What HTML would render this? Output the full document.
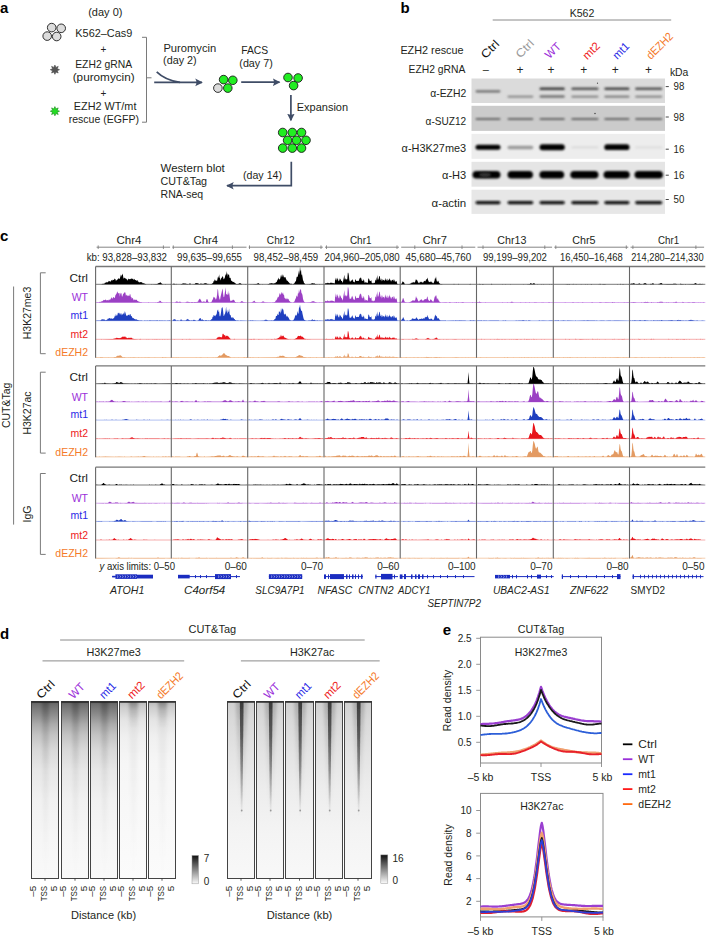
<!DOCTYPE html>
<html><head><meta charset="utf-8"><title>Figure</title>
<style>
html,body{margin:0;padding:0;background:#fff;}
body{width:706px;height:937px;overflow:hidden;}
svg{display:block;font-family:"Liberation Sans", sans-serif;font-size:10.5px;fill:#231f20;}
</style></head><body>
<svg width="706" height="937" viewBox="0 0 706 937">
<text x="0" y="12.7" font-weight="bold" fill="#000" font-size="15">a</text>
<text x="105.3" y="15.6" text-anchor="middle" font-size="11">(day 0)</text>
<circle cx="51.7" cy="27.6" r="4.3" fill="#dcdcdc" stroke="#1a1a1a" stroke-width="0.9"/>
<circle cx="61.2" cy="28.3" r="4.3" fill="#dcdcdc" stroke="#1a1a1a" stroke-width="0.9"/>
<circle cx="47.2" cy="36.1" r="4.3" fill="#dcdcdc" stroke="#1a1a1a" stroke-width="0.9"/>
<circle cx="56.7" cy="36.5" r="4.3" fill="#dcdcdc" stroke="#1a1a1a" stroke-width="0.9"/>
<text x="75.3" y="37.1" textLength="57" lengthAdjust="spacingAndGlyphs" font-size="11">K562–Cas9</text>
<text x="103.3" y="53.2" text-anchor="middle" font-size="10">+</text>
<polygon points="59.5,69.7 57.2,70.7 58.2,73 55.9,72 54.9,74.3 53.9,72 51.6,73 52.6,70.7 50.3,69.7 52.6,68.7 51.6,66.4 53.9,67.4 54.9,65.1 55.9,67.4 58.2,66.4 57.2,68.7" fill="#555" stroke="#444" stroke-width="0.6"/>
<text x="75.2" y="68.3" textLength="57" lengthAdjust="spacingAndGlyphs" font-size="11">EZH2 gRNA</text>
<text x="72.7" y="80.8" textLength="62" lengthAdjust="spacingAndGlyphs" font-size="11">(puromycin)</text>
<text x="103.3" y="96.8" text-anchor="middle" font-size="10">+</text>
<polygon points="59.5,111.2 57.2,112.2 58.2,114.5 55.9,113.5 54.9,115.8 53.9,113.5 51.6,114.5 52.6,112.2 50.3,111.2 52.6,110.2 51.6,107.9 53.9,108.9 54.9,106.6 55.9,108.9 58.2,107.9 57.2,110.2" fill="#22dd22" stroke="#158a15" stroke-width="0.6"/>
<text x="73.8" y="110.2" textLength="62.6" lengthAdjust="spacingAndGlyphs" font-size="11">EZH2 WT/mt</text>
<text x="68.7" y="122.8" textLength="70.3" lengthAdjust="spacingAndGlyphs" font-size="11">rescue (EGFP)</text>
<path d="M142,37.3 H146.5 V122.2 H142 M146.5,77.8 H151.5" fill="none" stroke="#7a7a7a" stroke-width="1"/>
<defs><marker id="ah" viewBox="0 0 10 10" refX="8" refY="5" markerWidth="5" markerHeight="5" orient="auto-start-reverse"><path d="M0,0.5 L9,5 L0,9.5 Q3,5 0,0.5 Z" fill="#3f4c66"/></marker></defs>
<path d="M154.2,82.4 H202" fill="none" stroke="#3f4c66" stroke-width="1.7" marker-end="url(#ah)"/>
<path d="M156.7,71.8 Q165,80 180,82.4" fill="none" stroke="#3f4c66" stroke-width="1.7"/>
<text x="163.4" y="51.5" textLength="52.8" lengthAdjust="spacingAndGlyphs" font-size="11">Puromycin</text>
<text x="163.1" y="64" textLength="33.6" lengthAdjust="spacingAndGlyphs" font-size="11">(day 2)</text>
<circle cx="217.9" cy="88.1" r="4.3" fill="#dcdcdc" stroke="#1a1a1a" stroke-width="0.9"/>
<circle cx="223.6" cy="79.6" r="4.3" fill="#22ee22" stroke="#1a1a1a" stroke-width="0.9"/>
<circle cx="232.8" cy="80.3" r="4.3" fill="#22ee22" stroke="#1a1a1a" stroke-width="0.9"/>
<circle cx="227.8" cy="88.1" r="4.3" fill="#22ee22" stroke="#1a1a1a" stroke-width="0.9"/>
<text x="241.2" y="53.8" textLength="27" lengthAdjust="spacingAndGlyphs" font-size="11">FACS</text>
<text x="239.3" y="66.6" textLength="33.5" lengthAdjust="spacingAndGlyphs" font-size="11">(day 7)</text>
<path d="M241.2,82.2 H279.5" fill="none" stroke="#3f4c66" stroke-width="1.7" marker-end="url(#ah)"/>
<circle cx="288" cy="77.5" r="4.3" fill="#22ee22" stroke="#1a1a1a" stroke-width="0.9"/>
<circle cx="298.1" cy="78" r="4.3" fill="#22ee22" stroke="#1a1a1a" stroke-width="0.9"/>
<circle cx="293.6" cy="85.6" r="4.3" fill="#22ee22" stroke="#1a1a1a" stroke-width="0.9"/>
<path d="M290.9,95 V120.3" fill="none" stroke="#3f4c66" stroke-width="1.7" marker-end="url(#ah)"/>
<text x="296.8" y="111" textLength="51.3" lengthAdjust="spacingAndGlyphs" font-size="11">Expansion</text>
<circle cx="282.7" cy="132.5" r="4.3" fill="#22ee22" stroke="#1a1a1a" stroke-width="0.9"/>
<circle cx="292.3" cy="132.5" r="4.3" fill="#22ee22" stroke="#1a1a1a" stroke-width="0.9"/>
<circle cx="301.5" cy="132.5" r="4.3" fill="#22ee22" stroke="#1a1a1a" stroke-width="0.9"/>
<circle cx="287.6" cy="140.3" r="4.3" fill="#22ee22" stroke="#1a1a1a" stroke-width="0.9"/>
<circle cx="296.5" cy="140.3" r="4.3" fill="#22ee22" stroke="#1a1a1a" stroke-width="0.9"/>
<circle cx="306" cy="140.3" r="4.3" fill="#22ee22" stroke="#1a1a1a" stroke-width="0.9"/>
<circle cx="282.7" cy="148.1" r="4.3" fill="#22ee22" stroke="#1a1a1a" stroke-width="0.9"/>
<circle cx="292.3" cy="148.1" r="4.3" fill="#22ee22" stroke="#1a1a1a" stroke-width="0.9"/>
<circle cx="301.5" cy="148.1" r="4.3" fill="#22ee22" stroke="#1a1a1a" stroke-width="0.9"/>
<path d="M291.3,161.7 V185.7 H227" fill="none" stroke="#3f4c66" stroke-width="1.7" marker-end="url(#ah)"/>
<text x="243" y="179.1" textLength="39" lengthAdjust="spacingAndGlyphs" font-size="11">(day 14)</text>
<text x="160.6" y="172.3" textLength="64.2" lengthAdjust="spacingAndGlyphs" font-size="11">Western blot</text>
<text x="160.6" y="185" textLength="46.5" lengthAdjust="spacingAndGlyphs" font-size="11">CUT&amp;Tag</text>
<text x="160.6" y="197.8" textLength="42.6" lengthAdjust="spacingAndGlyphs" font-size="11">RNA-seq</text>
<text x="400.4" y="13.3" font-weight="bold" fill="#000" font-size="15">b</text>
<text x="582" y="16.7" text-anchor="middle" textLength="24.7" lengthAdjust="spacingAndGlyphs">K562</text>
<line x1="492.7" y1="20" x2="671.2" y2="20" stroke="#8a8a8a" stroke-width="1"/>
<text x="400.4" y="53.5" textLength="63.2" lengthAdjust="spacingAndGlyphs">EZH2 rescue</text>
<text x="408.6" y="73.4" textLength="56.8" lengthAdjust="spacingAndGlyphs">EZH2 gRNA</text>
<text x="485.5" y="59.3" textLength="20.6" lengthAdjust="spacingAndGlyphs" transform="rotate(-45 485.5 59.3)" fill="#111" font-size="11.5">Ctrl</text>
<text x="520.2" y="58.8" textLength="20.6" lengthAdjust="spacingAndGlyphs" transform="rotate(-45 520.2 58.8)" fill="#9a9a9a" font-size="11.5">Ctrl</text>
<text x="549.6" y="59.3" textLength="17" lengthAdjust="spacingAndGlyphs" transform="rotate(-45 549.6 59.3)" fill="#9b30d9" font-size="11.5">WT</text>
<text x="587.2" y="60.2" textLength="19.2" lengthAdjust="spacingAndGlyphs" transform="rotate(-45 587.2 60.2)" fill="#ee2222" font-size="11.5">mt2</text>
<text x="617.3" y="59.9" textLength="18.2" lengthAdjust="spacingAndGlyphs" transform="rotate(-45 617.3 59.9)" fill="#2a2ae6" font-size="11.5">mt1</text>
<text x="651" y="59.9" textLength="32.2" lengthAdjust="spacingAndGlyphs" transform="rotate(-45 651 59.9)" fill="#f47a2a" font-size="11.5">dEZH2</text>
<text x="485.7" y="73" text-anchor="middle" font-size="11">–</text>
<text x="519.9" y="73.6" text-anchor="middle" font-size="12">+</text>
<text x="551" y="73.6" text-anchor="middle" font-size="12">+</text>
<text x="583.7" y="73.6" text-anchor="middle" font-size="12">+</text>
<text x="615.2" y="73.6" text-anchor="middle" font-size="12">+</text>
<text x="648.6" y="73.6" text-anchor="middle" font-size="12">+</text>
<text x="669.9" y="75.6" textLength="18.5" lengthAdjust="spacingAndGlyphs">kDa</text>
<defs><filter id="bl" x="-20%" y="-200%" width="140%" height="500%"><feGaussianBlur stdDeviation="0.9"/></filter><filter id="bl2" x="-20%" y="-200%" width="140%" height="500%"><feGaussianBlur stdDeviation="1.3"/></filter></defs>
<rect x="471.5" y="78.5" width="193.5" height="24.5" fill="#dbdbdb"/>
<rect x="471.5" y="105.8" width="193.5" height="25.1" fill="#cbcbcb"/>
<rect x="471.5" y="133.9" width="193.5" height="24.9" fill="#ededed"/>
<rect x="471.5" y="161.8" width="193.5" height="24.9" fill="#e5e5e5"/>
<rect x="471.5" y="189.7" width="193.5" height="24.2" fill="#e7e7e7"/>
<rect x="475.5" y="90.2" width="25" height="2.2" rx="1.1" fill="#6a6a6a" opacity="1" filter="url(#bl)"/>
<rect x="507.5" y="95.7" width="25.8" height="1.8" rx="0.9" fill="#7a7a7a" opacity="1" filter="url(#bl)"/>
<rect x="539.5" y="87.5" width="25.3" height="2.6" rx="1.3" fill="#3a3a3a" opacity="1" filter="url(#bl)"/>
<rect x="539.5" y="95.6" width="25.3" height="2" rx="1" fill="#5a5a5a" opacity="1" filter="url(#bl)"/>
<rect x="571.3" y="87.6" width="27.2" height="2.4" rx="1.2" fill="#555" opacity="1" filter="url(#bl)"/>
<rect x="571.3" y="95.7" width="27.2" height="1.8" rx="0.9" fill="#777" opacity="1" filter="url(#bl)"/>
<rect x="604.3" y="87.5" width="25.2" height="2.6" rx="1.3" fill="#444" opacity="1" filter="url(#bl)"/>
<rect x="604.3" y="95.7" width="25.2" height="1.8" rx="0.9" fill="#6a6a6a" opacity="1" filter="url(#bl)"/>
<rect x="635.1" y="87.6" width="27.2" height="2.4" rx="1.2" fill="#555" opacity="1" filter="url(#bl)"/>
<rect x="635.1" y="95.7" width="27.2" height="1.8" rx="0.9" fill="#777" opacity="1" filter="url(#bl)"/>
<rect x="475.5" y="117.9" width="25" height="2" rx="1" fill="#666" opacity="1" filter="url(#bl)"/>
<rect x="507.5" y="117.9" width="25.8" height="2" rx="1" fill="#666" opacity="1" filter="url(#bl)"/>
<rect x="539.5" y="117.9" width="25.3" height="2" rx="1" fill="#666" opacity="1" filter="url(#bl)"/>
<rect x="571.3" y="117.9" width="27.2" height="2" rx="1" fill="#666" opacity="1" filter="url(#bl)"/>
<rect x="604.3" y="117.9" width="25.2" height="2" rx="1" fill="#666" opacity="1" filter="url(#bl)"/>
<rect x="635.1" y="117.9" width="27.2" height="2" rx="1" fill="#666" opacity="1" filter="url(#bl)"/>
<rect x="475.5" y="144.8" width="25" height="5" rx="2.5" fill="#000" opacity="1" filter="url(#bl2)"/>
<rect x="507.5" y="145.7" width="25.8" height="3.6" rx="1.8" fill="#9a9a9a" opacity="1" filter="url(#bl2)"/>
<rect x="539.5" y="144.2" width="25.3" height="6" rx="3" fill="#000" opacity="1" filter="url(#bl2)"/>
<rect x="571.3" y="146.2" width="27.2" height="2.4" rx="1.2" fill="#dcdcdc" opacity="1" filter="url(#bl)"/>
<rect x="604.3" y="144.3" width="25.2" height="5.8" rx="2.9" fill="#000" opacity="1" filter="url(#bl2)"/>
<rect x="635.1" y="146.2" width="27.2" height="2.4" rx="1.2" fill="#dedede" opacity="1" filter="url(#bl)"/>
<rect x="472.5" y="171" width="28" height="7.6" rx="3.8" fill="#000" filter="url(#bl2)"/>
<rect x="507.5" y="171" width="25.5" height="7.6" rx="3.8" fill="#000" filter="url(#bl2)"/>
<rect x="539.4" y="171" width="24.8" height="7.6" rx="3.8" fill="#000" filter="url(#bl2)"/>
<rect x="570.3" y="171" width="28.2" height="7.6" rx="3.8" fill="#000" filter="url(#bl2)"/>
<rect x="603.5" y="171" width="26.3" height="7.6" rx="3.8" fill="#000" filter="url(#bl2)"/>
<rect x="634.5" y="171" width="28.5" height="7.6" rx="3.8" fill="#000" filter="url(#bl2)"/>
<ellipse cx="485" cy="174.8" rx="6" ry="2.4" fill="#333" filter="url(#bl2)"/>
<rect x="475.5" y="200.9" width="25" height="3.3" rx="1.6" fill="#111" opacity="1" filter="url(#bl)"/>
<rect x="507.5" y="200.9" width="25.8" height="3.3" rx="1.6" fill="#111" opacity="1" filter="url(#bl)"/>
<rect x="539.5" y="200.9" width="25.3" height="3.3" rx="1.6" fill="#111" opacity="1" filter="url(#bl)"/>
<rect x="571.3" y="200.9" width="27.2" height="3.3" rx="1.6" fill="#111" opacity="1" filter="url(#bl)"/>
<rect x="604.3" y="200.9" width="25.2" height="3.3" rx="1.6" fill="#111" opacity="1" filter="url(#bl)"/>
<rect x="635.1" y="200.9" width="27.2" height="3.3" rx="1.6" fill="#111" opacity="1" filter="url(#bl)"/>
<circle cx="597.5" cy="83.2" r="0.6" fill="#444"/><circle cx="595" cy="113.5" r="0.7" fill="#333"/>
<line x1="665.7" y1="86.6" x2="668.8" y2="86.6" stroke="#333" stroke-width="0.9"/>
<text x="673.6" y="90.4" textLength="10.8" lengthAdjust="spacingAndGlyphs">98</text>
<line x1="665.7" y1="117" x2="668.8" y2="117" stroke="#333" stroke-width="0.9"/>
<text x="673.6" y="120.8" textLength="10.8" lengthAdjust="spacingAndGlyphs">98</text>
<line x1="665.7" y1="149.2" x2="668.8" y2="149.2" stroke="#333" stroke-width="0.9"/>
<text x="673.6" y="153" textLength="10.8" lengthAdjust="spacingAndGlyphs">16</text>
<line x1="665.7" y1="175.2" x2="668.8" y2="175.2" stroke="#333" stroke-width="0.9"/>
<text x="673.6" y="179" textLength="10.8" lengthAdjust="spacingAndGlyphs">16</text>
<line x1="665.7" y1="199.5" x2="668.8" y2="199.5" stroke="#333" stroke-width="0.9"/>
<text x="673.6" y="203.3" textLength="10.8" lengthAdjust="spacingAndGlyphs">50</text>
<text x="466.2" y="97.4" text-anchor="end" textLength="36" lengthAdjust="spacingAndGlyphs" font-size="11">α-EZH2</text>
<text x="466.2" y="124.9" text-anchor="end" textLength="40.6" lengthAdjust="spacingAndGlyphs" font-size="11">α-SUZ12</text>
<text x="466.2" y="152.4" text-anchor="end" textLength="64.6" lengthAdjust="spacingAndGlyphs" font-size="11">α-H3K27me3</text>
<text x="466.2" y="179.3" text-anchor="end" textLength="24.2" lengthAdjust="spacingAndGlyphs" font-size="11">α-H3</text>
<text x="466.2" y="206.5" text-anchor="end" textLength="34.7" lengthAdjust="spacingAndGlyphs" font-size="11">α-actin</text>
<text x="0" y="240.8" font-weight="bold" fill="#000" font-size="15">c</text>
<text x="129" y="243.8" text-anchor="middle" textLength="25.1" lengthAdjust="spacingAndGlyphs">Chr4</text>
<line x1="96.6" y1="247.2" x2="170.1" y2="247.2" stroke="#777" stroke-width="0.9"/>
<line x1="98.2" y1="245.4" x2="98.2" y2="249" stroke="#777" stroke-width="0.8"/>
<line x1="163.4" y1="245.4" x2="163.4" y2="249" stroke="#777" stroke-width="0.8"/>
<text x="167" y="260.6" text-anchor="end" textLength="80.3" lengthAdjust="spacingAndGlyphs" font-size="10.3">kb: 93,828–93,832</text>
<text x="205.8" y="243.8" text-anchor="middle" textLength="24.6" lengthAdjust="spacingAndGlyphs">Chr4</text>
<line x1="172.3" y1="247.2" x2="246.5" y2="247.2" stroke="#777" stroke-width="0.9"/>
<line x1="173.3" y1="245.4" x2="173.3" y2="249" stroke="#777" stroke-width="0.8"/>
<line x1="232.4" y1="245.4" x2="232.4" y2="249" stroke="#777" stroke-width="0.8"/>
<text x="209.5" y="260.6" text-anchor="middle" textLength="65" lengthAdjust="spacingAndGlyphs" font-size="10.3">99,635–99,655</text>
<text x="280.7" y="243.8" text-anchor="middle" textLength="27.7" lengthAdjust="spacingAndGlyphs">Chr12</text>
<line x1="248.7" y1="247.2" x2="322.8" y2="247.2" stroke="#777" stroke-width="0.9"/>
<line x1="249.5" y1="245.4" x2="249.5" y2="249" stroke="#777" stroke-width="0.8"/>
<line x1="321" y1="245.4" x2="321" y2="249" stroke="#777" stroke-width="0.8"/>
<text x="285.9" y="260.6" text-anchor="middle" textLength="64.6" lengthAdjust="spacingAndGlyphs" font-size="10.3">98,452–98,459</text>
<text x="360.7" y="243.8" text-anchor="middle" textLength="21.6" lengthAdjust="spacingAndGlyphs">Chr1</text>
<line x1="325" y1="247.2" x2="399" y2="247.2" stroke="#777" stroke-width="0.9"/>
<line x1="326.5" y1="245.4" x2="326.5" y2="249" stroke="#777" stroke-width="0.8"/>
<line x1="397" y1="245.4" x2="397" y2="249" stroke="#777" stroke-width="0.8"/>
<text x="362.1" y="260.6" text-anchor="middle" textLength="75" lengthAdjust="spacingAndGlyphs" font-size="10.3">204,960–205,080</text>
<text x="434.9" y="243.8" text-anchor="middle" textLength="24.2" lengthAdjust="spacingAndGlyphs">Chr7</text>
<line x1="401.2" y1="247.2" x2="475.3" y2="247.2" stroke="#777" stroke-width="0.9"/>
<line x1="414.8" y1="245.4" x2="414.8" y2="249" stroke="#777" stroke-width="0.8"/>
<line x1="462" y1="245.4" x2="462" y2="249" stroke="#777" stroke-width="0.8"/>
<text x="438.4" y="260.6" text-anchor="middle" textLength="65.8" lengthAdjust="spacingAndGlyphs" font-size="10.3">45,680–45,760</text>
<text x="511.8" y="243.8" text-anchor="middle" textLength="29.1" lengthAdjust="spacingAndGlyphs">Chr13</text>
<line x1="477.5" y1="247.2" x2="552.1" y2="247.2" stroke="#777" stroke-width="0.9"/>
<line x1="483" y1="245.4" x2="483" y2="249" stroke="#777" stroke-width="0.8"/>
<line x1="544.8" y1="245.4" x2="544.8" y2="249" stroke="#777" stroke-width="0.8"/>
<text x="514.9" y="260.6" text-anchor="middle" textLength="64" lengthAdjust="spacingAndGlyphs" font-size="10.3">99,199–99,202</text>
<text x="583.8" y="243.8" text-anchor="middle" textLength="23.3" lengthAdjust="spacingAndGlyphs">Chr5</text>
<line x1="554.3" y1="247.2" x2="628.3" y2="247.2" stroke="#777" stroke-width="0.9"/>
<line x1="555.8" y1="245.4" x2="555.8" y2="249" stroke="#777" stroke-width="0.8"/>
<line x1="626.3" y1="245.4" x2="626.3" y2="249" stroke="#777" stroke-width="0.8"/>
<text x="591.4" y="260.6" text-anchor="middle" textLength="62.8" lengthAdjust="spacingAndGlyphs" font-size="10.3">16,450–16,468</text>
<text x="668.6" y="243.8" text-anchor="middle" textLength="21.1" lengthAdjust="spacingAndGlyphs">Chr1</text>
<line x1="630.5" y1="247.2" x2="704.1" y2="247.2" stroke="#777" stroke-width="0.9"/>
<line x1="632.9" y1="245.4" x2="632.9" y2="249" stroke="#777" stroke-width="0.8"/>
<line x1="695.9" y1="245.4" x2="695.9" y2="249" stroke="#777" stroke-width="0.8"/>
<text x="667.4" y="260.6" text-anchor="middle" textLength="72.5" lengthAdjust="spacingAndGlyphs" font-size="10.3">214,280–214,330</text>
<line x1="95.6" y1="284.3" x2="705.3" y2="284.3" stroke="#6a6a6a" stroke-width="0.9"/>
<polygon points="96.4,284.3 96.4,284.2 101.4,284.2 101.9,284.1 102.4,283.8 102.9,283.9 103.4,283.7 103.9,283.7 104.4,283.7 104.9,282.8 105.4,282.7 105.9,282.5 106.4,282.5 106.9,281.7 107.4,282.3 107.9,282.4 108.4,281.6 108.9,280.8 109.4,281.5 109.9,281.1 110.4,281.8 110.9,281.2 111.4,280.2 111.9,280 112.4,280.8 112.9,279.6 113.4,279.9 113.9,280 114.4,278.3 114.9,279.4 115.4,278.8 115.9,280.9 116.4,280 116.9,280.5 117.4,279.5 117.9,278.9 118.4,278.5 118.9,278.3 119.4,279 119.9,278.5 120.4,274.2 120.9,277.8 121.4,274.9 121.9,275.8 122.4,273.5 122.9,275 123.4,278 123.9,278.7 124.4,277.7 124.9,277.7 125.4,278.2 125.9,279.1 126.4,279.5 126.9,278.6 127.4,280.4 127.9,280.3 128.4,278.6 128.9,279 129.4,278.9 129.9,279.5 130.4,279.1 130.9,278.8 131.4,278.5 131.9,278.8 132.4,278.9 132.9,278.6 133.4,280.2 133.9,278.8 134.4,278.9 134.9,280 135.4,280.1 135.9,280.3 136.4,280.7 136.9,280.5 137.4,280.1 137.9,281.4 138.4,281.4 138.9,282.2 139.4,282 139.9,282.7 140.4,282.1 140.9,281.9 141.4,282.2 141.9,282.2 142.4,282.8 142.9,283.4 143.4,283 143.9,283.4 144.4,283.5 144.9,283.8 145.4,283.9 145.9,284.1 146.4,284.2 150.9,284.3 151.4,284 151.9,284.3 156.9,284.1 157.4,283.8 157.9,283.8 158.4,283.1 158.9,283.2 159.4,282.8 159.9,282.7 160.4,281.9 160.9,282.9 161.4,283.2 161.9,283.8 162.4,283.9 162.9,284.2 164.9,284.3 165.4,283.9 165.9,284.2 169.9,284.2 170.4,283.8 170.5,284.3" fill="#000000"/>
<polygon points="172.1,284.3 172.1,284.3 173.1,284.2 173.6,283.5 174.1,283.8 174.6,283.7 175.1,284.2 175.6,284.3 176.1,283.8 176.6,284.3 180.6,284.2 181.1,284 181.6,284.1 182.1,284 182.6,283.4 183.1,283.2 183.6,283.6 184.1,283.6 184.6,283.5 185.1,283.4 185.6,283.6 186.1,284 186.6,283.8 187.1,283.9 187.6,283.9 188.1,284 188.6,284.2 189.1,284.1 189.6,283.5 190.1,283.1 190.6,283.9 191.1,284.2 192.6,284.2 193.1,284.1 193.6,284.2 194.1,284.2 194.6,284 195.1,283.7 195.6,282.9 196.1,283.3 196.6,283 197.1,283.3 197.6,283.2 198.1,283.3 198.6,283.8 199.1,284 199.6,283.9 200.1,283.9 200.6,283.5 201.1,283.5 201.6,283.8 202.1,284 202.6,283.7 203.1,284 203.6,283.7 204.1,283.5 204.6,283.2 205.1,283.4 205.6,283.1 206.1,283.3 206.6,283.5 207.1,283.7 207.6,284 208.1,283.8 208.6,284.2 209.1,284 209.6,284.2 211.1,284.1 211.6,283.9 212.1,283.6 212.6,283.2 213.1,283 213.6,280.9 214.1,281.5 214.6,279.4 215.1,279.8 215.6,280.7 216.1,281 216.6,280.4 217.1,280.8 217.6,278.2 218.1,276.3 218.6,278.3 219.1,274.3 219.6,277.7 220.1,278.6 220.6,280.6 221.1,278.5 221.6,277.8 222.1,277.2 222.6,276.1 223.1,277 223.6,279.4 224.1,278.6 224.6,278.6 225.1,276.3 225.6,274.6 226.1,274.5 226.6,271 227.1,276.7 227.6,273.1 228.1,275.1 228.6,274.2 229.1,274.8 229.6,278.1 230.1,277.8 230.6,278.1 231.1,281 231.6,280.5 232.1,281.2 232.6,281.7 233.1,281.8 233.6,282.2 234.1,281.7 234.6,283 235.1,283.1 235.6,283.6 236.1,283.9 236.6,284.1 238.1,284.1 238.6,283.8 239.1,283.4 239.6,283.3 240.1,283.1 240.6,283.6 241.1,283.7 241.6,284 242.1,284.2 245.1,284.3 245.6,284 246.1,284.3 246.6,284.2 246.9,284.3" fill="#000000"/>
<polygon points="248.5,284.3 248.5,284.2 250.5,284.2 251,284 251.5,284.3 255.5,284.1 256,284 256.5,284 257,283.7 257.5,283.4 258,283.3 258.5,282.9 259,283.7 259.5,284 260,284.1 260.5,284.2 262,284.2 262.5,284.1 263,284.3 267.5,284.2 268,284.1 268.5,284.1 269,284 269.5,283.5 270,283.3 270.5,283.6 271,283.3 271.5,283.2 272,283 272.5,283.6 273,283.5 273.5,283.5 274,283.6 274.5,283 275,283.4 275.5,282.7 276,282.2 276.5,281.9 277,281.5 277.5,279.5 278,279.7 278.5,277.6 279,278.9 279.5,279.5 280,279.2 280.5,277.3 281,274.7 281.5,277.5 282,274.1 282.5,275.5 283,277.6 283.5,274.4 284,277.8 284.5,277.1 285,277.5 285.5,277.1 286,279 286.5,279.7 287,281.1 287.5,280.4 288,281.4 288.5,282.1 289,282.5 289.5,283.3 290,283.4 290.5,283.9 291,283.5 291.5,283.8 292,284.2 292.5,284.2 293,284 293.5,284 294,283.6 294.5,283.2 295,282.1 295.5,281.6 296,280.7 296.5,277.5 297,276.6 297.5,277.2 298,275.3 298.5,273.3 299,270.2 299.5,275 300,266.1 300.5,271.8 301,269.4 301.5,275.4 302,273.9 302.5,277 303,280.2 303.5,281.1 304,283.1 304.5,283.2 305,284 305.5,284.2 307.5,284.2 308,283.9 308.5,284.2 309,284.2 309.5,283.9 310,284.1 310.5,284 311,283.8 311.5,283.5 312,283.3 312.5,283.2 313,283.2 313.5,283.5 314,283.6 314.5,283.3 315,284 315.5,284 316,284.1 316.5,284.2 317,284 317.5,284.3 319,284.2 319.5,283.9 320,284.3 323,284.3 323.2,284.3" fill="#000000"/>
<polygon points="324.8,284.3 324.8,284.3 325.3,283.2 325.8,283.3 326.3,283.1 326.8,283.4 327.3,282.6 327.8,283.3 328.3,283.3 328.8,282.8 329.3,283.5 329.8,282.9 330.3,282.6 330.8,283 331.3,282.5 331.8,283.1 332.3,282.8 332.8,283.2 333.3,283.2 333.8,283.1 334.3,283.5 334.8,283.2 335.3,277.4 335.8,280 336.3,280.4 336.8,278 337.3,279.8 337.8,277.5 338.3,280.8 338.8,281.2 339.3,277.9 339.8,281.1 340.3,278.6 340.8,279.7 341.3,280.9 341.8,281 342.3,281.8 342.8,283 343.3,279.9 343.8,277.7 344.3,274.7 344.8,279.7 345.3,278.1 345.8,279.8 346.3,278.7 346.8,279.9 347.3,278.7 347.8,272.8 348.3,272.8 348.8,274.9 349.3,279.7 349.8,281.5 350.3,281.7 350.8,280.9 351.3,279.7 351.8,281.3 352.3,280.1 352.8,279 353.3,281.9 353.8,281.8 354.3,282.4 354.8,282 355.3,278.9 355.8,280 356.3,281 356.8,280.9 357.3,280.9 357.8,280.8 358.3,281 358.8,280.7 359.3,279.2 359.8,278 360.3,277.7 360.8,277.4 361.3,281 361.8,277.5 362.3,280.9 362.8,281.1 363.3,280.5 363.8,279.1 364.3,281.2 364.8,283 365.3,282.8 365.8,281.8 366.3,282.4 366.8,282.7 367.3,282.8 367.8,283.1 368.3,278.6 368.8,278.4 369.3,279.5 369.8,280.9 370.3,280.8 370.8,281.2 371.3,279.9 371.8,283.1 372.3,283.4 372.8,282.7 373.3,282.8 373.8,283.5 374.3,282.8 374.8,283.1 375.3,280.2 375.8,279.9 376.3,277.1 376.8,280.7 377.3,279.2 377.8,275 378.3,280.1 378.8,278.8 379.3,275.9 379.8,276.1 380.3,279.2 380.8,280.4 381.3,278.2 381.8,281.4 382.3,278.7 382.8,280.9 383.3,279.8 383.8,280.1 384.3,281.3 384.8,279.8 385.3,280.1 385.8,278 386.3,279.8 386.8,280.8 387.3,281.1 387.8,278.6 388.3,280.8 388.8,279.8 389.3,279.6 389.8,278.1 390.3,281.6 390.8,279.6 391.3,281.8 391.8,279.9 392.3,280.2 392.8,279.8 393.3,279.2 393.8,281.4 394.3,279.2 394.8,281.4 395.3,281.3 395.8,282 396.3,280.8 396.8,282.1 397.3,284.3 397.8,283.8 398.3,284.2 399.3,284.3 399.4,284.3" fill="#000000"/>
<polygon points="401,284.3 401,284.1 401.5,283.7 402,282.9 402.5,281.4 403,281.6 403.5,282.2 404,282.3 404.5,283.8 405,284.1 405.5,284.3 409.5,284.1 410,283.8 410.5,283.5 411,283.6 411.5,283 412,282.2 412.5,282.7 413,282.4 413.5,281.8 414,283 414.5,282.3 415,282.2 415.5,280.6 416,279 416.5,280.1 417,280.3 417.5,280.7 418,282.5 418.5,282.6 419,283.4 419.5,282.7 420,281.5 420.5,282.5 421,281.4 421.5,281.9 422,282.6 422.5,282.4 423,282.5 423.5,282.2 424,280.7 424.5,281.3 425,280.8 425.5,281.5 426,279.4 426.5,279.5 427,279.1 427.5,277.6 428,280.1 428.5,280.9 429,282.2 429.5,281.9 430,281.8 430.5,282.2 431,280.8 431.5,282.4 432,281.8 432.5,283 433,283.3 433.5,283.2 434,282 434.5,280.8 435,278.1 435.5,279.1 436,276.2 436.5,279.9 437,281.7 437.5,281.8 438,280.5 438.5,281.2 439,282.8 439.5,283.3 440,283.8 440.5,284.1 441,284.2 441.5,283.9 442,283.9 442.5,284.3 453.5,284.3 454,283.8 454.5,284.2 458,284.2 458.5,283.8 459,284.2 469,284.2 469.5,283.9 470,284.3 470.5,283.8 471,284.2 475.5,284.2 475.7,284.3" fill="#000000"/>
<polygon points="477.3,284.3 477.3,284.2 479.3,284.2 479.8,283.8 480.3,284.1 480.8,284.2 481.8,284.3 482.3,283.9 482.8,283.9 483.3,284 483.8,284.3 490.8,284.3 491.3,283.9 491.8,283.8 492.3,284.2 502.3,284.2 502.8,284.1 503.3,284.2 504.8,284.3 505.3,283.9 505.8,284.2 509.8,284.3 510.3,284.1 510.8,284.3 523.3,284.2 523.8,283.9 524.3,284.2 527.3,284.3 527.8,284 528.3,284 528.8,284.2 529.3,283.9 529.8,283.9 530.3,283.5 530.8,283 531.3,283.4 531.8,283.7 532.3,283.7 532.8,283.9 533.3,283.4 533.8,282.9 534.3,283.4 534.8,283.6 535.3,284.2 537.3,284.2 537.8,284.1 538.3,284.3 541.3,284.3 541.8,284.1 542.3,284.2 542.8,284.3 543.3,283.9 543.8,284.2 549.3,284.3 549.8,284 550.3,284.3 550.8,284.2 551.3,284 551.8,284.2 552.3,284.2 552.5,284.3" fill="#000000"/>
<polygon points="554.1,284.3 554.1,284.2 565.6,284.2 566.1,284 566.6,284.2 567.6,284.1 568.1,284.1 568.6,284.3 569.1,284 569.6,283.9 570.1,284.3 572.6,284.2 573.1,283.8 573.6,284.2 575.6,284.3 576.1,284.1 576.6,284.2 580.6,284.3 581.1,284.1 581.6,284.3 585.1,284.2 585.6,284.1 586.1,284.3 587.1,284.3 587.6,283.9 588.1,284.3 590.6,284.3 591.1,284 591.6,284 592.1,284.3 598.6,284.2 599.1,283.8 599.6,284.2 600.1,284.2 600.6,283.8 601.1,284.3 604.1,284.1 604.6,283.9 605.1,284.2 605.6,284.1 606.1,284.3 617.1,284.3 617.6,283.9 618.1,284.2 620.1,284.2 620.6,283.8 621.1,284.2 622.1,284.2 622.6,284.1 623.1,284.2 623.6,283.9 624.1,284.2 628.1,284.2 628.6,283.9 628.7,284.3" fill="#000000"/>
<polygon points="630.3,284.3 630.3,284.1 630.8,283.8 631.3,283.7 631.8,283.6 632.3,283.8 632.8,283.5 633.3,283.5 633.8,283.1 634.3,283.3 634.8,283.9 635.3,284.1 635.8,284.2 636.3,283.9 636.8,284 637.3,284 637.8,284.1 638.3,283.9 638.8,283.4 639.3,283.4 639.8,283.4 640.3,284 640.8,284.1 642.8,284.2 643.3,284 643.8,283.6 644.3,283.4 644.8,283 645.3,283.2 645.8,283.3 646.3,283.7 646.8,284 647.3,284.2 649.8,284.3 650.3,283.8 650.8,284.1 651.3,284.1 651.8,283.8 652.3,283.7 652.8,283.1 653.3,283.2 653.8,283.9 654.3,284.2 658.3,284.2 658.8,283.8 659.3,283.9 659.8,283.6 660.3,283 660.8,283.4 661.3,283.1 661.8,283.3 662.3,283.8 662.8,284.2 667.3,284.1 667.8,283.9 668.3,284.1 668.8,284.1 672.8,284.1 673.3,284 673.8,283.6 674.3,283.8 674.8,283.8 675.3,284 675.8,283.6 676.3,284 676.8,284.1 677.3,284.3 679.8,284.2 680.3,284.1 680.8,283.6 681.3,284 681.8,284.1 684.8,284.2 685.3,284 685.8,284.1 686.3,284.3 693.8,284.1 694.3,283.8 694.8,283.5 695.3,283.3 695.8,283.1 696.3,283.6 696.8,283.9 697.3,284.1 697.8,284.2 698.3,284 698.8,284 699.3,283.8 699.8,284.1 700.3,284.1 700.8,283.8 701.3,284 701.8,283.9 702.3,284.2 702.8,283.8 703.3,284.2 704.3,284.3 704.5,284.3" fill="#000000"/>
<line x1="95.6" y1="302.5" x2="705.3" y2="302.5" stroke="#d7a8ee" stroke-width="0.9"/>
<polygon points="96.4,302.5 96.4,302.4 96.9,302.2 97.4,302.4 97.9,302.1 98.4,302.4 98.9,302.3 99.4,301.8 99.9,302.1 100.4,302 100.9,301.4 101.4,301.4 101.9,301.2 102.4,301.3 102.9,300.8 103.4,300.2 103.9,299.7 104.4,300.2 104.9,299.9 105.4,299.4 105.9,299.8 106.4,300.2 106.9,300.5 107.4,300.1 107.9,300.2 108.4,300.4 108.9,299.6 109.4,299.6 109.9,300.2 110.4,299.3 110.9,298.4 111.4,297.9 111.9,297 112.4,299.1 112.9,298 113.4,297.1 113.9,297.2 114.4,298.2 114.9,297.6 115.4,295.2 115.9,294.5 116.4,294 116.9,292.4 117.4,291.2 117.9,293.1 118.4,293.6 118.9,292.9 119.4,292.9 119.9,296.8 120.4,292.6 120.9,294 121.4,292.8 121.9,296.6 122.4,296.4 122.9,294.4 123.4,293.8 123.9,293.2 124.4,292.2 124.9,292.4 125.4,292.4 125.9,295.8 126.4,294.4 126.9,295.8 127.4,295.3 127.9,296.3 128.4,296.1 128.9,295.1 129.4,296.2 129.9,293.8 130.4,294.6 130.9,297.3 131.4,296.9 131.9,298.9 132.4,297.7 132.9,298.3 133.4,299.6 133.9,300.6 134.4,299.7 134.9,299.3 135.4,300.2 135.9,299.6 136.4,299.7 136.9,300 137.4,301 137.9,301 138.4,301.4 138.9,301.5 139.4,301.7 139.9,302 140.4,302 140.9,302.2 141.4,302 141.9,302.4 147.9,302.5 148.4,302.1 148.9,302.4 155.4,302.5 155.9,302.3 156.4,302.4 156.9,302.4 157.4,302.1 157.9,302.1 158.4,301.9 158.9,301.5 159.4,301.4 159.9,300.6 160.4,300.9 160.9,301.3 161.4,302 161.9,301.9 162.4,302.3 162.9,302.4 166.4,302.4 166.9,302.3 167.4,302.5 170.4,302.4 170.5,302.5" fill="#9b40c4"/>
<polygon points="172.1,302.5 172.1,302.5 175.1,302.4 175.6,302.1 176.1,301.5 176.6,301.6 177.1,301.5 177.6,301.7 178.1,301.8 178.6,302.2 179.1,302.2 179.6,301.4 180.1,301.6 180.6,302 181.1,302.3 181.6,302.4 185.1,302.4 185.6,302.3 186.1,302.2 186.6,301.8 187.1,301.4 187.6,301.7 188.1,302.1 188.6,301.8 189.1,301.9 189.6,302.1 190.1,302.4 190.6,302.3 191.1,302.1 191.6,301.9 192.1,301.9 192.6,302 193.1,301.9 193.6,302.4 194.1,301.9 194.6,302 195.1,301.9 195.6,301.9 196.1,302.3 196.6,302.1 197.1,301.8 197.6,301.8 198.1,301.8 198.6,300.1 199.1,299.6 199.6,298.7 200.1,298.8 200.6,299.7 201.1,300.4 201.6,301.7 202.1,301.8 202.6,301.9 203.1,301.2 203.6,301.7 204.1,301.3 204.6,301.7 205.1,302 205.6,301.9 206.1,300.9 206.6,299.3 207.1,298.9 207.6,299.8 208.1,301.4 208.6,301.9 209.1,302.4 210.1,302.4 210.6,302.2 211.1,302.2 211.6,301.7 212.1,300.6 212.6,299.7 213.1,298.6 213.6,296.6 214.1,298 214.6,297 215.1,297.7 215.6,299.4 216.1,299.3 216.6,297.8 217.1,294.4 217.6,288.8 218.1,290 218.6,295.3 219.1,297.3 219.6,299.5 220.1,299.5 220.6,296.4 221.1,294.5 221.6,292.5 222.1,290 222.6,288.5 223.1,293.6 223.6,296.9 224.1,297.3 224.6,294.3 225.1,291 225.6,287.2 226.1,294.1 226.6,294.2 227.1,294.7 227.6,294.8 228.1,290.7 228.6,295 229.1,292.5 229.6,296 230.1,300.1 230.6,301.3 231.1,301.1 231.6,300.4 232.1,300.8 232.6,299.9 233.1,299.4 233.6,300.1 234.1,300 234.6,300.9 235.1,301.9 235.6,301.9 236.1,302.3 236.6,302.4 237.1,302.4 237.6,302.2 238.1,302.4 239.6,302.4 240.1,302.2 240.6,301.9 241.1,301.2 241.6,301.2 242.1,301.4 242.6,301.3 243.1,301.7 243.6,302.2 244.1,302.3 246.6,302.4 246.9,302.5" fill="#9b40c4"/>
<polygon points="248.5,302.5 248.5,302.5 249,302.2 249.5,302.5 252,302.3 252.5,301.8 253,301.7 253.5,301.2 254,300.7 254.5,300.7 255,301.8 255.5,302.1 256,302.3 259.5,302.5 260,302.2 260.5,302.4 261,302.3 261.5,302.2 262,301.7 262.5,301.6 263,301.5 263.5,301.5 264,301.6 264.5,302.2 265,302.3 269.5,302.4 270,302.2 270.5,302.5 272.5,302.4 273,302 273.5,302.4 274,302.3 274.5,302 275,301.9 275.5,300.9 276,300.3 276.5,300.2 277,299.1 277.5,297.9 278,296.5 278.5,297.4 279,296 279.5,293.8 280,292.9 280.5,294.7 281,294.4 281.5,292.3 282,292.4 282.5,294.2 283,292.3 283.5,295.1 284,294.6 284.5,298.1 285,298.2 285.5,298.6 286,299.4 286.5,298.9 287,297.6 287.5,299.6 288,298.8 288.5,299 289,300.5 289.5,301 290,301.5 290.5,301.9 291,302.2 291.5,302.3 292,302.4 293,302.4 293.5,302.2 294,301.7 294.5,301.5 295,300.1 295.5,298.8 296,298 296.5,295.2 297,296.4 297.5,296.8 298,292.5 298.5,294.1 299,289 299.5,292.9 300,290.6 300.5,289 301,289.7 301.5,293.3 302,293.6 302.5,295.2 303,298.8 303.5,300.5 304,301.6 304.5,301.9 305,302.3 305.5,302.4 310,302.3 310.5,302.1 311,302 311.5,301.6 312,301.7 312.5,301 313,301.4 313.5,301 314,301.6 314.5,301.6 315,302 315.5,302 316,302.3 316.5,302.2 317,302.4 319,302.5 319.5,302.2 320,302.4 323,302.5 323.2,302.5" fill="#9b40c4"/>
<polygon points="324.8,302.5 324.8,302.5 325.3,300.7 325.8,301.1 326.3,300.9 326.8,301.4 327.3,300 327.8,301.3 328.3,301.2 328.8,300.7 329.3,301.4 329.8,300.8 330.3,300.4 330.8,301.2 331.3,300.2 331.8,301 332.3,300.5 332.8,301.1 333.3,301 333.8,301.3 334.3,301.4 334.8,301.4 335.3,293.1 335.8,297 336.3,297.4 336.8,294.3 337.3,296.5 337.8,293.7 338.3,297.6 338.8,298.5 339.3,294.1 339.8,298.8 340.3,295.1 340.8,296.6 341.3,298 341.8,298.2 342.3,299.3 342.8,300.8 343.3,296.4 343.8,293.9 344.3,290 344.8,296.6 345.3,294.4 345.8,296.5 346.3,295.2 346.8,296.8 347.3,295 347.8,287.2 348.3,287.5 348.8,290.4 349.3,296.7 349.8,298.9 350.3,298.9 350.8,298.5 351.3,296.1 351.8,298.8 352.3,297 352.8,295.6 353.3,299.5 353.8,299.2 354.3,300 354.8,299.6 355.3,295.5 355.8,296.5 356.3,298.3 356.8,298.2 357.3,298.1 357.8,297.7 358.3,298.1 358.8,297.9 359.3,295.9 359.8,294.2 360.3,293.9 360.8,293.3 361.3,298.3 361.8,293.7 362.3,298 362.8,298.4 363.3,297.5 363.8,295.7 364.3,298.2 364.8,300.8 365.3,300.5 365.8,299.3 366.3,300.5 366.8,300 367.3,300.6 367.8,301 368.3,295.2 368.8,294.8 369.3,296.3 369.8,298.1 370.3,297.9 370.8,298.6 371.3,296.7 371.8,300.9 372.3,301.3 372.8,300.2 373.3,300.8 373.8,301.4 374.3,300.6 374.8,300.8 375.3,297.1 375.8,296.8 376.3,293.2 376.8,297.7 377.3,295.9 377.8,290.9 378.3,297.1 378.8,295.4 379.3,291.6 379.8,291.9 380.3,295.7 380.8,297.5 381.3,294.8 381.8,298.7 382.3,295.1 382.8,298.1 383.3,296.7 383.8,297 384.3,298.7 384.8,296.6 385.3,296.7 385.8,294.3 386.3,296.7 386.8,297.8 387.3,298.3 387.8,295.1 388.3,298.4 388.8,296.2 389.3,296.4 389.8,294.3 390.3,298.7 390.8,296.2 391.3,299.3 391.8,297.3 392.3,297.2 392.8,296.7 393.3,295.9 393.8,299.2 394.3,296 394.8,298.8 395.3,298.5 395.8,299.5 396.3,297.9 396.8,299.4 397.3,302.5 398.8,302.4 399.3,302.1 399.4,302.5" fill="#9b40c4"/>
<polygon points="401,302.5 401,302.3 401.5,301.7 402,300.9 402.5,299.5 403,297.8 403.5,298.4 404,300 404.5,301.5 405,302 405.5,302.3 408,302.5 408.5,302.2 409,302.4 409.5,302.1 410,302 410.5,301.7 411,301.5 411.5,301.3 412,300.9 412.5,300.3 413,300.5 413.5,300.8 414,299.8 414.5,300.9 415,300.6 415.5,298.8 416,296 416.5,297.8 417,298.1 417.5,299.3 418,300.6 418.5,301.3 419,301.4 419.5,301.1 420,300 420.5,300.3 421,299.2 421.5,299.6 422,299.7 422.5,300.7 423,300.8 423.5,300.4 424,299.8 424.5,299.6 425,299 425.5,299 426,299.5 426.5,299 427,297.3 427.5,296.2 428,299.5 428.5,299.7 429,301.1 429.5,300.9 430,300.6 430.5,299.3 431,299.4 431.5,300.1 432,300.7 432.5,301.3 433,301.8 433.5,301.4 434,299.8 434.5,297.5 435,296.2 435.5,296.4 436,294.7 436.5,296.4 437,299.7 437.5,298.6 438,298.2 438.5,300.5 439,300.5 439.5,301.7 440,301.9 440.5,302.3 441,302.5 446,302.3 446.5,302.2 447,302.4 449,302.4 449.5,302 450,302.1 450.5,302.2 451,302.5 454,302.4 454.5,302.3 455,302.5 455.5,302.4 456,302.1 456.5,302.1 457,302.5 458,302.5 458.5,302.1 459,302.4 460.5,302.4 461,302.2 461.5,302.4 462,302.1 462.5,302.1 463,302.2 463.5,302 464,302.5 472,302.4 472.5,302 473,302.4 475,302.4 475.5,302.2 475.7,302.5" fill="#9b40c4"/>
<polygon points="477.3,302.5 477.3,302 477.8,302.1 478.3,302 478.8,302.4 479.3,301.6 479.8,301.8 480.3,301.9 480.8,302.2 481.3,302.5 481.8,302.2 482.3,302.5 484.8,302.4 485.3,302 485.8,302.4 501.8,302.4 502.3,302.1 502.8,302.4 506.8,302.5 507.3,302.1 507.8,302.4 510.3,302.4 510.8,302.1 511.3,302.1 511.8,301.5 512.3,301.7 512.8,302.3 513.3,302.2 513.8,302.4 520.3,302.4 520.8,302.1 521.3,302.5 525.3,302.5 525.8,302.1 526.3,302.4 528.8,302.5 529.3,302.1 529.8,302.4 533.8,302.5 534.3,302 534.8,302.4 535.3,302.5 535.8,302 536.3,302.2 536.8,302.5 541.3,302.4 541.8,302.2 542.3,302.4 542.8,302.2 543.3,302.2 543.8,302.4 548.3,302.4 548.8,302.1 549.3,302.1 549.8,302.5 552.3,302.5 552.5,302.5" fill="#9b40c4"/>
<polygon points="554.1,302.5 554.1,302.5 564.6,302.5 565.1,302.1 565.6,302.4 572.1,302.5 572.6,302 573.1,302.4 573.6,302.1 574.1,302.4 576.6,302.5 577.1,302.3 577.6,302.5 578.1,302.4 578.6,302.2 579.1,302.5 582.1,302.4 582.6,302.1 583.1,302.3 583.6,302.5 591.1,302.5 591.6,302.2 592.1,302 592.6,302.2 593.1,302.4 599.1,302.4 599.6,302 600.1,302.5 600.6,302.1 601.1,302 601.6,302.5 604.6,302.5 605.1,302.3 605.6,302.3 611.6,302.4 612.1,302 612.6,302 613.1,302.1 613.6,302.4 614.1,302.4 614.6,302.1 615.1,302.4 617.6,302.5 618.1,302.3 618.6,302.4 623.6,302.4 624.1,302.1 624.6,302.4 628.6,302.3 628.7,302.5" fill="#9b40c4"/>
<polygon points="630.3,302.5 630.3,302.4 631.3,302.4 631.8,302.1 632.3,302.3 632.8,302.2 633.3,302.1 633.8,302 634.3,302.2 634.8,301.9 635.3,302.4 635.8,302 636.3,302.4 640.8,302.5 641.3,302.1 641.8,302.4 643.3,302.4 643.8,302.3 644.3,302.1 644.8,301.9 645.3,301.7 645.8,301.9 646.3,302 646.8,301.9 647.3,301.7 647.8,302.1 648.3,302.3 648.8,302.3 649.3,302.4 650.8,302.4 651.3,302.1 651.8,302 652.3,302.4 653.3,302.5 653.8,302.2 654.3,302.4 656.8,302.5 657.3,302.1 657.8,302.3 658.3,302.3 658.8,302.3 659.3,302 659.8,301.7 660.3,301.7 660.8,301.7 661.3,301.7 661.8,301.8 662.3,301.7 662.8,302.1 663.3,302.4 666.3,302.4 666.8,302 667.3,302.4 667.8,302.5 668.3,302.1 668.8,302.4 672.8,302.5 673.3,302.1 673.8,302.4 674.3,302.5 674.8,302.1 675.3,302 675.8,301.8 676.3,301.7 676.8,301.7 677.3,302.4 681.8,302.4 682.3,302.2 682.8,301.7 683.3,301.9 683.8,302.3 684.3,302.4 687.3,302.4 687.8,302.2 688.3,302.2 688.8,302.3 689.3,302.4 689.8,302.1 690.3,302.5 691.8,302.4 692.3,302.2 692.8,302 693.3,302.1 693.8,302.3 694.3,302.3 694.8,302.1 695.3,302.5 698.3,302.5 698.8,302.2 699.3,302.4 700.3,302.5 700.8,302.2 701.3,302.4 702.8,302.4 703.3,302 703.8,302.5 704.3,302.5 704.5,302.5" fill="#9b40c4"/>
<line x1="95.6" y1="320.7" x2="705.3" y2="320.7" stroke="#a9b9ef" stroke-width="0.9"/>
<polygon points="96.4,320.7 96.4,320.6 97.9,320.6 98.4,320.4 98.9,320.6 99.4,320.6 99.9,320.4 100.4,320.4 100.9,320.1 101.4,319.4 101.9,319.5 102.4,319.5 102.9,318.9 103.4,319.6 103.9,319.5 104.4,319.4 104.9,319.8 105.4,320.2 105.9,320.2 106.4,319.9 106.9,319.7 107.4,319.5 107.9,318.4 108.4,318.5 108.9,318.7 109.4,317.9 109.9,317.9 110.4,318.4 110.9,318.7 111.4,318 111.9,319.1 112.4,319.1 112.9,318.3 113.4,318.5 113.9,317.9 114.4,317.2 114.9,315.5 115.4,316.5 115.9,313.9 116.4,315.3 116.9,316.1 117.4,314.9 117.9,312.7 118.4,313.5 118.9,312.6 119.4,312.9 119.9,314.6 120.4,314.6 120.9,312.7 121.4,313.8 121.9,315.4 122.4,313.4 122.9,314.9 123.4,312.4 123.9,314.3 124.4,310.7 124.9,314.9 125.4,311.4 125.9,314.4 126.4,315.8 126.9,315.7 127.4,315.7 127.9,315 128.4,314.9 128.9,314.4 129.4,315.7 129.9,314.1 130.4,314.1 130.9,315.7 131.4,315.9 131.9,316.4 132.4,317.8 132.9,318.2 133.4,317.9 133.9,318.5 134.4,319.2 134.9,318.8 135.4,319.3 135.9,319.7 136.4,319.3 136.9,319.6 137.4,319.9 137.9,320.1 138.4,320.3 138.9,320.3 139.4,320.4 139.9,320.5 140.4,320.3 140.9,320.7 141.4,320.6 141.9,320.3 142.4,320.7 143.9,320.7 144.4,320.3 144.9,320.7 145.4,320.7 145.9,320.3 146.4,320.7 146.9,320.4 147.4,320.6 147.9,320.4 148.4,320.7 148.9,320.6 149.4,320.2 149.9,320.6 150.4,320.3 150.9,320.6 151.4,320.4 151.9,320.6 156.4,320.6 156.9,320.2 157.4,320.3 157.9,320.6 158.9,320.7 159.4,320.3 159.9,320.6 162.9,320.6 163.4,320.4 163.9,320.7 164.4,320.4 164.9,320.6 166.9,320.7 167.4,320.4 167.9,320.6 168.9,320.6 169.4,320.3 169.9,320.6 170.4,320.7 170.5,320.7" fill="#1f3fbf"/>
<polygon points="172.1,320.7 172.1,320.7 172.6,320.5 173.1,320.1 173.6,319.2 174.1,319.4 174.6,318.9 175.1,319.4 175.6,319.6 176.1,320.4 176.6,320.6 177.1,320.5 177.6,320.3 178.1,320.6 178.6,320.6 179.1,320.5 179.6,320.7 180.1,320.4 180.6,319.8 181.1,319 181.6,319.9 182.1,320.2 182.6,320.6 185.6,320.6 186.1,320 186.6,319.6 187.1,319.5 187.6,318.8 188.1,319.5 188.6,319.6 189.1,320 189.6,320.3 190.1,320.5 190.6,320.6 191.1,320.5 191.6,320.3 192.1,320.6 192.6,320.4 193.1,320.1 193.6,319.7 194.1,319.9 194.6,319.7 195.1,320.3 195.6,320.2 196.1,320.7 198.1,320.6 198.6,320 199.1,319.1 199.6,318.4 200.1,317.9 200.6,318.1 201.1,320 201.6,319.6 202.1,319.2 202.6,319.6 203.1,320.2 203.6,320.1 204.1,320.5 205.1,320.5 205.6,320 206.1,320.1 206.6,320.2 207.1,320.6 208.1,320.6 208.6,320.2 209.1,320.6 210.1,320.5 210.6,320.1 211.1,319.8 211.6,319 212.1,318.9 212.6,316.4 213.1,317.2 213.6,314.8 214.1,315.7 214.6,315.8 215.1,314.9 215.6,316.5 216.1,314.6 216.6,314.5 217.1,311.2 217.6,310 218.1,309.5 218.6,312.3 219.1,311.3 219.6,316 220.1,316.6 220.6,315.1 221.1,311.9 221.6,307.9 222.1,307.6 222.6,307.3 223.1,311.1 223.6,315.9 224.1,315.8 224.6,314.3 225.1,313.5 225.6,311.2 226.1,306.4 226.6,312.3 227.1,309.4 227.6,313.7 228.1,312.1 228.6,311.4 229.1,308.6 229.6,313.7 230.1,315.2 230.6,314.8 231.1,317.5 231.6,317.2 232.1,318.4 232.6,317 233.1,317.5 233.6,317.9 234.1,319 234.6,319.1 235.1,320.1 235.6,320 236.1,320.6 237.1,320.6 237.6,320.4 238.1,320.3 238.6,320.7 239.6,320.7 240.1,320.5 240.6,320.6 246.6,320.7 246.9,320.7" fill="#1f3fbf"/>
<polygon points="248.5,320.7 248.5,320.2 249,320.7 250,320.6 250.5,320.3 251,320.6 252,320.6 252.5,320.3 253,320.6 257.5,320.7 258,320.4 258.5,320.7 264,320.5 264.5,320.2 265,319.8 265.5,319.8 266,319.7 266.5,319.7 267,319.9 267.5,320.3 268,320.5 271,320.6 271.5,320.2 272,320.6 272.5,320.4 273,320.4 273.5,320.3 274,319.9 274.5,319.2 275,319 275.5,318.4 276,315.7 276.5,316 277,316.1 277.5,313.4 278,314.9 278.5,315 279,310.8 279.5,312.1 280,311.8 280.5,313.8 281,308.1 281.5,312.2 282,307.8 282.5,309.5 283,309.1 283.5,310.5 284,314.6 284.5,314.4 285,313.4 285.5,314.1 286,315 286.5,316.9 287,315.6 287.5,316.5 288,317 288.5,317.5 289,318.6 289.5,319.7 290,319.8 290.5,320.2 291,320.4 291.5,320.5 292,320.5 292.5,320.4 293,320.3 293.5,320 294,319.1 294.5,318.2 295,316.3 295.5,314.6 296,316.3 296.5,315.1 297,314.5 297.5,310.9 298,312.9 298.5,314.1 299,307.5 299.5,307.4 300,304.4 300.5,308.3 301,310 301.5,311.1 302,311 302.5,313.8 303,316 303.5,318.2 304,319.4 304.5,319.9 305,320 305.5,320.5 307.5,320.7 308,320.4 308.5,320.5 309,320.3 309.5,320.6 310,320.2 310.5,320.4 311,320.3 311.5,319.9 312,319.5 312.5,319.2 313,319.9 313.5,319.9 314,320 314.5,319.7 315,319.9 315.5,320.4 316,320.5 316.5,320.5 317,320.6 317.5,320.3 318,320.6 318.5,320.7 319,320.4 319.5,320.6 323,320.7 323.2,320.7" fill="#1f3fbf"/>
<polygon points="324.8,320.7 324.8,320.6 325.3,319.6 325.8,319.4 326.3,319.2 326.8,319.9 327.3,318.9 327.8,319.5 328.3,319.6 328.8,319.2 329.3,319.9 329.8,319.2 330.3,319 330.8,319.4 331.3,318.8 331.8,319.5 332.3,319.2 332.8,319.6 333.3,319.7 333.8,319.7 334.3,319.9 334.8,319.8 335.3,313.1 335.8,316.3 336.3,316.6 336.8,314.1 337.3,315.9 337.8,313.6 338.3,317.1 338.8,317.5 339.3,314 339.8,317.7 340.3,314.8 340.8,316 341.3,317.1 341.8,317.2 342.3,318.2 342.8,319.2 343.3,315.7 343.8,313.9 344.3,310.7 344.8,315.9 345.3,314.2 345.8,315.6 346.3,314.6 346.8,316.1 347.3,314.8 347.8,308.6 348.3,308.6 348.8,311 349.3,316 349.8,318 350.3,318 350.8,317.5 351.3,316 351.8,317.7 352.3,316.2 352.8,315.1 353.3,318.3 353.8,318 354.3,318.7 354.8,318.3 355.3,315.1 355.8,316.3 356.3,317.3 356.8,317.1 357.3,316.9 357.8,316.7 358.3,317 358.8,317 359.3,315.4 359.8,314 360.3,313.9 360.8,313.5 361.3,317.3 361.8,313.7 362.3,317.1 362.8,317.3 363.3,316.8 363.8,315.3 364.3,317.4 364.8,319.2 365.3,319.1 365.8,318 366.3,319.1 366.8,319 367.3,319.1 367.8,319.5 368.3,314.8 368.8,314.5 369.3,315.7 369.8,317.2 370.3,317 370.8,317.3 371.3,316.1 371.8,319.4 372.3,319.8 372.8,319 373.3,319.3 373.8,319.9 374.3,319.2 374.8,318.9 375.3,316.3 375.8,316.1 376.3,313.3 376.8,316.9 377.3,315.5 377.8,311.3 378.3,316.4 378.8,315 379.3,311.9 379.8,311.8 380.3,315.4 380.8,316.2 381.3,314.5 381.8,317.6 382.3,314.8 382.8,317.2 383.3,315.7 383.8,316.3 384.3,317.6 384.8,315.9 385.3,316.3 385.8,314.1 386.3,316 386.8,317 387.3,317.3 387.8,314.7 388.3,317.4 388.8,316 389.3,315.9 389.8,314.2 390.3,317.6 390.8,316 391.3,317.8 391.8,316.5 392.3,316.5 392.8,316 393.3,315.3 393.8,318 394.3,315.4 394.8,317.7 395.3,317.6 395.8,318 396.3,317 396.8,318.3 397.3,320.2 397.8,320.7 399.3,320.6 399.4,320.7" fill="#1f3fbf"/>
<polygon points="401,320.7 401,320.5 401.5,319.8 402,319.2 402.5,318.7 403,317.2 403.5,317.5 404,318.9 404.5,319.8 405,320.5 405.5,320.7 407,320.6 407.5,320.3 408,320.7 409.5,320.5 410,320 410.5,320.1 411,319.8 411.5,319.7 412,318.6 412.5,318.6 413,318.5 413.5,318.8 414,319.2 414.5,318.7 415,319 415.5,318.6 416,318.5 416.5,316.9 417,317.9 417.5,318.9 418,319.1 418.5,320 419,319.6 419.5,319.1 420,318.8 420.5,318.9 421,319.1 421.5,318.3 422,318.9 422.5,318.8 423,318.7 423.5,318 424,318.7 424.5,318.5 425,317.1 425.5,317.6 426,316.4 426.5,317.2 427,317 427.5,314.7 428,317.2 428.5,317.4 429,319.3 429.5,319 430,319.3 430.5,319.2 431,318 431.5,319.1 432,319 432.5,319.8 433,319.9 433.5,319.8 434,319.3 434.5,317.2 435,315.6 435.5,314.5 436,316.5 436.5,315.7 437,317 437.5,318.4 438,318.5 438.5,317.9 439,318.7 439.5,319.8 440,320 440.5,320.5 443.5,320.5 444,320.4 444.5,320.4 445,320.6 445.5,320.2 446,320.7 453.5,320.6 454,320.4 454.5,320.7 455,320.5 455.5,320.2 456,320.6 459,320.6 459.5,320.3 460,320.6 460.5,320.6 461,320.2 461.5,320.6 465,320.6 465.5,320.5 466,320.7 469.5,320.7 470,320.3 470.5,320.3 471,320.6 473,320.6 473.5,320.2 474,320.6 474.5,320.4 475,320.7 475.5,320.6 475.7,320.7" fill="#1f3fbf"/>
<polygon points="477.3,320.7 477.3,320.7 477.8,320.3 478.3,320.6 481.3,320.6 481.8,320.3 482.3,320.7 482.8,320.7 483.3,320.4 483.8,320.6 484.3,320.6 484.8,320.5 485.3,320.6 486.3,320.7 486.8,320.3 487.3,320.7 490.3,320.6 490.8,320.5 491.3,320.6 498.3,320.6 498.8,320.4 499.3,320.7 501.8,320.7 502.3,320.4 502.8,320.7 503.3,320.3 503.8,320.7 504.3,320.7 504.8,320.4 505.3,320.6 505.8,320.3 506.3,320.7 515.3,320.7 515.8,320.4 516.3,320.6 518.3,320.7 518.8,320.2 519.3,320.6 521.8,320.6 522.3,320.4 522.8,320 523.3,319.9 523.8,320.4 524.3,320.6 524.8,320.4 525.3,320.4 525.8,320.7 526.3,320.2 526.8,320.7 527.8,320.7 528.3,320.2 528.8,320.6 529.3,320.6 529.8,320.2 530.3,320.5 530.8,320.7 538.3,320.7 538.8,320.5 539.3,320.6 539.8,320.3 540.3,320.7 542.3,320.6 542.8,320.5 543.3,320.6 548.3,320.7 548.8,320.4 549.3,320.7 549.8,320.2 550.3,320.6 550.8,320.6 551.3,320.4 551.8,320.6 552.3,320.3 552.5,320.7" fill="#1f3fbf"/>
<polygon points="554.1,320.7 554.1,320.3 554.6,320.7 555.1,320.7 555.6,320.3 556.1,320.6 557.6,320.6 558.1,320.2 558.6,320.2 559.1,320.7 563.1,320.6 563.6,320.3 564.1,320.6 567.1,320.7 567.6,320.2 568.1,320.4 568.6,320.6 575.1,320.7 575.6,320.3 576.1,320.7 583.6,320.6 584.1,320.2 584.6,320.6 585.1,320.7 585.6,320.5 586.1,320.5 586.6,320.6 587.1,320.6 587.6,320.3 588.1,320.3 588.6,320.6 594.6,320.6 595.1,320.5 595.6,320.7 596.6,320.6 597.1,320.4 597.6,320.7 599.6,320.7 600.1,320.2 600.6,320.7 601.6,320.6 602.1,320.3 602.6,320.7 603.1,320.6 603.6,320.4 604.1,320.7 604.6,320.4 605.1,320.7 608.6,320.5 609.1,320.5 609.6,320.6 610.6,320.6 611.1,320.5 611.6,320.7 612.1,320.7 612.6,320.4 613.1,320.7 613.6,320.4 614.1,320.5 614.6,320.6 617.1,320.6 617.6,320.4 618.1,320.6 628.6,320.7 628.7,320.7" fill="#1f3fbf"/>
<polygon points="630.3,320.7 630.3,320.6 630.8,320.2 631.3,320.7 631.8,320.7 632.3,320.3 632.8,320.6 633.3,320.7 633.8,320.3 634.3,320.4 634.8,320.1 635.3,320.3 635.8,320.4 636.3,320.5 636.8,320.4 637.3,320.5 637.8,320.6 638.3,320.6 638.8,320.4 639.3,320.5 639.8,320 640.3,320 640.8,320.5 643.8,320.5 644.3,320.3 644.8,320.1 645.3,320.2 645.8,320.3 646.3,320.6 647.8,320.6 648.3,320.4 648.8,320.7 651.3,320.6 651.8,320.4 652.3,320.7 653.3,320.6 653.8,320.1 654.3,320.4 654.8,320.4 655.3,320.4 655.8,320.5 656.3,320.6 657.3,320.5 657.8,320.3 658.3,320.5 658.8,320.4 659.3,320.5 659.8,320.3 660.3,320.5 660.8,320.4 661.3,320 661.8,320 662.3,320.3 662.8,320.5 667.3,320.6 667.8,320.5 668.3,320.6 668.8,320.3 669.3,320.3 669.8,320.5 670.3,320.3 670.8,320.2 671.3,319.9 671.8,320.2 672.3,320.1 672.8,320.6 676.8,320.6 677.3,320 677.8,320 678.3,319.8 678.8,320.4 679.3,320.2 679.8,320 680.3,319.9 680.8,320.3 681.3,320.5 681.8,320.6 682.3,320.7 682.8,320.3 683.3,320.6 685.3,320.7 685.8,320.3 686.3,320.6 687.3,320.7 687.8,320.5 688.3,320.6 688.8,320.3 689.3,320.3 689.8,320 690.3,319.9 690.8,319.7 691.3,319.8 691.8,320.3 692.3,319.9 692.8,320.2 693.3,320.3 693.8,320.6 696.3,320.7 696.8,320.2 697.3,320.6 697.8,320.5 698.3,320.7 701.3,320.7 701.8,320.4 702.3,320.6 704.3,320.7 704.5,320.7" fill="#1f3fbf"/>
<line x1="95.6" y1="339.3" x2="705.3" y2="339.3" stroke="#f5a5a5" stroke-width="0.9"/>
<polygon points="96.4,339.3 96.4,339.2 100.9,339.2 101.4,339 101.9,339.3 111.4,339.1 111.9,339.1 112.4,339 112.9,339 113.4,338.8 113.9,338.7 114.4,338.5 114.9,338.4 115.4,338.3 115.9,338.3 116.4,338.1 116.9,337.6 117.4,338.1 117.9,338.1 118.4,338 118.9,338.3 119.4,338.1 119.9,338.3 120.4,337.9 120.9,337.8 121.4,337.3 121.9,337.4 122.4,336.4 122.9,336.8 123.4,336.5 123.9,336.9 124.4,337.1 124.9,336 125.4,336.8 125.9,337.6 126.4,337.4 126.9,337.7 127.4,338.2 127.9,338.1 128.4,338 128.9,337.6 129.4,338.1 129.9,337.7 130.4,338.1 130.9,337.4 131.4,337.8 131.9,338.1 132.4,338.6 132.9,338.8 133.4,338.7 133.9,339.1 134.4,339.1 138.9,339.3 139.4,339.1 139.9,339.2 140.4,338.8 140.9,339.2 146.4,339.2 146.9,339 147.4,339.3 148.4,339.2 148.9,338.9 149.4,339.3 152.4,339.3 152.9,338.9 153.4,339.2 153.9,339.2 154.4,338.9 154.9,339.3 155.4,339.2 155.9,339 156.4,339.1 156.9,339.3 157.4,339.3 157.9,338.9 158.4,339.3 159.4,339.2 159.9,339 160.4,339.2 161.9,339.3 162.4,338.9 162.9,339.2 164.4,339.2 164.9,339.1 165.4,339.3 167.4,339.3 167.9,338.9 168.4,339.2 170.4,339.2 170.5,339.3" fill="#e8141b"/>
<polygon points="172.1,339.3 172.1,339.3 174.1,339.3 174.6,339 175.1,339.2 181.6,339.3 182.1,338.9 182.6,339 183.1,339.3 186.1,339.2 186.6,339 187.1,339.3 188.6,339.2 189.1,338.8 189.6,339.3 190.1,339.3 190.6,339 191.1,339.3 202.6,339.3 203.1,339.1 203.6,339.3 215.6,339.1 216.1,338.9 216.6,338.4 217.1,338 217.6,337.3 218.1,337.4 218.6,337 219.1,336.5 219.6,337.2 220.1,337.1 220.6,337 221.1,337.8 221.6,337 222.1,336.8 222.6,333.4 223.1,334.6 223.6,333.4 224.1,335.6 224.6,335.1 225.1,335.1 225.6,336.7 226.1,336 226.6,335.6 227.1,336.2 227.6,335.4 228.1,336.4 228.6,336.5 229.1,337.2 229.6,337.9 230.1,338.6 230.6,339 231.1,339.2 233.6,339.3 234.1,338.8 234.6,338.9 235.1,339.2 246.6,339.3 246.9,339.3" fill="#e8141b"/>
<polygon points="248.5,339.3 248.5,339.3 251.5,339.1 252,338.9 252.5,339.3 253,339.2 253.5,338.8 254,339.3 254.5,338.8 255,339.2 258,339.2 258.5,339 259,339.1 259.5,339.3 260,339.1 260.5,339.3 261.5,339.3 262,339 262.5,339.3 266,339.3 266.5,338.9 267,339.2 267.5,339.2 268,339 268.5,339.2 270.5,339.2 271,339.1 271.5,339.1 274,339.2 274.5,338.8 275,338.7 275.5,339.1 276,339 276.5,338.7 277,338.7 277.5,338.6 278,338 278.5,337.8 279,337.9 279.5,336.4 280,337.3 280.5,336.3 281,334.6 281.5,336.2 282,336.4 282.5,336.1 283,335.5 283.5,335.8 284,336.7 284.5,337.4 285,337.8 285.5,338 286,337.8 286.5,338.6 287,338.7 287.5,338.8 288,339 288.5,339 289,339.2 289.5,339.2 290,339.1 290.5,339.2 293.5,339.2 294,339.1 294.5,339 295,338.9 295.5,338.6 296,338.3 296.5,338 297,337.8 297.5,336.6 298,336.3 298.5,335.7 299,336 299.5,336.1 300,336.2 300.5,335.2 301,336.3 301.5,336.7 302,336 302.5,336.9 303,337.1 303.5,337.7 304,338.2 304.5,338.8 305,338.7 305.5,339 306,338.8 306.5,339.2 307,339.2 307.5,338.9 308,339 308.5,339.2 309,339.1 309.5,339.3 310,339.1 310.5,339.3 323,339.3 323.2,339.3" fill="#e8141b"/>
<polygon points="324.8,339.3 324.8,339.2 325.3,339.1 325.8,339.1 326.3,338.7 326.8,339.1 327.3,338.9 327.8,339.1 328.3,339.1 328.8,339.1 329.3,339 329.8,339 330.3,339 330.8,339.1 331.3,338.9 331.8,339.1 332.3,339 332.8,338.8 333.3,339 333.8,339.1 334.3,339.2 334.8,339 335.3,336 335.8,337.6 336.3,338 336.8,336.3 337.3,337.6 337.8,336 338.3,338.1 338.8,338.5 339.3,335.9 339.8,338.5 340.3,336.6 340.8,337.4 341.3,338.2 341.8,338.3 342.3,338.7 342.8,338.9 343.3,337.7 343.8,336.2 344.3,333.4 344.8,337.6 345.3,336.4 345.8,337.6 346.3,337 346.8,337.6 347.3,336.9 347.8,331.3 348.3,331.2 348.8,333.7 349.3,337.6 349.8,338.3 350.3,338.7 350.8,338.4 351.3,337.6 351.8,338.5 352.3,337.9 352.8,337.1 353.3,338.7 353.8,338.5 354.3,338.8 354.8,338.6 355.3,337.1 355.8,337.7 356.3,338.4 356.8,338.3 357.3,338.3 357.8,337.9 358.3,338.3 358.8,338.2 359.3,337.2 359.8,336.4 360.3,336.2 360.8,335.5 361.3,338.3 361.8,336.1 362.3,338.2 362.8,338.4 363.3,338 363.8,337.2 364.3,338.3 364.8,339.1 365.3,338.8 365.8,338.4 366.3,339 366.8,339 367.3,338.8 367.8,339.1 368.3,336.9 368.8,336.7 369.3,337.5 369.8,338.3 370.3,337.8 370.8,338.5 371.3,337.7 371.8,339 372.3,339.2 372.8,338.6 373.3,339 373.8,339.1 374.3,339 374.8,339.1 375.3,337.8 375.8,337.7 376.3,335.7 376.8,338.1 377.3,337 377.8,334.1 378.3,337.8 378.8,337 379.3,334.6 379.8,334.9 380.3,337.3 380.8,338 381.3,336.7 381.8,338.5 382.3,336.9 382.8,338.3 383.3,337.7 383.8,337.8 384.3,338.5 384.8,337.4 385.3,337.5 385.8,336.4 386.3,337.6 386.8,338.2 387.3,338 387.8,336.8 388.3,338.4 388.8,337.6 389.3,337.5 389.8,336.5 390.3,338.5 390.8,337.6 391.3,338.7 391.8,337.9 392.3,337.9 392.8,337.6 393.3,337.3 393.8,338.3 394.3,337.3 394.8,338.5 395.3,338.2 395.8,338.7 396.3,338.2 396.8,338.8 397.3,339.2 399.3,339.3 399.4,339.3" fill="#e8141b"/>
<polygon points="401,339.3 401,339.2 403,339.1 403.5,339 404,339.3 408.5,339.2 409,339.1 409.5,339.2 412,339.2 412.5,338.8 413,339.1 413.5,339.1 414,338.9 414.5,338.9 415,338.8 415.5,338.6 416,338.4 416.5,338.3 417,338.8 417.5,338.8 418,339 418.5,339 419,339.2 425,339.2 425.5,339.1 426,338.9 426.5,338.7 427,338.3 427.5,338.2 428,337.7 428.5,338.3 429,338.5 429.5,338.7 430,338.9 430.5,339.1 431,339.2 433,339.1 433.5,339.1 434,338.8 434.5,338.7 435,338.2 435.5,338.2 436,337.4 436.5,337.6 437,338.2 437.5,338.5 438,338.9 438.5,339.1 439,339.2 439.5,339.1 440,339.1 440.5,339.2 443,339.3 443.5,339.1 444,339.2 446,339.2 446.5,338.9 447,339.3 447.5,339.3 448,339 448.5,339.2 452.5,339.2 453,338.9 453.5,339.2 455,339.1 455.5,338.9 456,339.2 456.5,338.9 457,339.3 462,339.3 462.5,339.1 463,339.2 464,339.2 464.5,338.9 465,339.3 467.5,339.3 468,339 468.5,339.3 472.5,339.2 473,338.9 473.5,339.2 475,339.3 475.5,338.9 475.7,339.3" fill="#e8141b"/>
<polygon points="477.3,339.3 477.3,339.2 480.8,339.2 481.3,338.8 481.8,339.2 483.8,339.2 484.3,338.9 484.8,339.2 490.3,339.2 490.8,339 491.3,339.2 493.8,339.3 494.3,338.9 494.8,339.2 496.3,339.2 496.8,339 497.3,339.2 497.8,338.8 498.3,338.9 498.8,339.2 499.3,339.3 499.8,338.9 500.3,339.2 501.3,339.2 501.8,338.9 502.3,339.1 502.8,339.2 503.8,339.3 504.3,338.9 504.8,339.2 505.3,339.3 505.8,338.9 506.3,339.2 509.3,339.2 509.8,338.9 510.3,339.3 510.8,339.2 511.3,339 511.8,339.2 513.3,339.3 513.8,339 514.3,339.3 516.8,339.1 517.3,338.9 517.8,339.1 518.3,339.2 519.8,339.3 520.3,339 520.8,339.3 521.3,339.2 521.8,338.9 522.3,339.3 523.8,339.3 524.3,338.8 524.8,339.3 525.8,339.2 526.3,339.1 526.8,339.1 527.3,339.1 527.8,339.2 528.3,339 528.8,339.3 529.3,339 529.8,339.3 531.3,339.2 531.8,339.1 532.3,339.2 533.3,339.3 533.8,338.8 534.3,339.3 534.8,338.9 535.3,339.3 536.3,339.3 536.8,339.1 537.3,339.3 541.3,339.2 541.8,338.9 542.3,339.2 543.8,339.2 544.3,338.9 544.8,339.3 552.3,339.3 552.5,339.3" fill="#e8141b"/>
<polygon points="554.1,339.3 554.1,339.3 565.1,339.2 565.6,338.8 566.1,339.2 568.6,339.3 569.1,338.9 569.6,339 570.1,339.2 575.1,339.3 575.6,338.8 576.1,339.1 576.6,339.2 579.1,339.3 579.6,339.1 580.1,339.1 585.6,339.3 586.1,339 586.6,339.2 587.6,339.2 588.1,339 588.6,339.2 592.1,339.2 592.6,338.8 593.1,339 593.6,339.2 594.6,339.2 595.1,339 595.6,339.3 596.6,339.3 597.1,338.8 597.6,339.2 599.1,339.3 599.6,339.1 600.1,339.3 604.6,339.2 605.1,338.9 605.6,339.3 612.1,339.3 612.6,338.9 613.1,339.3 613.6,339.3 614.1,338.8 614.6,339.2 617.6,339.2 618.1,339 618.6,339.3 619.1,339.1 619.6,339.3 620.6,339.2 621.1,339 621.6,339.2 622.6,339.1 623.1,338.9 623.6,339.2 624.1,338.8 624.6,339.2 628.6,339.2 628.7,339.3" fill="#e8141b"/>
<polygon points="630.3,339.3 630.3,339 630.8,339.2 631.8,339.2 632.3,339 632.8,339.2 634.3,339.2 634.8,338.9 635.3,339.3 638.3,339.3 638.8,338.8 639.3,339 639.8,339.1 640.3,339.2 640.8,338.9 641.3,339.2 643.8,339.3 644.3,339 644.8,339 645.3,339.2 646.3,339.3 646.8,339 647.3,339.2 649.8,339.3 650.3,339 650.8,339.2 651.3,339.1 651.8,338.8 652.3,339.2 653.3,339.3 653.8,338.8 654.3,339.2 668.3,339.3 668.8,338.8 669.3,339.3 672.3,339.3 672.8,339.1 673.3,339.3 675.8,339.2 676.3,338.9 676.8,339 677.3,339 677.8,339.3 678.3,339 678.8,339.3 680.3,339.2 680.8,339 681.3,339.2 684.3,339.1 684.8,338.9 685.3,339.3 686.3,339.2 686.8,339 687.3,339.2 688.8,339.3 689.3,338.9 689.8,339.3 695.8,339.3 696.3,339 696.8,339.2 699.8,339.3 700.3,338.8 700.8,339.2 702.3,339.3 702.8,339.1 703.3,339.3 704.3,339.2 704.5,339.3" fill="#e8141b"/>
<line x1="95.6" y1="357.5" x2="705.3" y2="357.5" stroke="#f4c8a6" stroke-width="0.9"/>
<polygon points="96.4,357.5 96.4,357.5 99.9,357.4 100.4,357 100.9,357.2 101.4,357 101.9,357.4 102.4,357.1 102.9,357.4 107.9,357.5 108.4,357.3 108.9,357.4 113.4,357.4 113.9,357.3 114.4,356.9 114.9,357.1 115.4,357 115.9,356.9 116.4,356.6 116.9,356.1 117.4,355.6 117.9,356.2 118.4,355.7 118.9,355.6 119.4,355.5 119.9,355.5 120.4,355.3 120.9,355.5 121.4,356.1 121.9,356.6 122.4,357.1 122.9,357.1 123.4,357.2 123.9,357.3 124.4,357.3 124.9,357.1 125.4,357.5 128.4,357.4 128.9,357.3 129.4,357.4 130.4,357.5 130.9,357 131.4,357.4 133.4,357.3 133.9,357.2 134.4,357.5 134.9,357.1 135.4,357.5 137.9,357.5 138.4,357.2 138.9,357.3 139.4,357.4 141.4,357.5 141.9,357.3 142.4,357.5 144.4,357.5 144.9,357.2 145.4,357.5 145.9,357.2 146.4,357.5 148.9,357.3 149.4,357.2 149.9,357.4 154.4,357.5 154.9,357.3 155.4,357.4 161.9,357.5 162.4,357.1 162.9,357 163.4,357.5 163.9,357.2 164.4,357.4 164.9,357.3 165.4,357.4 165.9,357.1 166.4,357.4 169.9,357.4 170.4,357.3 170.5,357.5" fill="#e39a62"/>
<polygon points="172.1,357.5 172.1,357.3 175.6,357.4 176.1,357.1 176.6,357.4 177.6,357.5 178.1,357.1 178.6,357.4 195.6,357.5 196.1,357.2 196.6,357.5 199.6,357.4 200.1,357.1 200.6,357.4 201.1,357.4 201.6,357.2 202.1,357.4 207.1,357.5 207.6,357.2 208.1,357.5 212.6,357.5 213.1,357.2 213.6,357.4 215.1,357.4 215.6,357.3 216.1,357.4 216.6,357.3 217.1,357.2 217.6,357.1 218.1,356.5 218.6,356 219.1,356.1 219.6,355.1 220.1,355.3 220.6,355.7 221.1,355.9 221.6,355.1 222.1,355.1 222.6,354.2 223.1,354 223.6,353.1 224.1,353.3 224.6,353.5 225.1,354.1 225.6,354.9 226.1,354.9 226.6,355.3 227.1,355.9 227.6,355.8 228.1,356 228.6,356 229.1,356 229.6,356.7 230.1,356.8 230.6,357.2 231.1,357.4 233.6,357.4 234.1,357.3 234.6,357.4 238.1,357.5 238.6,357.2 239.1,357.4 243.1,357.5 243.6,357.3 244.1,357.2 244.6,357.1 245.1,357.4 245.6,357.4 246.1,357 246.6,357 246.9,357.5" fill="#e39a62"/>
<polygon points="248.5,357.5 248.5,357.2 249,357.4 249.5,357.4 250,357.1 250.5,357.3 251,357.5 252.5,357.5 253,357.1 253.5,357.4 258,357.4 258.5,357.1 259,357.5 275.5,357.3 276,357.3 276.5,357 277,357 277.5,356.7 278,356.8 278.5,356.8 279,356.8 279.5,356.1 280,355.5 280.5,356.1 281,355.7 281.5,355.9 282,356 282.5,355.7 283,355.5 283.5,356 284,356.1 284.5,356.6 285,356.7 285.5,356.9 286,357 286.5,357 287,357 287.5,357.2 288,357.3 288.5,357.3 295,357.3 295.5,357.1 296,356.9 296.5,356.6 297,356.5 297.5,356 298,355.9 298.5,355.5 299,355.1 299.5,355.1 300,355.5 300.5,355.4 301,355.5 301.5,355.8 302,356.1 302.5,356.1 303,356.6 303.5,357 304,356.9 304.5,357 305,357.2 305.5,357.3 306,357.1 306.5,357.4 308.5,357.5 309,357.1 309.5,357.4 310,357.5 310.5,357.1 311,357.5 312.5,357.4 313,357.3 313.5,357.5 316,357.4 316.5,357.1 317,357.4 321.5,357.4 322,357.1 322.5,357.4 323,357.5 323.2,357.5" fill="#e39a62"/>
<polygon points="324.8,357.5 324.8,357.5 327.8,357.4 328.3,357.2 328.8,357.3 329.3,357.3 329.8,357.4 330.8,357.4 331.3,357.2 331.8,357.4 333.8,357.4 334.3,357.1 334.8,357.4 335.3,356 335.8,356.9 336.3,357 336.8,356.2 337.3,356.5 337.8,356 338.3,357.1 338.8,357.1 339.3,355.9 339.8,356.8 340.3,356.3 340.8,356.7 341.3,357 341.8,357 342.3,357.2 342.8,357.3 343.3,356.8 343.8,356.1 344.3,354.6 344.8,356.8 345.3,356.2 345.8,356.8 346.3,356.4 346.8,356.8 347.3,356.4 347.8,353.3 348.3,353.4 348.8,354.8 349.3,356.8 349.8,357.3 350.3,357.2 350.8,357.2 351.3,356.6 351.8,357.2 352.3,356.9 352.8,356.5 353.3,357.3 353.8,357.3 354.3,357.4 354.8,357.3 355.3,356.5 355.8,356.8 356.3,357.1 356.8,357.1 357.3,357 357.8,357.1 358.3,357 358.8,357.1 359.3,356.6 359.8,356.1 360.3,356.1 360.8,355.9 361.3,357.1 361.8,356 362.3,357 362.8,357.1 363.3,357 363.8,356.6 364.3,357.1 364.8,357.4 365.3,357.3 365.8,357.2 366.3,357.3 366.8,357.4 367.3,357 367.8,357.4 368.3,356.2 368.8,356.4 369.3,356.7 369.8,357.1 370.3,357 370.8,357.1 371.3,356.8 371.8,357.4 372.8,357.4 373.3,357.3 373.8,357.3 374.8,357.4 375.3,356.8 375.8,356.6 376.3,355.8 376.8,356.7 377.3,356.5 377.8,355 378.3,356.9 378.8,356.5 379.3,355.2 379.8,355.4 380.3,356.4 380.8,356.9 381.3,356 381.8,357.2 382.3,356.5 382.8,357.1 383.3,356.8 383.8,356.9 384.3,357.2 384.8,356.8 385.3,356.9 385.8,355.9 386.3,356.8 386.8,357 387.3,357.1 387.8,356.5 388.3,356.9 388.8,356.8 389.3,356.8 389.8,356.2 390.3,357.2 390.8,356.4 391.3,357.3 391.8,356.8 392.3,356.9 392.8,356.6 393.3,356.6 393.8,357 394.3,356.7 394.8,357.2 395.3,357.1 395.8,357.3 396.3,357 396.8,356.9 397.3,357.1 397.8,357.5 399.3,357.4 399.4,357.5" fill="#e39a62"/>
<polygon points="401,357.5 401,357.5 401.5,357.1 402,357.4 405,357.5 405.5,357.2 406,357.5 406.5,357 407,357.4 409.5,357.4 410,357.3 410.5,357.4 413.5,357.5 414,357.1 414.5,357.4 417,357.5 417.5,357.2 418,357.3 418.5,357.2 419,357.5 421,357.5 421.5,357.2 422,357.4 425.5,357.3 426,357.3 426.5,356.8 427,357 427.5,357.1 428,357 428.5,357 429,357.2 429.5,357.2 430,357.3 430.5,357.3 431,357.4 431.5,357 432,357.4 433.5,357.4 434,357.1 434.5,357.2 435,357.2 435.5,357 436,357.1 436.5,356.9 437,357.1 437.5,357.2 438,357.3 438.5,357.4 439,357.1 439.5,357.1 440,357.5 440.5,357.4 441,357 441.5,357.5 443.5,357.5 444,357.2 444.5,357.5 452.5,357.4 453,357.3 453.5,357.4 454.5,357.5 455,357 455.5,357.4 456,357 456.5,357.3 457.5,357.4 458,357 458.5,357.5 461.5,357.5 462,357.2 462.5,357.4 465,357.4 465.5,357.2 466,357.4 468,357.5 468.5,357.2 469,357.4 475.5,357.4 475.7,357.5" fill="#e39a62"/>
<polygon points="477.3,357.5 477.3,357.5 480.3,357.5 480.8,357.1 481.3,357.4 486.3,357.4 486.8,357.2 487.3,357.4 503.8,357.5 504.3,357.1 504.8,357.4 506.8,357.4 507.3,357.2 507.8,357 508.3,357.4 512.8,357.5 513.3,357.2 513.8,357.4 518.8,357.4 519.3,357.2 519.8,357.4 521.3,357.5 521.8,357.1 522.3,357.5 523.8,357.4 524.3,357.1 524.8,357.2 525.3,357.5 526.3,357.4 526.8,357.3 527.3,357.4 527.8,357.3 528.3,357.4 528.8,357 529.3,357.5 530.8,357.5 531.3,357.2 531.8,357.5 534.3,357.4 534.8,357.2 535.3,357.4 536.8,357.5 537.3,357.3 537.8,357.4 541.8,357.4 542.3,357 542.8,357.5 545.3,357.5 545.8,357.2 546.3,357.5 547.8,357.4 548.3,357.2 548.8,357.5 550.8,357.4 551.3,357 551.8,357.3 552.3,357.4 552.5,357.5" fill="#e39a62"/>
<polygon points="554.1,357.5 554.1,357.4 556.6,357.5 557.1,357.1 557.6,357.4 558.6,357.5 559.1,357.3 559.6,357.3 560.1,357.4 563.1,357.5 563.6,357.1 564.1,357.4 564.6,357.4 565.1,357.2 565.6,357.4 566.6,357.4 567.1,357.2 567.6,357.2 568.1,357.5 568.6,357.4 569.1,357.1 569.6,357.5 570.1,357 570.6,357.2 571.1,357.4 571.6,357.5 572.1,357.2 572.6,357.5 576.6,357.4 577.1,357 577.6,357.5 580.6,357.4 581.1,357.3 581.6,357.4 585.1,357.4 585.6,357.1 586.1,357.5 593.1,357.4 593.6,357.2 594.1,357.4 595.1,357.5 595.6,357.1 596.1,357.4 598.6,357.4 599.1,357.3 599.6,357.5 601.6,357.4 602.1,357.3 602.6,357.5 603.1,357.4 603.6,357.3 604.1,357.4 605.1,357.4 605.6,357.1 606.1,357.5 609.6,357.4 610.1,357.1 610.6,357.5 617.1,357.3 617.6,357.1 618.1,357.4 618.6,357.1 619.1,357.3 619.6,357.5 620.1,357.2 620.6,357.4 622.6,357.5 623.1,357 623.6,357.4 624.1,357.2 624.6,357.4 625.6,357.4 626.1,357 626.6,357.4 627.6,357.4 628.1,357.2 628.6,357.4 628.7,357.5" fill="#e39a62"/>
<polygon points="630.3,357.5 630.3,357.5 633.8,357.4 634.3,357.2 634.8,357.4 635.3,357 635.8,357.5 636.3,357.4 636.8,357.1 637.3,357.4 641.3,357.4 641.8,357.1 642.3,357.4 642.8,357.2 643.3,357.5 644.3,357.4 644.8,357.2 645.3,357.5 648.3,357.4 648.8,357 649.3,357.5 658.8,357.5 659.3,357.1 659.8,357.5 660.3,357.5 660.8,357.2 661.3,357.4 664.3,357.5 664.8,357.3 665.3,357 665.8,357.5 668.3,357.4 668.8,357.1 669.3,357.5 670.8,357.4 671.3,357 671.8,357.2 672.3,357.5 689.8,357.4 690.3,357.3 690.8,357.5 692.8,357.4 693.3,357.2 693.8,357.4 694.3,357.1 694.8,357.4 696.8,357.4 697.3,357.1 697.8,357.4 698.3,357.2 698.8,357.5 699.3,357.3 699.8,357.2 700.3,357.5 702.3,357.5 702.8,357.3 703.3,357.2 703.8,357.4 704.3,357.4 704.5,357.5" fill="#e39a62"/>
<line x1="95.6" y1="266.5" x2="705.3" y2="266.5" stroke="#777" stroke-width="1.3"/>
<line x1="95.6" y1="266.5" x2="95.6" y2="357.8" stroke="#666" stroke-width="1.1"/>
<line x1="171.3" y1="266.5" x2="171.3" y2="357.8" stroke="#666" stroke-width="1.1"/>
<line x1="247.7" y1="266.5" x2="247.7" y2="357.8" stroke="#666" stroke-width="1.1"/>
<line x1="324" y1="266.5" x2="324" y2="357.8" stroke="#666" stroke-width="1.1"/>
<line x1="400.2" y1="266.5" x2="400.2" y2="357.8" stroke="#666" stroke-width="1.1"/>
<line x1="476.5" y1="266.5" x2="476.5" y2="357.8" stroke="#666" stroke-width="1.1"/>
<line x1="553.3" y1="266.5" x2="553.3" y2="357.8" stroke="#666" stroke-width="1.1"/>
<line x1="629.5" y1="266.5" x2="629.5" y2="357.8" stroke="#666" stroke-width="1.1"/>
<text x="88" y="281.5" text-anchor="end" textLength="18.5" lengthAdjust="spacingAndGlyphs" fill="#222">Ctrl</text>
<text x="88" y="301.1" text-anchor="end" fill="#9b30d9">WT</text>
<text x="88" y="318.6" text-anchor="end" fill="#2a2ae6">mt1</text>
<text x="88" y="337.8" text-anchor="end" fill="#ee2222">mt2</text>
<text x="88" y="356.4" text-anchor="end" fill="#f47a2a">dEZH2</text>
<path d="M45.7,272.8 H40.4 V353.7 H45.7" fill="none" stroke="#7a7a7a" stroke-width="1"/>
<line x1="95.6" y1="383.7" x2="705.3" y2="383.7" stroke="#6a6a6a" stroke-width="0.9"/>
<polygon points="96.4,383.7 96.4,383.7 102.4,383.6 102.9,383.3 103.4,383.4 103.9,383.6 104.4,382.9 104.9,382.5 105.4,383 105.9,383.4 106.4,383.6 112.4,383.7 112.9,383.3 113.4,383.6 113.9,383.6 114.4,383.3 114.9,383.3 115.4,383 115.9,382.7 116.4,382 116.9,382.1 117.4,382.2 117.9,382.5 118.4,382.7 118.9,382.8 119.4,382.9 119.9,382.6 120.4,382.3 120.9,382 121.4,382.2 121.9,382.5 122.4,382.8 122.9,382.9 123.4,383.4 123.9,383.6 131.4,383.7 131.9,383.5 132.4,383.7 133.9,383.7 134.4,383.4 134.9,383.7 135.4,383.4 135.9,383.7 136.9,383.7 137.4,383.5 137.9,383.6 138.9,383.5 139.4,383.2 139.9,382.9 140.4,383 140.9,383.4 141.4,383.2 141.9,383.6 143.9,383.7 144.4,383.4 144.9,383.4 145.4,383.7 146.4,383.6 146.9,383.4 147.4,383.6 149.4,383.7 149.9,383.3 150.4,383.7 150.9,383.6 151.4,383.2 151.9,383.7 154.4,383.6 154.9,383.3 155.4,383.2 155.9,383.6 156.4,383.7 156.9,383.2 157.4,383.7 169.9,383.6 170.4,383.3 170.5,383.7" fill="#000000"/>
<polygon points="172.1,383.7 172.1,383.2 172.6,383.5 173.1,383.6 173.6,383.4 174.1,383.4 174.6,383.5 175.1,383.4 175.6,383.1 176.1,383 176.6,382.9 177.1,383.1 177.6,383.3 178.1,383.5 178.6,383.6 179.1,383.3 179.6,383.5 180.1,383.3 180.6,383.2 181.1,383.3 181.6,383.7 184.6,383.6 185.1,383.4 185.6,383.7 187.6,383.6 188.1,383.3 188.6,383.7 192.1,383.7 192.6,383.3 193.1,383.6 194.1,383.6 194.6,383.4 195.1,383.3 195.6,383.1 196.1,383.1 196.6,383.2 197.1,383.4 197.6,383.6 203.1,383.6 203.6,383.1 204.1,383.4 204.6,383.5 207.1,383.7 207.6,383.2 208.1,383.7 209.1,383.7 209.6,383.2 210.1,383.6 210.6,383.5 211.1,383.5 211.6,383.5 212.1,383.4 212.6,383.2 213.1,382.8 213.6,383 214.1,382.9 214.6,382.6 215.1,382.7 215.6,382.4 216.1,382.5 216.6,382.4 217.1,382.5 217.6,382.6 218.1,382.8 218.6,382.9 219.1,382.9 219.6,382.9 220.1,382.6 220.6,382.9 221.1,382.8 221.6,382.8 222.1,382.7 222.6,382.6 223.1,382.1 223.6,382.4 224.1,381.9 224.6,382.4 225.1,382.5 225.6,382.7 226.1,382.9 226.6,383 227.1,383.1 227.6,383.1 228.1,382.9 228.6,382.7 229.1,382.5 229.6,382.3 230.1,382.3 230.6,382.5 231.1,382.5 231.6,382.8 232.1,383.3 232.6,383.2 233.1,383.1 233.6,383.6 234.1,383.6 234.6,383.3 235.1,383.6 235.6,383.7 236.1,383.3 236.6,383.7 239.1,383.6 239.6,383.2 240.1,383.5 240.6,383.5 246.1,383.7 246.6,383.4 246.9,383.7" fill="#000000"/>
<polygon points="248.5,383.7 248.5,383.7 249.5,383.6 250,383.4 250.5,383.1 251,382.9 251.5,383 252,383.4 252.5,383.6 253,383.4 253.5,383.4 254,383.6 254.5,383.4 255,383.7 260,383.5 260.5,383.4 261,383.3 261.5,383 262,382.9 262.5,382.8 263,382.9 263.5,383.3 264,383.6 264.5,383.7 265,383.4 265.5,383.5 266,383.5 266.5,383.7 268,383.6 268.5,383.3 269,382.8 269.5,383.3 270,383.6 270.5,383.4 271,383.6 272,383.5 272.5,383.4 273,383.2 273.5,383.3 274,383.2 274.5,383 275,382.9 275.5,383.1 276,383.2 276.5,383.1 277,383.1 277.5,383.2 278,383.6 278.5,383.6 279,383.4 279.5,383 280,382.2 280.5,382.8 281,383.2 281.5,383.4 282,383.5 283,383.7 283.5,383.4 284,383.6 286,383.7 286.5,383.2 287,383.5 287.5,383.7 288,383.6 288.5,383.2 289,383.5 289.5,383.1 290,383.6 292,383.5 292.5,383.3 293,382.7 293.5,383.3 294,383.5 296.5,383.7 297,383.2 297.5,383.6 298,383.3 298.5,382.8 299,382.1 299.5,381.5 300,381.2 300.5,381.4 301,382.2 301.5,382.9 302,383.4 302.5,383.6 306,383.6 306.5,383.3 307,383.7 307.5,383.7 308,383.3 308.5,383.7 310,383.5 310.5,383.1 311,382.3 311.5,383.1 312,383.4 312.5,383.6 313,383.3 313.5,383.6 317.5,383.6 318,383.2 318.5,383.7 319,383.6 319.5,383.5 320,383.5 320.5,383.5 322.5,383.7 323,383.2 323.2,383.7" fill="#000000"/>
<polygon points="324.8,383.7 324.8,383.1 325.3,383 325.8,383.3 326.3,382.7 326.8,382.7 327.3,382.2 327.8,381.8 328.3,381.9 328.8,382 329.3,382.1 329.8,382 330.3,382.5 330.8,383.1 331.3,383.5 331.8,383.5 332.3,383.2 332.8,383.2 333.3,383.3 333.8,383.1 334.3,383.2 334.8,382.9 335.3,383 335.8,383.4 336.3,383.6 337.3,383.7 337.8,383.5 338.3,382.9 338.8,382.8 339.3,382.7 339.8,382.9 340.3,382.8 340.8,382.6 341.3,382.7 341.8,383 342.3,383.3 342.8,383.5 343.3,383.6 343.8,383.5 344.3,383.4 344.8,383.2 345.3,383.1 345.8,383 346.3,383 346.8,382.9 347.3,382.6 347.8,381.9 348.3,382.3 348.8,382.4 349.3,382.4 349.8,382.5 350.3,382.8 350.8,383.1 351.3,383.5 351.8,383.5 354.8,383.5 355.3,383.3 355.8,383 356.3,383.1 356.8,383.3 357.3,383.5 359.8,383.6 360.3,383.4 360.8,383 361.3,382.9 361.8,382.8 362.3,383 362.8,383.1 363.3,383.1 363.8,382.8 364.3,382.4 364.8,382 365.3,382.1 365.8,382.7 366.3,383.1 366.8,383.1 367.3,383 367.8,382.6 368.3,382.5 368.8,382.8 369.3,382.9 369.8,382.6 370.3,382.3 370.8,382.1 371.3,382.1 371.8,382.4 372.3,382.1 372.8,382.4 373.3,382.4 373.8,382.5 374.3,382.6 374.8,383.1 375.3,383.1 375.8,383 376.3,382.3 376.8,382.6 377.3,382.5 377.8,382.9 378.3,382.6 378.8,382.5 379.3,382.3 379.8,382.5 380.3,382.6 380.8,382.6 381.3,382.9 381.8,383.3 382.3,383.4 382.8,382.9 383.3,382.6 383.8,382.4 384.3,382.5 384.8,383 385.3,383.2 385.8,383.2 386.3,383.3 386.8,383.5 387.3,383.6 387.8,383.6 388.3,383.2 388.8,382.4 389.3,382.3 389.8,382.3 390.3,382.6 390.8,382.4 391.3,382.7 391.8,382.9 392.3,383.5 392.8,383.3 393.3,383.4 393.8,383.1 394.3,382.8 394.8,382.5 395.3,382.4 395.8,382.6 396.3,382.9 396.8,383.1 397.3,383.6 398.8,383.6 399.3,383.2 399.4,383.7" fill="#000000"/>
<polygon points="401,383.7 401,383.6 401.5,383.3 402,383.7 402.5,383.3 403,383.7 409,383.6 409.5,383.2 410,383.3 410.5,383.6 411,383.5 411.5,382.9 412,383.3 412.5,383.4 413,383.5 413.5,383.6 416,383.6 416.5,383.3 417,383.1 417.5,382.7 418,383 418.5,383.3 419,383.5 421.5,383.6 422,383.5 422.5,383.4 423,383.3 423.5,383.4 424,383.6 424.5,383.5 425,383.3 425.5,383.4 426,383.4 426.5,383.4 427,383.5 428.5,383.5 429,383.3 429.5,383 430,383 430.5,382.8 431,383.3 431.5,383.4 432,383.2 432.5,383.3 433,383.4 433.5,383.5 434,383.3 434.5,383.7 436,383.6 436.5,383.4 437,383.4 437.5,383.4 438,383.6 438.5,383.2 439,383.5 439.5,383.3 440,383 440.5,383.1 441,382.8 441.5,383 442,383.5 442.5,383.5 443,383.6 443.5,383.4 444,383.7 446.5,383.6 447,383.5 447.5,383.3 448,383.3 448.5,383.2 449,383.3 449.5,383.4 450,383.6 452.5,383.5 453,383.4 453.5,383.4 454,383.4 454.5,383.2 455,383.1 455.5,383.3 456,383.4 456.5,383.3 457,383.3 457.5,383.5 458,383.6 458.5,383.5 459,382.9 459.5,383.4 460,383.5 460.5,383.5 465.5,383.5 466,383.5 466.5,383.3 467,383.6 467.5,383.5 468,379.1 468.5,372 469,379.4 469.5,383.4 470,383.5 470.5,383.2 471,383.6 471.5,383.4 472,383.3 472.5,383.5 474.5,383.7 475,383.3 475.5,383.7 475.7,383.7" fill="#000000"/>
<polygon points="477.3,383.7 477.3,383.6 478.3,383.6 478.8,383.3 479.3,382.8 479.8,382.8 480.3,382.9 480.8,382.8 481.3,383.4 481.8,383.5 482.3,383.5 482.8,383.3 483.3,383.2 483.8,383 484.3,383.1 484.8,383.4 485.3,383.6 486.8,383.6 487.3,383.3 487.8,383.4 488.3,383.3 488.8,383.5 489.3,383.5 489.8,383.4 490.3,383.5 490.8,383.6 494.3,383.5 494.8,383.5 495.3,383.4 495.8,383.6 497.8,383.6 498.3,383 498.8,383.3 499.3,383.2 499.8,383.1 500.3,383.4 500.8,383.5 504.8,383.7 505.3,383.5 505.8,383 506.3,383.4 506.8,383.6 508.3,383.6 508.8,383.3 509.3,383.3 509.8,382.9 510.3,383.2 510.8,383 511.3,383.6 513.3,383.5 513.8,383.4 514.3,383.4 514.8,383.3 515.3,383.6 517.3,383.6 517.8,383.4 518.3,383.2 518.8,382.9 519.3,383 519.8,383.2 520.3,383.4 520.8,383.5 521.3,383.5 521.8,383.3 522.3,383.2 522.8,383.5 523.3,383.7 527.8,383.5 528.3,383.3 528.8,382.6 529.3,380.7 529.8,378.9 530.3,377.2 530.8,377.7 531.3,379.2 531.8,379.6 532.3,376.8 532.8,371.1 533.3,367.1 533.8,366.7 534.3,368.6 534.8,370.7 535.3,373.4 535.8,375.5 536.3,376.4 536.8,376.7 537.3,377.1 537.8,378.2 538.3,378.9 538.8,379.5 539.3,379.5 539.8,379.4 540.3,379.4 540.8,379.7 541.3,380.1 541.8,380.3 542.3,381.3 542.8,382 543.3,382.2 543.8,383 544.3,383.3 544.8,383.5 545.3,383.6 545.8,383.2 546.3,383.3 546.8,383.5 547.3,383.4 547.8,383.2 548.3,383.2 548.8,383.4 549.3,383.5 549.8,383.6 550.3,383.2 550.8,383.6 551.3,383.7 551.8,383.2 552.3,383.7 552.5,383.7" fill="#000000"/>
<polygon points="554.1,383.7 554.1,383.6 554.6,383.7 555.1,383.3 555.6,383.6 557.6,383.6 558.1,383.4 558.6,383.6 559.1,383.5 559.6,383.4 560.1,383 560.6,383.4 561.1,383.5 561.6,383.6 562.1,383.5 562.6,383.6 563.1,383.7 563.6,383.3 564.1,383.7 565.1,383.5 565.6,383.4 566.1,383.4 566.6,383.2 567.1,383.6 567.6,383.6 568.1,383.4 568.6,383.6 569.1,383.4 569.6,383.7 570.6,383.6 571.1,383.3 571.6,383.6 572.6,383.7 573.1,383.4 573.6,383.6 575.1,383.7 575.6,383.4 576.1,383.6 577.1,383.6 577.6,383.4 578.1,383.7 580.1,383.6 580.6,383.3 581.1,383.7 581.6,383.6 582.1,383.5 582.6,383.5 583.1,383.4 583.6,383.6 586.1,383.7 586.6,383.3 587.1,383.5 587.6,383.5 588.1,383.4 588.6,383.5 589.1,383.6 592.1,383.6 592.6,383.4 593.1,383.5 593.6,383.4 594.1,383.4 594.6,383.5 595.1,383.3 595.6,383.7 596.1,383.2 596.6,383.6 597.1,383.6 597.6,383.2 598.1,383.2 598.6,383.5 599.1,383.6 603.1,383.5 603.6,383.2 604.1,383.2 604.6,383.3 605.1,383.1 605.6,383 606.1,382.9 606.6,383.1 607.1,383.2 607.6,383.3 608.1,383.4 608.6,383.5 609.1,383.3 609.6,383.6 611.6,383.6 612.1,383.4 612.6,383 613.1,382 613.6,380.9 614.1,380.3 614.6,381.2 615.1,382.1 615.6,382.1 616.1,380.2 616.6,378.9 617.1,378 617.6,379.5 618.1,381.1 618.6,379.8 619.1,374 619.6,367.6 620.1,369.6 620.6,374.9 621.1,376.5 621.6,376.6 622.1,378.4 622.6,380.9 623.1,382.7 623.6,383.4 624.1,383.6 624.6,383.4 625.1,383.6 625.6,383.6 626.1,383.4 626.6,383.7 627.6,383.6 628.1,383.3 628.6,383.7 628.7,383.7" fill="#000000"/>
<polygon points="630.3,383.7 630.3,383.7 630.8,383.5 631.3,382.6 631.8,378.4 632.3,370.7 632.8,369.2 633.3,375.2 633.8,377.9 634.3,378.1 634.8,380.3 635.3,382.1 635.8,382.4 636.3,381.8 636.8,381.5 637.3,381.8 637.8,382.5 638.3,383.1 638.8,383.5 639.3,383.6 639.8,383.5 640.3,383 640.8,382.6 641.3,382.6 641.8,383.2 642.3,383.4 642.8,383.2 643.3,382.6 643.8,381.9 644.3,381.2 644.8,380.9 645.3,381.4 645.8,382.3 646.3,382.6 646.8,381.7 647.3,381.7 647.8,381.6 648.3,381.9 648.8,382.7 649.3,383 649.8,383.2 650.3,383.4 650.8,383.5 651.3,383.2 651.8,382.8 652.3,382.9 652.8,383.1 653.3,383.5 653.8,383.6 654.3,383.5 654.8,383 655.3,383.1 655.8,383.4 656.3,382.9 656.8,382.6 657.3,381.5 657.8,381.7 658.3,381.9 658.8,382.9 659.3,383.4 659.8,383.7 660.3,383.5 660.8,383.6 665.8,383.6 666.3,383.4 666.8,383 667.3,382.2 667.8,382 668.3,382 668.8,382.6 669.3,382.8 669.8,383.5 670.8,383.6 671.3,383.2 671.8,382.6 672.3,382.7 672.8,383.2 673.3,383.6 674.3,383.6 674.8,383.4 675.3,383 675.8,382.6 676.3,382.6 676.8,383.1 677.3,383.3 677.8,383 678.3,382.3 678.8,381.5 679.3,380.9 679.8,380.6 680.3,380.9 680.8,381.2 681.3,381.9 681.8,382.6 682.3,382.9 682.8,383.1 683.3,382.9 683.8,382.5 684.3,382.6 684.8,382.8 685.3,382.7 685.8,382.4 686.3,382.4 686.8,382.8 687.3,382.5 687.8,381.6 688.3,381.4 688.8,381.9 689.3,382.4 689.8,382.8 690.3,383.1 690.8,383 691.3,383.2 691.8,383.1 692.3,383.6 692.8,383.3 693.3,383.7 694.8,383.5 695.3,383.3 695.8,383 696.3,382.9 696.8,383 697.3,383.4 697.8,383.3 698.3,382.7 698.8,382 699.3,382.2 699.8,382.2 700.3,382.8 700.8,383.2 701.3,383.3 701.8,383.6 703.8,383.7 704.3,383.3 704.5,383.7" fill="#000000"/>
<line x1="95.6" y1="401.9" x2="705.3" y2="401.9" stroke="#d7a8ee" stroke-width="0.9"/>
<polygon points="96.4,401.9 96.4,401.8 96.9,401.5 97.4,401.9 97.9,401.6 98.4,401.9 98.9,401.9 99.4,401.4 99.9,401.8 102.9,401.8 103.4,401.5 103.9,401.7 104.4,401.9 105.9,401.8 106.4,401.5 106.9,401.8 107.4,401.7 107.9,401.8 108.4,401.8 108.9,401.6 109.4,401.6 109.9,401.3 110.4,400.8 110.9,400.1 111.4,400.1 111.9,399.8 112.4,399.9 112.9,400.4 113.4,400.9 113.9,401.3 114.4,401.6 114.9,401.8 115.4,401.5 115.9,401.9 116.9,401.8 117.4,401.6 117.9,401.9 121.9,401.8 122.4,401.6 122.9,401.3 123.4,401 123.9,400.9 124.4,400.9 124.9,401.2 125.4,401.3 125.9,401.7 126.4,401.8 128.9,401.8 129.4,401.4 129.9,401.9 131.4,401.9 131.9,401.6 132.4,401.9 137.9,401.8 138.4,401.5 138.9,401.8 139.4,401.7 139.9,401.9 142.9,401.8 143.4,401.6 143.9,401.9 144.9,401.9 145.4,401.5 145.9,401.8 150.4,401.9 150.9,401.5 151.4,401.8 159.9,401.8 160.4,401.6 160.9,401.8 161.4,401.8 161.9,401.5 162.4,401.9 168.4,401.8 168.9,401.5 169.4,401 169.9,400 170.4,400.6 170.5,401.9" fill="#9b40c4"/>
<polygon points="172.1,401.9 172.1,401.2 172.6,401.6 173.1,401.8 173.6,401.8 174.1,401.7 174.6,401.7 175.1,401.6 175.6,401.4 176.1,401.4 176.6,401.5 177.1,401.7 177.6,401.5 178.1,401.9 179.6,401.9 180.1,401.7 180.6,401.2 181.1,400.9 181.6,401 182.1,400.8 182.6,401.3 183.1,401.6 183.6,401.6 184.1,401.8 185.1,401.7 185.6,401.6 186.1,401.6 186.6,401.5 187.1,401.5 187.6,401.5 188.1,401.6 188.6,401.8 191.6,401.8 192.1,401.4 192.6,401.8 193.1,401.7 193.6,401.9 194.6,401.7 195.1,401.1 195.6,400.2 196.1,399.9 196.6,400.6 197.1,401.5 197.6,401.8 198.1,401.8 198.6,401.6 199.1,401.5 199.6,401.9 203.6,401.7 204.1,401.6 204.6,401.5 205.1,401.5 205.6,401.6 206.1,401.7 207.1,401.7 207.6,401.2 208.1,401.5 208.6,401.4 209.1,401.4 209.6,401.5 210.1,401.6 210.6,401.6 211.1,401.6 211.6,401.7 212.1,401.8 220.6,401.8 221.1,401.6 221.6,401.8 222.1,401.6 222.6,401.4 223.1,400.7 223.6,400.8 224.1,400.5 224.6,400.3 225.1,400.2 225.6,400.3 226.1,400.5 226.6,400.9 227.1,401.2 227.6,401.5 228.1,401.6 228.6,401.3 229.1,400.8 229.6,400.6 230.1,400.2 230.6,400.2 231.1,400.4 231.6,400.8 232.1,400.9 232.6,401.5 233.1,401.5 233.6,401.7 234.1,401.9 234.6,401.8 235.1,401.6 235.6,401.5 236.1,401.8 236.6,401.6 237.1,401.5 237.6,401.5 238.1,401.4 238.6,401.1 239.1,401.2 239.6,401.4 240.1,401.6 240.6,401.8 241.6,401.8 242.1,401.3 242.6,400.1 243.1,399.4 243.6,400.7 244.1,401.7 244.6,401.8 245.6,401.9 246.1,401.6 246.6,401.9 246.9,401.9" fill="#9b40c4"/>
<polygon points="248.5,401.9 248.5,401.8 249,401.8 249.5,401.6 250,401.5 250.5,401.6 251,401.8 253,401.8 253.5,401.5 254,401.1 254.5,400.7 255,400.6 255.5,400.8 256,401.4 256.5,401.3 257,401.6 257.5,401.2 258,401.8 258.5,401.4 259,401.9 260.5,401.7 261,401.5 261.5,401.2 262,401 262.5,401.2 263,401.3 263.5,401.1 264,400.7 264.5,401 265,401.4 265.5,401.5 266,401.7 266.5,401.8 277,401.8 277.5,401.6 278,401.5 278.5,401.4 279,401 279.5,401.6 280,401.8 281.5,401.9 282,401.4 282.5,401.9 288,401.7 288.5,401.5 289,400.7 289.5,401.4 290,401.7 292.5,401.8 293,401.5 293.5,401.9 297,401.8 297.5,401.6 298,401.5 298.5,401.6 299,401.8 299.5,401.7 300,401.9 302,401.8 302.5,401.6 303,401.9 306,401.9 306.5,401.7 307,401.9 308.5,401.8 309,401.6 309.5,401.8 313.5,401.8 314,401.7 314.5,401.6 315,401.9 316.5,401.7 317,401.6 317.5,401.7 318,401.9 319.5,401.8 320,401.7 320.5,401.5 321,401.5 321.5,401.1 322,401.4 322.5,401.7 323,401.8 323.2,401.9" fill="#9b40c4"/>
<polygon points="324.8,401.9 324.8,401.7 325.3,401.4 325.8,401 326.3,401.1 326.8,401.4 327.3,401.3 327.8,400.8 328.3,400.9 328.8,401.5 329.3,401.5 329.8,401.5 330.3,401.5 330.8,401.7 331.3,401.7 331.8,401.2 332.3,401.3 332.8,401.3 333.3,401.1 333.8,400.8 334.3,400.6 334.8,401.4 335.3,401.7 337.3,401.8 337.8,401.6 338.3,401 338.8,401 339.3,400.9 339.8,401 340.3,400.9 340.8,400.7 341.3,401 341.8,401 342.3,401.1 342.8,401.4 343.3,401.6 343.8,401.5 344.3,401.6 344.8,401.8 345.3,401.6 345.8,401.3 346.3,401.2 346.8,401.3 347.3,401.2 347.8,401.2 348.3,401.1 348.8,400.9 349.3,401.1 349.8,401.1 350.3,400.8 350.8,400.7 351.3,400.7 351.8,400.8 352.3,400.8 352.8,400.4 353.3,400.2 353.8,400.3 354.3,400.6 354.8,401.2 355.3,401.6 355.8,401.5 356.3,401.5 356.8,401.1 357.3,401.1 357.8,401.4 358.3,401.2 358.8,401.1 359.3,401 359.8,401 360.3,401.2 360.8,401.4 361.3,401.5 361.8,401.6 362.3,401.4 362.8,401.1 363.3,401 363.8,401.3 364.3,401.4 364.8,401.2 365.3,401.3 365.8,401 366.3,400.9 366.8,400.9 367.3,401.3 367.8,401.6 368.3,401 368.8,401 369.3,400.6 369.8,401.5 370.3,401.8 371.8,401.8 372.3,401.6 372.8,401.2 373.3,401.3 373.8,401.6 374.3,401.6 374.8,401 375.3,401.3 375.8,401.2 376.3,401.1 376.8,401 377.3,400.8 377.8,400.6 378.3,400.4 378.8,400.6 379.3,401 379.8,401.4 380.3,401.7 380.8,401.7 381.3,401.4 381.8,401.1 382.3,401.1 382.8,401.3 383.3,401.2 383.8,401 384.3,400.7 384.8,400.7 385.3,400.7 385.8,400.9 386.3,401.2 386.8,400.4 387.3,400.6 387.8,400.2 388.3,400.7 388.8,400.9 389.3,400.6 389.8,400.8 390.3,400.7 390.8,400.7 391.3,401 391.8,401.3 392.3,401.1 392.8,400.8 393.3,400.4 393.8,400.4 394.3,400.6 394.8,401 395.3,401.1 395.8,401.4 396.3,401.4 396.8,401.2 397.3,401.5 397.8,401.7 398.3,401.9 399.3,401.8 399.4,401.9" fill="#9b40c4"/>
<polygon points="401,401.9 401,401.8 401.5,401.6 402,401.5 402.5,401.4 403,401.1 403.5,401.4 404,401.7 404.5,401.9 406,401.8 406.5,401.5 407,401.5 407.5,401.3 408,401.1 408.5,401.1 409,401.3 409.5,401.4 410,401.8 413.5,401.7 414,401.7 414.5,401.8 419,401.9 419.5,401.7 420,401.8 421.5,401.8 422,401.4 422.5,401.8 423,401.8 423.5,401.5 424,401.4 424.5,401.3 425,401.4 425.5,401.7 426,401.6 426.5,401.4 427,401.9 427.5,401.7 428,401.6 428.5,401.7 429,401.5 429.5,401.8 432,401.8 432.5,401.6 433,401.5 433.5,401.8 437,401.9 437.5,401.4 438,401.8 438.5,401.4 439,401.9 440,401.8 440.5,401.6 441,401.9 443.5,401.7 444,401.6 444.5,401.4 445,401.3 445.5,401.3 446,401.4 446.5,401.9 447.5,401.9 448,401.5 448.5,401.5 449,400.9 449.5,400.6 450,401 450.5,401.2 451,401.5 451.5,401.6 452,401.8 455,401.8 455.5,401.7 456,401.1 456.5,401.4 457,401.2 457.5,401.2 458,401.3 458.5,401.2 459,401.5 459.5,401.5 460,401.3 460.5,401.4 461,401.8 463.5,401.7 464,401.6 464.5,401.5 465,401.5 465.5,401.5 466,401.5 466.5,401.4 467,401.3 467.5,401 468,396.9 468.5,388.9 469,396.7 469.5,401.3 470,401.6 470.5,401.3 471,400.9 471.5,401.4 472,401.2 472.5,401.4 473,401.3 473.5,401.2 474,401.6 474.5,401.8 475.5,401.9 475.7,401.9" fill="#9b40c4"/>
<polygon points="477.3,401.9 477.3,401.5 477.8,401.4 478.3,401.4 478.8,401.5 479.3,401.5 479.8,401.8 486.3,401.8 486.8,401.6 487.3,401.8 489.8,401.7 490.3,401.5 490.8,401.3 491.3,401.3 491.8,401.5 492.3,401.7 492.8,401.6 493.3,401.6 493.8,401.8 495.3,401.8 495.8,401.7 496.3,401.4 496.8,401.2 497.3,401.2 497.8,401.5 498.3,401.7 498.8,401.6 499.3,401.3 499.8,400.9 500.3,401.1 500.8,401.3 501.3,401.4 501.8,401 502.3,400.7 502.8,401.2 503.3,401.2 503.8,401.4 504.3,401.7 504.8,401.5 505.3,401 505.8,401 506.3,401.3 506.8,401.7 507.3,401.7 507.8,401.8 508.3,401.5 508.8,401.3 509.3,401.2 509.8,401.5 510.3,401.5 510.8,401.4 511.3,401.4 511.8,401.4 512.3,401.5 512.8,401.4 513.3,401.8 513.8,401.7 514.3,401.5 514.8,401.3 515.3,401.3 515.8,401.5 516.3,401.6 516.8,401.6 517.3,401.5 517.8,401.2 518.3,401.4 518.8,401.7 519.3,401.9 522.8,401.8 523.3,401.5 523.8,401.2 524.3,401.3 524.8,401.7 525.3,401.9 527.8,401.8 528.3,401.5 528.8,400.3 529.3,398.7 529.8,396.3 530.3,394.7 530.8,395.2 531.3,396.9 531.8,397.3 532.3,394.2 532.8,388.4 533.3,384.1 533.8,384 534.3,385.7 534.8,387.9 535.3,390.6 535.8,392.8 536.3,393.7 536.8,393.6 537.3,392.1 537.8,391.1 538.3,392 538.8,395.1 539.3,397.1 539.8,397.7 540.3,397.6 540.8,398.2 541.3,398.4 541.8,398.7 542.3,398.9 542.8,399.8 543.3,400.3 543.8,400.7 544.3,401 544.8,401.4 545.3,401.5 545.8,401.5 546.3,401 546.8,401.3 547.3,401.1 547.8,401 548.3,401.4 548.8,401.6 549.3,401.6 549.8,401.9 550.3,401.8 550.8,401.5 551.3,401.8 552.3,401.9 552.5,401.9" fill="#9b40c4"/>
<polygon points="554.1,401.9 554.1,401.7 554.6,401.6 555.1,401.5 555.6,401.6 556.1,401.7 558.6,401.8 559.1,401.6 559.6,401.3 560.1,401.1 560.6,401.4 561.1,401.5 561.6,401.5 562.1,401.5 562.6,401.5 563.1,401.5 563.6,401.7 564.1,401.9 565.6,401.8 566.1,401.6 566.6,401.7 567.1,401.7 567.6,401.7 568.1,401.8 570.1,401.8 570.6,401.5 571.1,401.9 573.6,401.9 574.1,401.5 574.6,401.8 576.1,401.7 576.6,401.6 577.1,401.6 577.6,401.6 578.1,401.7 578.6,401.6 579.1,401.5 579.6,401.9 580.1,401.6 580.6,401.7 581.1,401.6 581.6,401.8 582.6,401.8 583.1,401.6 583.6,401.8 584.1,401.5 584.6,401.3 585.1,401.2 585.6,401.3 586.1,401.6 586.6,401.8 587.1,401.7 587.6,401.8 590.6,401.8 591.1,401.6 591.6,401.8 594.1,401.8 594.6,401.6 595.1,401.3 595.6,401.7 596.1,401.8 597.1,401.7 597.6,401.6 598.1,401.5 598.6,401.6 599.1,401.8 600.1,401.8 600.6,401.5 601.1,401.5 601.6,401.8 603.6,401.9 604.1,401.7 604.6,401.9 606.6,401.8 607.1,401.4 607.6,401.6 608.1,401.4 608.6,401.2 609.1,401.1 609.6,401 610.1,401.1 610.6,401 611.1,401.5 611.6,401.5 612.1,401.1 612.6,401.1 613.1,400.3 613.6,399.4 614.1,399 614.6,399.3 615.1,400.3 615.6,400 616.1,398.6 616.6,397 617.1,396.8 617.6,398.1 618.1,399.5 618.6,398.6 619.1,393 619.6,387.1 620.1,388.6 620.6,393.6 621.1,395.3 621.6,395.5 622.1,396.7 622.6,399.4 623.1,401 623.6,401.7 624.1,401.9 627.6,401.8 628.1,401.7 628.6,401.8 628.7,401.9" fill="#9b40c4"/>
<polygon points="630.3,401.9 630.3,401.8 630.8,401.6 631.3,401.2 631.8,398.1 632.3,392.6 632.8,391.6 633.3,395.9 633.8,397.8 634.3,398.1 634.8,399.5 635.3,400.9 635.8,401.8 637.3,401.8 637.8,401.4 638.3,401.9 648.3,401.8 648.8,401.4 649.3,400.6 649.8,399.9 650.3,400 650.8,400.5 651.3,400.6 651.8,400.1 652.3,400 652.8,399.9 653.3,400.6 653.8,401.2 654.3,401.6 654.8,401.8 657.8,401.8 658.3,401.3 658.8,401 659.3,401.1 659.8,401.7 660.3,401.8 660.8,401.8 661.3,401.5 661.8,401 662.3,401.2 662.8,401.7 663.3,401.7 663.8,401.6 664.3,400.6 664.8,399.6 665.3,398.5 665.8,398.9 666.3,399.5 666.8,400.4 667.3,400.7 667.8,401.4 668.3,401.7 668.8,401.6 669.3,401.2 669.8,400.9 670.3,400.9 670.8,401.1 671.3,400.9 671.8,401.2 672.3,401.3 672.8,401.5 673.3,401.7 673.8,401.8 674.8,401.8 675.3,401.3 675.8,400.5 676.3,399.9 676.8,400.2 677.3,400.6 677.8,401 678.3,401.4 678.8,401.7 679.3,401 679.8,399.1 680.3,399 680.8,399.9 681.3,400.4 681.8,401 682.3,401.5 682.8,401.8 683.8,401.9 684.3,401.6 684.8,401.6 685.3,401.9 685.8,401.8 686.3,401.6 686.8,401.8 687.3,401.9 687.8,401.5 688.3,401.9 689.3,401.8 689.8,401.7 690.3,401.2 690.8,400.6 691.3,400.7 691.8,401.2 692.3,400.9 692.8,400 693.3,399.8 693.8,401.2 694.3,401.6 694.8,401.2 695.3,400.7 695.8,400.2 696.3,400.3 696.8,400.9 697.3,401.4 697.8,401.8 698.3,401.7 698.8,401.9 700.3,401.7 700.8,401.5 701.3,401.1 701.8,400.8 702.3,400.9 702.8,401.1 703.3,401.6 703.8,401.8 704.3,401.5 704.5,401.9" fill="#9b40c4"/>
<line x1="95.6" y1="420.1" x2="705.3" y2="420.1" stroke="#a9b9ef" stroke-width="0.9"/>
<polygon points="96.4,420.1 96.4,419.8 96.9,420 104.4,420 104.9,419.7 105.4,420.1 105.9,420.1 106.4,419.8 106.9,420.1 111.4,420.1 111.9,419.6 112.4,419.8 112.9,420.1 114.4,420 114.9,419.9 115.4,419.7 115.9,419.9 116.4,419.7 116.9,420 118.4,420 118.9,419.9 119.4,420.1 122.4,420 122.9,419.6 123.4,419.8 123.9,419.7 124.4,419.4 124.9,419.3 125.4,419.2 125.9,418.9 126.4,419.1 126.9,419.2 127.4,419.4 127.9,419.6 128.4,419.8 128.9,419.9 129.4,420 135.9,420 136.4,419.6 136.9,420 137.4,420.1 137.9,419.7 138.4,420.1 143.4,420.1 143.9,419.6 144.4,419.7 144.9,420 146.9,420.1 147.4,419.8 147.9,420.1 148.9,420.1 149.4,419.6 149.9,420.1 153.4,420.1 153.9,419.9 154.4,420 161.4,420 161.9,419.8 162.4,420.1 166.4,420 166.9,419.8 167.4,420 167.9,419.6 168.4,420.1 169.9,420 170.4,419.7 170.5,420.1" fill="#1f3fbf"/>
<polygon points="172.1,420.1 172.1,420.1 175.1,420 175.6,419.7 176.1,420.1 177.1,420.1 177.6,419.9 178.1,420 178.6,419.8 179.1,420.1 180.1,420.1 180.6,419.6 181.1,420.1 182.6,420.1 183.1,419.7 183.6,420 189.1,420 189.6,419.8 190.1,419.8 190.6,419.3 191.1,419.3 191.6,419.8 192.1,419.9 192.6,420 194.1,420 194.6,419.7 195.1,420 195.6,420 196.1,419.9 196.6,419.9 197.1,419.8 197.6,419.7 198.1,420 198.6,419.7 199.1,420 201.1,420 201.6,419.7 202.1,419.8 202.6,419.9 203.1,419.9 203.6,419.7 204.1,419.7 204.6,419.8 205.1,420 206.1,420 206.6,419.9 207.1,419.6 207.6,419.5 208.1,420 209.1,420 209.6,419.9 210.1,419.8 210.6,419.9 211.1,420 211.6,419.9 212.1,419.8 212.6,419.9 213.1,420 219.6,420 220.1,419.9 220.6,419.6 221.1,419.5 221.6,419.4 222.1,419.4 222.6,419.1 223.1,418.8 223.6,418.7 224.1,419.1 224.6,419.1 225.1,419.1 225.6,418.7 226.1,419.2 226.6,419.4 227.1,419.5 227.6,419.3 228.1,419.8 228.6,419.9 230.1,420 230.6,419.6 231.1,419.9 231.6,419.8 232.1,419.9 232.6,419.9 240.1,419.9 240.6,419.8 241.1,419.8 241.6,419.3 242.1,419.8 242.6,419.8 243.1,419.8 243.6,419.9 244.1,420 244.6,420.1 245.1,419.8 245.6,420 246.1,419.9 246.6,420.1 246.9,420.1" fill="#1f3fbf"/>
<polygon points="248.5,420.1 248.5,419.7 249,419.5 249.5,419.7 250,419.7 250.5,420 251,420 251.5,419.8 252,420.1 253,420 253.5,419.9 254,420 254.5,419.8 255,419.7 255.5,419.8 256,419.9 256.5,420 257,419.8 257.5,420 258.5,420 259,419.7 259.5,419.5 260,419.4 260.5,419.4 261,419.6 261.5,419.7 262,419.4 262.5,419.7 263,419.9 263.5,420.1 266,420 266.5,419.7 267,420 267.5,419.9 268,419.9 268.5,419.8 269,419.9 271.5,420 272,419.7 272.5,419.6 273,419.4 273.5,419.5 274,419.8 274.5,419.9 275,419.8 275.5,419.3 276,419.4 276.5,419.6 277,419.9 277.5,420 279.5,419.9 280,419.8 280.5,419.5 281,418.8 281.5,418.9 282,418.8 282.5,419.3 283,419.5 283.5,419.6 284,419.2 284.5,419.7 285,419.6 285.5,419.7 286,419.9 286.5,419.9 287,419.7 287.5,419.5 288,419.3 288.5,419.3 289,419.6 289.5,419.4 290,419.9 290.5,419.7 291,419.5 291.5,419.7 292,420 293,419.9 293.5,419.9 294,419.8 294.5,419.6 295,419.7 295.5,419.2 296,419.5 296.5,419.6 297,419.8 297.5,419.9 298,419.8 298.5,419.7 299,419.1 299.5,418.4 300,418 300.5,418.4 301,419.1 301.5,419.7 302,420 304.5,420 305,419.8 305.5,420 306.5,420 307,419.5 307.5,419.8 308,419.8 308.5,419.9 309,419.7 309.5,420 311,420.1 311.5,419.7 312,420.1 313.5,420 314,419.8 314.5,420.1 316,419.9 316.5,419.8 317,419.9 317.5,419.9 318,420 320,420.1 320.5,419.9 321,420.1 321.5,420 322,419.9 322.5,420 323,420.1 323.2,420.1" fill="#1f3fbf"/>
<polygon points="324.8,420.1 324.8,420.1 325.3,419.8 325.8,419.4 326.3,419.4 326.8,419 327.3,418.8 327.8,418.5 328.3,419 328.8,419.4 329.3,419.6 329.8,419.6 330.3,419.4 330.8,419.8 331.3,419.6 331.8,419.2 332.3,419 332.8,419.1 333.3,418.7 333.8,419 334.3,418.9 334.8,419 335.3,419 335.8,419.2 336.3,419.5 336.8,419.8 337.3,419.7 337.8,419.6 338.3,419.5 338.8,419.5 339.3,420 339.8,420 340.3,419.6 340.8,419.1 341.3,418.5 341.8,418.6 342.3,418.8 342.8,419.3 343.3,419.7 343.8,419.8 344.3,419.7 344.8,419.5 345.3,419.3 345.8,419.3 346.3,419 346.8,418.7 347.3,418.4 347.8,418.8 348.3,418.9 348.8,419 349.3,419.2 349.8,419.3 350.3,419.6 350.8,419.8 351.3,419.6 351.8,419.5 352.3,419.3 352.8,418.8 353.3,419.2 353.8,419.2 354.3,419 354.8,418.7 355.3,418.7 355.8,418.9 356.3,419.4 356.8,419.4 357.3,419.4 357.8,419.9 358.3,419.9 358.8,419.6 359.3,419.5 359.8,419.3 360.3,419.6 360.8,419.4 361.3,419.3 361.8,419.2 362.3,419.3 362.8,419.5 363.3,419.5 363.8,419.4 364.3,419.3 364.8,419.6 365.3,419.8 365.8,419.7 366.3,419.4 366.8,419.3 367.3,419.7 367.8,419.7 368.3,419.7 368.8,419.5 369.3,419 369.8,418.8 370.3,418.7 370.8,418.9 371.3,419.3 371.8,419.6 372.3,420 372.8,419.9 373.3,419.6 373.8,420 374.3,419.8 374.8,419.2 375.3,419 375.8,419.3 376.3,419.1 376.8,419.9 377.3,419.9 377.8,419.6 378.3,419.4 378.8,419 379.3,419.4 379.8,419.8 380.3,420 380.8,419.8 381.3,419.4 381.8,419.4 382.3,419.5 382.8,419.7 383.3,419.8 383.8,419.5 384.3,419.6 384.8,419.3 385.3,418.8 385.8,418.2 386.3,418.5 386.8,418.6 387.3,418.6 387.8,418.5 388.3,418.8 388.8,419.6 389.3,419.7 389.8,420.1 390.3,419.9 390.8,419.6 391.3,419.4 391.8,419.5 392.3,419.6 392.8,419.9 393.3,419.8 393.8,419.5 394.3,419.6 394.8,420 395.8,420 396.3,419.8 396.8,419.7 397.3,419.4 397.8,419.9 398.3,420 399.3,420 399.4,420.1" fill="#1f3fbf"/>
<polygon points="401,420.1 401,420 401.5,420 402,419.9 402.5,419.7 403,419.5 403.5,419.3 404,419.4 404.5,419.7 405,419.7 405.5,419.9 406,420 406.5,420 407,419.8 407.5,419.5 408,419.5 408.5,419.6 409,419.6 409.5,419.6 410,419.4 410.5,419.7 411,419.8 411.5,420 412.5,420 413,419.8 413.5,419.8 414,419.5 414.5,419.8 415,419.9 415.5,419.8 416,420 416.5,419.7 417,419.1 417.5,419.3 418,420 419.5,419.9 420,419.9 420.5,419.8 421,419.7 421.5,419.6 422,419.9 422.5,420 424.5,420 425,419.8 425.5,420.1 427.5,420 428,419.8 428.5,419.6 429,419.4 429.5,419.5 430,419.8 430.5,420 431,420 431.5,419.8 432,419.9 432.5,419.9 433,419.6 433.5,420 434,420 434.5,419.9 435,420 436,420 436.5,419.9 437,419.5 437.5,419.8 438,420 439,420 439.5,419.9 440,419.9 440.5,419.9 441.5,420 442,419.6 442.5,419.9 443,419.7 443.5,419.8 444,419.7 444.5,419.9 445,419.9 445.5,419.7 446,419.5 446.5,419.4 447,419 447.5,419.4 448,419.4 448.5,419.4 449,419.3 449.5,419 450,419.4 450.5,419.6 451,419.8 451.5,419.7 452,420.1 452.5,420 453,419.7 453.5,419.7 454,419.5 454.5,419.3 455,419.3 455.5,418.9 456,418.9 456.5,419.6 457,419.9 457.5,420.1 458,419.9 458.5,419.8 459,419.7 459.5,419.8 460,419.9 460.5,420 461,419.9 461.5,419.8 462,420.1 462.5,419.6 463,420.1 467,420 467.5,419.8 468,416.6 468.5,410.2 469,415.9 469.5,419.5 470,419.8 470.5,419.7 471,419.5 471.5,419.6 472,419.5 472.5,419.9 473,420 475.5,420.1 475.7,420.1" fill="#1f3fbf"/>
<polygon points="477.3,420.1 477.3,419.6 477.8,420 480.8,420 481.3,419.9 481.8,419.9 482.3,420 484.3,419.9 484.8,419.9 485.3,419.6 485.8,419.9 486.3,419.9 486.8,419.7 487.3,419.8 487.8,419.9 488.3,420 488.8,420 489.3,419.8 489.8,420 491.3,420 491.8,419.9 492.3,419.3 492.8,419.4 493.3,419.4 493.8,419.6 494.3,419.9 496.8,420 497.3,419.9 497.8,419.8 498.3,419.8 498.8,419.9 499.8,420 500.3,419.7 500.8,419.4 501.3,419.4 501.8,419.2 502.3,419.6 502.8,419.9 503.3,419.7 503.8,418.8 504.3,419.1 504.8,419.4 505.3,419.6 505.8,419.9 506.3,419.9 506.8,419.8 507.3,419.6 507.8,419.4 508.3,419.5 508.8,419.8 509.3,420 509.8,420.1 510.3,419.9 510.8,420 511.3,419.8 511.8,419.3 512.3,419.6 512.8,419.9 513.3,420.1 513.8,420 514.3,419.7 514.8,419.9 515.3,419.6 515.8,419.4 516.3,419 516.8,419.6 517.3,419.6 517.8,420 520.3,420 520.8,419.9 521.3,420 522.3,419.9 522.8,419.8 523.3,419.5 523.8,419.3 524.3,419.3 524.8,419.6 525.3,419.9 525.8,420 526.3,419.9 526.8,419.7 527.3,419.5 527.8,419.4 528.3,419.3 528.8,419.1 529.3,418.1 529.8,416.1 530.3,415.5 530.8,415.1 531.3,416.6 531.8,417.1 532.3,414.9 532.8,410.5 533.3,407.4 533.8,407.3 534.3,408.7 534.8,410.2 535.3,412.2 535.8,413.8 536.3,414.1 536.8,413.8 537.3,414.5 537.8,415.5 538.3,415.9 538.8,416.6 539.3,417 539.8,417 540.3,417 540.8,417.1 541.3,417.2 541.8,417.5 542.3,418 542.8,418.6 543.3,419.2 543.8,419.6 544.3,419.8 544.8,419.8 545.3,419.6 545.8,419.4 546.3,419.2 546.8,419.3 547.3,419.6 547.8,419.9 548.3,419.9 548.8,419.7 549.3,419.4 549.8,419.9 550.8,420.1 551.3,419.8 551.8,420.1 552.3,420.1 552.5,420.1" fill="#1f3fbf"/>
<polygon points="554.1,420.1 554.1,420 555.6,420 556.1,419.7 556.6,419.8 557.1,419.7 557.6,419.9 558.1,419.9 558.6,419.8 559.1,419.7 559.6,419.7 560.1,419.7 560.6,419.9 566.1,419.9 566.6,419.7 567.1,419.5 567.6,419.8 568.1,420 568.6,419.7 569.1,420 569.6,420 570.1,419.8 570.6,419.5 571.1,419.3 571.6,419.2 572.1,419.9 574.6,420 575.1,419.7 575.6,420 576.6,420 577.1,419.7 577.6,420.1 580.6,420 581.1,419.5 581.6,419.7 582.1,419.7 582.6,419.8 583.1,419.9 584.1,420.1 584.6,419.7 585.1,419.8 585.6,420.1 586.1,420.1 586.6,419.8 587.1,419.7 587.6,420 588.1,419.8 588.6,420.1 591.6,420 592.1,419.9 592.6,419.4 593.1,419.5 593.6,419.5 594.1,419.6 594.6,419.8 595.1,420 596.1,420.1 596.6,419.6 597.1,419.7 597.6,419.4 598.1,419.3 598.6,419.6 599.1,419.8 599.6,420 601.6,420 602.1,419.5 602.6,419.7 603.1,419.7 603.6,419.7 604.1,419.9 604.6,419.8 605.1,419.8 605.6,419.8 606.1,420 607.1,419.9 607.6,419.9 608.1,419.8 608.6,419.9 609.1,419.9 609.6,419.8 610.1,419.8 610.6,419.6 611.1,419.4 611.6,419.7 612.1,419.7 612.6,419.3 613.1,418.5 613.6,417.5 614.1,417 614.6,417.6 615.1,418.3 615.6,418.5 616.1,417.8 616.6,416.9 617.1,416.5 617.6,417.3 618.1,418.2 618.6,417.4 619.1,413.2 619.6,409.2 620.1,410.2 620.6,413.9 621.1,414.9 621.6,415.4 622.1,416.7 622.6,418.3 623.1,419.5 623.6,419.9 624.1,419.7 624.6,420 625.6,420 626.1,419.6 626.6,420.1 627.6,420 628.1,419.6 628.6,420.1 628.7,420.1" fill="#1f3fbf"/>
<polygon points="630.3,420.1 630.3,420.1 630.8,419.8 631.3,419.3 631.8,416.2 632.3,410.5 632.8,409.2 633.3,413.9 633.8,415.5 634.3,416.1 634.8,417.7 635.3,419.3 635.8,419.8 636.3,419.7 636.8,420.1 637.8,420 638.3,419.8 638.8,419.6 639.3,419.6 639.8,419.4 640.3,419.3 640.8,419.2 641.3,419.3 641.8,419.5 642.3,419.1 642.8,418.8 643.3,418.9 643.8,419.3 644.3,419.8 644.8,420 647.3,420 647.8,419.9 648.3,419.7 648.8,419.2 649.3,418.7 649.8,418.4 650.3,418.6 650.8,418.4 651.3,418.9 651.8,419.2 652.3,419.3 652.8,419.3 653.3,419.3 653.8,419.2 654.3,419.4 654.8,419.8 655.3,420 655.8,420.1 656.3,419.9 656.8,419.9 657.3,420.1 660.8,420 661.3,419.9 661.8,420 662.3,420 662.8,419.6 663.3,419.8 663.8,419.7 664.3,418.8 664.8,418.8 665.3,418.8 665.8,419.2 666.3,419.7 666.8,419.8 667.3,419.2 667.8,418.3 668.3,417.9 668.8,418 669.3,418.4 669.8,419.1 670.3,419.3 670.8,419.4 671.3,419.3 671.8,419.3 672.3,419.5 672.8,419.4 673.3,419.5 673.8,419.7 674.3,419.9 674.8,419.9 675.3,419.8 675.8,418.9 676.3,418.9 676.8,418.9 677.3,419.1 677.8,419.7 678.3,419.8 678.8,419.5 679.3,418.9 679.8,418.3 680.3,418.4 680.8,418.4 681.3,418.9 681.8,419.3 682.3,419.6 682.8,419.6 683.3,419.1 683.8,418.6 684.3,418.7 684.8,419.1 685.3,419.1 685.8,418.2 686.3,417.7 686.8,418.2 687.3,418.8 687.8,419.1 688.3,419.4 688.8,418.6 689.3,418.5 689.8,419.3 690.3,419.7 690.8,419.8 691.3,420 693.8,419.9 694.3,419 694.8,418.6 695.3,418.8 695.8,419.7 696.3,420 696.8,419.7 697.3,420 697.8,419.9 698.3,419.7 698.8,419.4 699.3,419.4 699.8,419.6 700.3,419 700.8,419 701.3,418.7 701.8,418.6 702.3,419.1 702.8,419.5 703.3,420 704.3,420 704.5,420.1" fill="#1f3fbf"/>
<line x1="95.6" y1="438.7" x2="705.3" y2="438.7" stroke="#f5a5a5" stroke-width="0.9"/>
<polygon points="96.4,438.7 96.4,438.6 96.9,438.6 97.4,438.4 97.9,438.7 99.4,438.7 99.9,438.4 100.4,438.7 105.9,438.6 106.4,438.5 106.9,438.7 107.4,438.5 107.9,438.6 108.9,438.7 109.4,438.2 109.9,438.7 113.4,438.7 113.9,438.4 114.4,438.6 114.9,438.5 115.4,438.6 117.4,438.6 117.9,438.3 118.4,438.7 121.4,438.7 121.9,438.2 122.4,438.3 122.9,438.6 123.9,438.6 124.4,438.4 124.9,438.7 125.4,438.4 125.9,438.6 126.4,438.7 126.9,438.3 127.4,438.4 127.9,438.7 128.4,438.6 128.9,438.4 129.4,438.4 129.9,438.2 130.4,437.9 130.9,437.4 131.4,437.4 131.9,437.3 132.4,437.3 132.9,437.7 133.4,437.9 133.9,438.1 134.4,438.3 134.9,438.4 135.4,438.6 135.9,438.5 136.4,438.5 137.4,438.6 137.9,438.3 138.4,438.6 142.4,438.7 142.9,438.3 143.4,438.7 145.4,438.6 145.9,438.3 146.4,438.6 147.4,438.6 147.9,438.3 148.4,438.7 148.9,438.5 149.4,438.6 158.9,438.6 159.4,438.4 159.9,438.7 163.9,438.6 164.4,438.3 164.9,438.6 166.4,438.7 166.9,438.4 167.4,438.6 167.9,438.6 168.4,438.5 168.9,438.6 169.9,438.7 170.4,438.5 170.5,438.7" fill="#e8141b"/>
<polygon points="172.1,438.7 172.1,438.7 175.1,438.6 175.6,438.5 176.1,438.6 177.6,438.6 178.1,438.3 178.6,438.6 179.1,438.5 179.6,438.6 180.1,438.6 180.6,438.3 181.1,438.1 181.6,438.4 182.1,438.6 185.1,438.6 185.6,438.5 186.1,438.4 186.6,438.2 187.1,438.6 188.6,438.6 189.1,438.3 189.6,438.5 190.1,438.7 190.6,438.2 191.1,438.4 191.6,438.7 197.6,438.5 198.1,438.3 198.6,438.6 199.1,438.6 199.6,438.4 200.1,438.6 205.6,438.5 206.1,438.2 206.6,438.4 207.1,438.3 207.6,438.4 208.1,438.4 208.6,438.5 210.6,438.7 211.1,438.3 211.6,438.5 212.1,438 212.6,437.8 213.1,438.1 213.6,437.8 214.1,438.4 214.6,438.6 215.1,438.2 215.6,438.2 216.1,438.1 216.6,438.4 217.1,438.5 217.6,438.3 218.1,438.3 218.6,438.4 219.1,438.5 219.6,438.4 220.1,438.3 220.6,438.1 221.1,438 221.6,437.9 222.1,437.7 222.6,437.6 223.1,437.6 223.6,437.7 224.1,437.8 224.6,437.9 225.1,437.9 225.6,438.2 226.1,438.4 226.6,438.4 227.1,438.6 228.6,438.6 229.1,438.4 229.6,438.1 230.1,437.7 230.6,438 231.1,438.6 231.6,438.3 232.1,438.7 235.6,438.6 236.1,438.4 236.6,438.7 237.1,438.7 237.6,438.3 238.1,438.7 239.6,438.6 240.1,438.5 240.6,438.4 241.1,438.4 241.6,438.5 242.1,438.6 245.1,438.6 245.6,438.5 246.1,438.6 246.6,438.7 246.9,438.7" fill="#e8141b"/>
<polygon points="248.5,438.7 248.5,438.7 251.5,438.5 252,438.3 252.5,438.3 253,438.4 253.5,438.5 254.5,438.7 255,438.3 255.5,438.6 256.5,438.6 257,438.3 257.5,438.7 259.5,438.6 260,438.4 260.5,438.1 261,437.9 261.5,438 262,437.8 262.5,438.3 263,438.3 263.5,438.1 264,438 264.5,437.9 265,437.7 265.5,438.3 266,438.5 266.5,438.3 267,438.1 267.5,438 268,438 268.5,438.1 269,438.1 269.5,438.1 270,438 270.5,438.1 271,438.4 271.5,438.6 275,438.7 275.5,438.4 276,438.7 279.5,438.7 280,438.2 280.5,438.7 283,438.6 283.5,438.4 284,438.2 284.5,437.9 285,437.9 285.5,438.1 286,438.5 286.5,438.6 288,438.6 288.5,438 289,438 289.5,438.5 290,438.6 290.5,438.2 291,438.4 291.5,438.5 292,438.2 292.5,438.3 293,438.1 293.5,438.5 294,438.4 294.5,438.4 295,438.6 295.5,438.6 296,438.3 296.5,438.3 297,438.6 298,438.5 298.5,438.2 299,437.8 299.5,437.2 300,436.8 300.5,437 301,437.5 301.5,437.8 302,437.9 302.5,437.7 303,438.2 303.5,438.6 304.5,438.6 305,438.4 305.5,438.2 306,438.2 306.5,438.3 307,438.4 307.5,438.6 308,438.5 308.5,438.6 309.5,438.7 310,438.5 310.5,438.7 313.5,438.6 314,438.5 314.5,438.4 315,438.1 315.5,438.3 316,438.4 316.5,438.3 317,438.2 317.5,438.2 318,438.2 318.5,438 319,437.9 319.5,438 320,438.3 320.5,438.3 321,438.6 322,438.6 322.5,438.2 323,438.7 323.2,438.7" fill="#e8141b"/>
<polygon points="324.8,438.7 324.8,438.5 325.3,438.3 325.8,438 326.3,438 326.8,438.2 327.3,437.9 327.8,437.7 328.3,437.4 328.8,437.3 329.3,437.5 329.8,437.7 330.3,437.2 330.8,437.1 331.3,437.2 331.8,437.4 332.3,437.9 332.8,438 333.3,438.3 333.8,438.2 334.3,438.1 334.8,438 335.3,438.2 335.8,438.4 336.3,438.5 336.8,437.9 337.3,438.2 337.8,438.2 338.3,438 338.8,438.3 339.3,438 339.8,438.2 340.3,438.2 340.8,438.1 341.3,438 341.8,437.9 342.3,437.8 342.8,437.5 343.3,437.6 343.8,437.8 344.3,437.9 344.8,437.9 345.3,437.9 345.8,437.8 346.3,438.2 346.8,438.4 347.3,438.5 347.8,438.5 348.3,438.3 348.8,438.2 349.3,438 349.8,438 350.3,438 350.8,437.9 351.3,438.2 351.8,438.3 352.3,438.3 352.8,437.9 353.3,437.7 353.8,437.5 354.3,437.8 354.8,438.2 355.3,438.4 355.8,438.4 356.3,438.6 356.8,438.6 357.3,438.2 357.8,438 358.3,437.8 358.8,437.9 359.3,437.5 359.8,437.7 360.3,437.6 360.8,437.4 361.3,437 361.8,436.9 362.3,436.9 362.8,437.1 363.3,436.9 363.8,437 364.3,437.4 364.8,437.9 365.3,438 365.8,437.5 366.3,437.3 366.8,437.8 367.3,438.3 367.8,438.5 368.3,438.5 368.8,438.3 369.3,438.4 369.8,438.4 370.3,438.2 370.8,437.9 371.3,437.8 371.8,438.1 372.3,438.3 372.8,438 373.3,438.3 373.8,438 374.3,438.1 374.8,438.3 375.3,438.4 375.8,438.1 376.3,437.8 376.8,438 377.3,438.2 377.8,438.1 378.3,437.9 378.8,437.6 379.3,437.7 379.8,438.4 380.3,438.4 380.8,438.2 381.3,438.4 381.8,438 382.3,438.1 382.8,438.1 383.3,438.1 383.8,438.5 384.3,438.2 384.8,437.7 385.3,437.7 385.8,438.2 386.3,438.3 386.8,437.9 387.3,438.3 387.8,438.4 388.3,438.5 388.8,438.6 389.3,438.6 389.8,438.5 390.3,438.1 390.8,437.5 391.3,437.7 391.8,437.2 392.3,438 392.8,438 393.3,438.6 395.3,438.5 395.8,438.3 396.3,438 396.8,438.2 397.3,438.3 397.8,438.5 399.3,438.7 399.4,438.7" fill="#e8141b"/>
<polygon points="401,438.7 401,438.5 401.5,438.6 403,438.7 403.5,438.5 404,438.6 404.5,438.6 405,438.4 405.5,438.1 406,437.9 406.5,438.1 407,438.3 407.5,438.5 408,438.1 408.5,438.2 409,437.9 409.5,437.8 410,437.7 410.5,438.2 411,438.5 411.5,438.4 412,438.2 412.5,438.3 413,438.4 413.5,438.2 414,438.5 414.5,438.1 415,438.1 415.5,438.4 416,438.5 416.5,438.6 417,438.5 417.5,438.3 418,438.2 418.5,438.3 419,438.5 419.5,438.7 420,438.5 420.5,438.6 422,438.6 422.5,438.5 423,438.1 423.5,438.4 424,438.4 424.5,438.5 425.5,438.6 426,438.3 426.5,438.1 427,438.1 427.5,438.3 428,438.5 428.5,438.6 429,438.5 429.5,438.3 430,438 430.5,437.8 431,437.9 431.5,437.9 432,438.3 432.5,438.4 433,438.4 433.5,438.4 434,438.5 434.5,438.3 435,438.5 435.5,438.3 436,438 436.5,438 437,438.3 437.5,438.1 438,438.3 438.5,438.5 439,438.4 439.5,438.6 440,438.7 440.5,438.4 441,438.3 441.5,438.7 442,438.3 442.5,438.6 444.5,438.6 445,438.5 445.5,438 446,438.1 446.5,438.3 447,438.2 447.5,438.6 448.5,438.7 449,438.3 449.5,438.3 450,438.6 451,438.6 451.5,438.4 452,437.9 452.5,438.2 453,438.2 453.5,438.2 454,438.2 454.5,438.4 455,438.5 455.5,438.6 456,438.2 456.5,438.5 457,438.3 457.5,438.1 458,437.9 458.5,437.9 459,438.4 459.5,438.6 461.5,438.5 462,438.1 462.5,438.6 463.5,438.6 464,438.5 464.5,438.6 465,438.2 465.5,438.6 467,438.6 467.5,438.5 468,435.8 468.5,430.6 469,435.4 469.5,438.5 470,438.4 470.5,438.2 471,437.6 471.5,437.7 472,438 472.5,438.2 473,438.4 473.5,438.6 475,438.6 475.5,438.2 475.7,438.7" fill="#e8141b"/>
<polygon points="477.3,438.7 477.3,438.6 477.8,438.6 478.3,438.3 478.8,438.6 479.3,438.6 479.8,438.5 480.3,438.5 480.8,438.5 483.8,438.7 484.3,438.2 484.8,438.6 486.3,438.7 486.8,438.3 487.3,438.7 488.8,438.5 489.3,438.4 489.8,438.2 490.3,438.3 490.8,438.6 492.3,438.7 492.8,438.4 493.3,438.7 496.3,438.6 496.8,438.4 497.3,438.1 497.8,437.9 498.3,437.9 498.8,438.1 499.3,438.5 499.8,438.6 500.3,438.4 500.8,438.7 501.3,438.4 501.8,438.6 502.3,438.6 502.8,438.5 503.3,438.3 503.8,438 504.3,437.8 504.8,437.8 505.3,438 505.8,438 506.3,438.6 506.8,438.3 507.3,438.6 511.8,438.6 512.3,438.4 512.8,437.6 513.3,438 513.8,438.4 514.3,438.4 514.8,438.4 515.3,438.5 515.8,438.5 520.8,438.7 521.3,438.4 521.8,438.2 522.3,438.5 522.8,438.3 523.3,438.3 523.8,438.5 524.3,438.6 524.8,438.3 525.3,438.6 525.8,438.6 526.3,438.5 526.8,438.1 527.3,438.2 527.8,438.4 528.3,438.2 528.8,437.3 529.3,435.8 529.8,434.3 530.3,433 530.8,433.1 531.3,434 531.8,434.5 532.3,431.8 532.8,426.8 533.3,423.1 533.8,423.3 534.3,424.9 534.8,426.4 535.3,429.2 535.8,431.1 536.3,431.9 536.8,431.9 537.3,432.4 537.8,433.1 538.3,433.8 538.8,434.4 539.3,434.8 539.8,435 540.3,435 540.8,435.1 541.3,435.2 541.8,436 542.3,436.5 542.8,437.2 543.3,437.7 543.8,438.1 544.3,438.4 544.8,438.3 545.3,438.6 548.3,438.6 548.8,438.2 549.3,438.7 549.8,438.4 550.3,438.6 552.3,438.6 552.5,438.7" fill="#e8141b"/>
<polygon points="554.1,438.7 554.1,438.6 554.6,438.7 555.1,438.5 555.6,438.3 556.1,438.5 556.6,438.5 557.1,438.4 557.6,438.4 558.1,438.4 558.6,438.3 559.1,438.3 559.6,438.4 560.1,438.5 562.6,438.7 563.1,438.4 563.6,438.6 567.1,438.7 567.6,438.5 568.1,438.5 568.6,438.1 569.1,437.9 569.6,438.3 570.1,438.4 570.6,438.3 571.1,438.2 571.6,438.3 572.1,438.5 572.6,438.5 573.1,438.4 573.6,438.2 574.1,438.5 574.6,438.5 575.1,438.5 575.6,438.5 576.1,438.5 576.6,438.5 577.1,438.1 577.6,438.2 578.1,438 578.6,438.2 579.1,438.4 579.6,438.5 580.1,438.6 580.6,438.3 581.1,438.7 581.6,438.6 582.1,438.4 582.6,438.2 583.1,438.2 583.6,438.1 584.1,438.3 584.6,438.5 585.1,438.6 588.6,438.5 589.1,438.2 589.6,438 590.1,437.8 590.6,437.7 591.1,437.8 591.6,438.3 592.1,438.6 594.1,438.6 594.6,438.3 595.1,438.5 595.6,438.2 596.1,438.2 596.6,438.3 597.1,438.4 597.6,438.6 598.6,438.7 599.1,438.4 599.6,438.7 601.6,438.6 602.1,438.3 602.6,438.1 603.1,437.9 603.6,438.1 604.1,438.4 604.6,438.2 605.1,438.6 605.6,438.5 606.1,438.2 606.6,438 607.1,437.8 607.6,438 608.1,438.4 608.6,438.5 609.1,438.6 611.6,438.6 612.1,438.4 612.6,438.2 613.1,437.6 613.6,436.8 614.1,436.4 614.6,437.1 615.1,437.7 615.6,437.6 616.1,436.8 616.6,435.2 617.1,435 617.6,436 618.1,436.9 618.6,436.1 619.1,431.8 619.6,428.3 620.1,429.6 620.6,433 621.1,434.1 621.6,434.1 622.1,435.3 622.6,436.8 623.1,437.7 623.6,437.9 624.1,438 624.6,437.9 625.1,437.9 625.6,438.1 626.1,438.2 626.6,438.5 628.1,438.7 628.6,438.3 628.7,438.7" fill="#e8141b"/>
<polygon points="630.3,438.7 630.3,438.7 630.8,438.2 631.3,437.9 631.8,434.6 632.3,428.7 632.8,427.6 633.3,432.2 633.8,434.3 634.3,434.5 634.8,436 635.3,437.7 635.8,438.4 636.3,438.1 636.8,437.3 637.3,437 637.8,437 638.3,437.2 638.8,437.6 639.3,438.3 639.8,438.5 640.8,438.5 641.3,438.3 641.8,438.2 642.3,438.2 642.8,438.5 643.3,438.6 645.3,438.6 645.8,438.4 646.3,438.1 646.8,437.6 647.3,437.5 647.8,437.1 648.3,437.2 648.8,436.8 649.3,436.8 649.8,437 650.3,436.8 650.8,437.1 651.3,437 651.8,436.5 652.3,437 652.8,438 653.3,438.2 653.8,437.8 654.3,437.3 654.8,436.8 655.3,437.2 655.8,437.9 656.3,438.4 656.8,438.3 657.3,437.6 657.8,436.8 658.3,436.4 658.8,437.4 659.3,437.5 659.8,437.3 660.3,437.3 660.8,437.8 661.3,438.2 661.8,438.3 662.3,437.9 662.8,437.4 663.3,437 663.8,436.3 664.3,437.1 664.8,438.2 665.3,438.6 666.8,438.5 667.3,438.3 667.8,437.9 668.3,438.1 668.8,438.3 669.3,438.6 669.8,438.6 670.3,437.8 670.8,437.5 671.3,437.3 671.8,437.7 672.3,438.1 672.8,437.8 673.3,437.4 673.8,438.3 674.3,438.6 675.3,438.5 675.8,438.2 676.3,437.8 676.8,437.4 677.3,437.3 677.8,437.3 678.3,437.3 678.8,436.8 679.3,436.8 679.8,436.9 680.3,437.1 680.8,437.1 681.3,437.3 681.8,437.7 682.3,437.8 682.8,437.3 683.3,437.1 683.8,437 684.3,437 684.8,437 685.3,436.7 685.8,436.7 686.3,436.7 686.8,436.9 687.3,437.5 687.8,438.4 688.3,438.6 691.3,438.6 691.8,438.3 692.3,438.6 692.8,438.5 693.3,438.2 693.8,438 694.3,437.9 694.8,438.3 695.3,438.6 696.3,438.6 696.8,438.3 697.3,437.9 697.8,437.5 698.3,437.5 698.8,437.8 699.3,438.4 699.8,438.6 700.8,438.6 701.3,438.5 701.8,438.6 704.3,438.6 704.5,438.7" fill="#e8141b"/>
<line x1="95.6" y1="456.9" x2="705.3" y2="456.9" stroke="#f4c8a6" stroke-width="0.9"/>
<polygon points="96.4,456.9 96.4,456.5 96.9,456.9 98.9,456.9 99.4,456.5 99.9,456.9 103.9,456.8 104.4,456.7 104.9,456.8 105.4,456.6 105.9,456.7 106.4,456.8 115.4,456.9 115.9,456.6 116.4,456.9 118.4,456.8 118.9,456.7 119.4,456.8 123.9,456.9 124.4,456.6 124.9,456.9 130.4,456.9 130.9,456.5 131.4,456.8 131.9,456.6 132.4,456.9 137.9,456.7 138.4,456.6 138.9,456.8 139.4,456.9 139.9,456.7 140.4,456.8 141.9,456.8 142.4,456.6 142.9,456.4 143.4,456.2 143.9,456.1 144.4,456.1 144.9,456.3 145.4,456.6 145.9,456.7 152.9,456.9 153.4,456.6 153.9,456.9 156.4,456.9 156.9,456.5 157.4,456.9 158.4,456.9 158.9,456.6 159.4,456.9 161.9,456.9 162.4,456.6 162.9,456.8 163.4,456.8 163.9,456.4 164.4,456.9 164.9,456.8 165.4,456.6 165.9,456.5 166.4,456.7 166.9,456.7 167.4,456.9 167.9,456.7 168.4,456.5 168.9,456.8 169.4,456.8 169.9,456.6 170.4,456.9 170.5,456.9" fill="#e39a62"/>
<polygon points="172.1,456.9 172.1,456.6 172.6,456.5 173.1,456.6 173.6,456.9 175.1,456.9 175.6,456.5 176.1,456.8 179.6,456.8 180.1,456.7 180.6,456.9 186.6,456.9 187.1,456.6 187.6,456.6 188.1,456.6 188.6,456.4 189.1,456.1 189.6,456.1 190.1,456.2 190.6,456.6 191.1,456.6 191.6,456.8 192.1,456.9 192.6,456.5 193.1,456.8 193.6,456.8 194.1,456.3 194.6,456.3 195.1,456.1 195.6,456.2 196.1,455.4 196.6,453.3 197.1,452.5 197.6,454.1 198.1,456 198.6,456.6 199.1,456.8 203.6,456.9 204.1,456.5 204.6,456.5 205.1,456.9 210.6,456.7 211.1,456.6 211.6,456.5 212.1,456.2 212.6,456.4 213.1,456.5 213.6,456.5 214.1,456.4 214.6,456.3 215.1,456 215.6,456 216.1,455.9 216.6,455.8 217.1,455.7 217.6,455.4 218.1,455.5 218.6,455.5 219.1,455.5 219.6,455.4 220.1,455.2 220.6,455.4 221.1,456.2 221.6,456.3 222.1,456.2 222.6,455.9 223.1,455.7 223.6,455.8 224.1,455.7 224.6,456.4 225.1,456.6 225.6,456.7 226.1,456.6 226.6,456.2 227.1,456.4 227.6,456.2 228.1,456.1 228.6,455.8 229.1,455.6 229.6,455.1 230.1,455.2 230.6,455.3 231.1,455.7 231.6,455.9 232.1,456.1 232.6,456.3 233.1,456.4 233.6,456.6 234.1,456.3 234.6,456.8 235.6,456.8 236.1,456.7 236.6,456.4 237.1,456.1 237.6,456.4 238.1,456.8 241.1,456.9 241.6,456.7 242.1,456.1 242.6,455.7 243.1,455.7 243.6,455.8 244.1,456 244.6,456.3 245.1,456.6 245.6,456.8 246.1,456.6 246.6,456.8 246.9,456.9" fill="#e39a62"/>
<polygon points="248.5,456.9 248.5,456.8 250,456.7 250.5,456.7 251,456.2 251.5,456.5 252,456.4 252.5,456.6 253,456.8 253.5,456.4 254,456.8 254.5,456.5 255,456.3 255.5,456.5 256,456.7 256.5,456.7 257,456.4 257.5,455.9 258,455.9 258.5,455.8 259,456.1 259.5,456.4 260,456.5 260.5,456.6 261,456.5 261.5,456.5 262,456.6 262.5,456.2 263,456.4 263.5,456.3 264,456.7 267.5,456.9 268,456.7 268.5,456.8 272,456.8 272.5,456.6 273,456.5 273.5,456.1 274,455.6 274.5,456.1 275,456.5 275.5,456.6 276,456.2 276.5,456.4 277,456.4 277.5,456.5 278,456.6 278.5,456.5 279,456.9 279.5,456.9 280,456.6 280.5,456.6 281,456.2 281.5,456.5 282,456.8 283,456.8 283.5,456.6 284,456.5 284.5,456.2 285,455.8 285.5,456.2 286,456.6 286.5,456.8 288,456.8 288.5,456.5 289,456.3 289.5,456.3 290,456.5 290.5,456.4 291,456.2 291.5,456.4 292,456.5 292.5,456.8 293.5,456.9 294,456.6 294.5,456.9 295,456.8 295.5,456.7 296,456.8 296.5,456.7 297,456.5 297.5,456.9 298,456.8 298.5,456.6 299,456.2 299.5,455.3 300,455.3 300.5,455.1 301,455.9 301.5,456.3 302,456.4 302.5,456.3 303,455.8 303.5,456.3 304,456.5 304.5,456.6 305,456.5 305.5,456.2 306,456.5 306.5,456.3 307,456.1 307.5,456.3 308,456.4 308.5,456.7 315.5,456.8 316,456.6 316.5,456.4 317,456.2 317.5,456.4 318,456.4 318.5,456.4 319,456.2 319.5,455.8 320,455.7 320.5,456.1 321,456.6 321.5,456.8 322,456.8 322.5,456.6 323,456.9 323.2,456.9" fill="#e39a62"/>
<polygon points="324.8,456.9 324.8,455.3 325.3,455.8 325.8,456.5 326.3,456.8 327.8,456.8 328.3,456.5 328.8,456.4 329.3,456.4 329.8,456.5 330.3,456.7 330.8,456.7 331.3,456.5 331.8,456.4 332.3,456.2 332.8,456.5 333.3,456.4 333.8,456.1 334.3,455.9 334.8,456.4 335.3,456.1 335.8,456.3 336.3,456.1 336.8,455.4 337.3,455.5 337.8,455.8 338.3,455.5 338.8,455.5 339.3,455.2 339.8,455.4 340.3,455.8 340.8,456.5 341.3,456.6 341.8,456.3 342.3,455.9 342.8,455.6 343.3,455.6 343.8,455.8 344.3,455.8 344.8,455.8 345.3,455.7 345.8,455.8 346.3,456.1 346.8,456.7 347.3,456.8 347.8,456.3 348.3,456.2 348.8,455.9 349.3,455.7 349.8,455.8 350.3,455.9 350.8,455.9 351.3,455.7 351.8,455.8 352.3,455.7 352.8,455.5 353.3,455.9 353.8,455.8 354.3,456.3 354.8,456.6 355.3,456.7 355.8,456.6 356.3,456.2 356.8,456.3 357.3,456 357.8,455.8 358.3,456 358.8,456.5 359.3,456.5 359.8,456.4 360.3,456.4 360.8,456.5 361.3,456.4 361.8,456.1 362.3,456 362.8,456.4 363.3,456.4 363.8,456.2 364.3,456.2 364.8,456 365.3,456.4 365.8,456 366.3,456.2 366.8,456.3 367.3,456.4 367.8,456 368.3,455.8 368.8,455.7 369.3,455.6 369.8,455.7 370.3,455.9 370.8,455.8 371.3,455.6 371.8,455.4 372.3,455.7 372.8,456.3 373.3,456.4 373.8,456.2 374.3,456 374.8,456 375.3,455.4 375.8,455.4 376.3,455.2 376.8,455.3 377.3,455.3 377.8,455.6 378.3,455.9 378.8,456.3 379.3,456.6 379.8,456.7 380.3,456.3 380.8,455.8 381.3,455.9 381.8,456.4 382.3,456.7 382.8,456.7 383.3,456.4 383.8,456 384.3,456.3 384.8,456.5 385.3,456.5 385.8,456.5 386.3,456.4 386.8,456.2 387.3,456.4 387.8,456.3 388.3,456.3 388.8,456.5 389.3,456.5 389.8,456.4 390.3,456.5 390.8,456.2 391.3,456.3 391.8,455.8 392.3,456.2 392.8,456.4 393.3,456.4 393.8,456.2 394.3,455.8 394.8,455.5 395.3,455.7 395.8,456.3 396.3,456.6 396.8,456.9 397.3,456.9 397.8,456.5 398.3,456.8 399.3,456.9 399.4,456.9" fill="#e39a62"/>
<polygon points="401,456.9 401,456.9 401.5,456.8 402,456.3 402.5,456.4 403,456.2 403.5,456.3 404,456.6 404.5,456.7 405,456.9 406,456.8 406.5,456.5 407,456.9 408,456.7 408.5,456.6 409,456.3 409.5,456.5 410,456.8 411.5,456.7 412,456.6 412.5,456.7 413,456.8 413.5,456.6 414,456.8 415,456.7 415.5,456.7 416,456.5 416.5,456.5 417,456.5 417.5,456.3 418,456.1 418.5,456.2 419,456.5 419.5,456.8 420,456.8 420.5,456.6 421,456.7 426,456.8 426.5,456.7 427,456.5 427.5,456.3 428,456.1 428.5,456.5 429,456.4 429.5,456.3 430,455.8 430.5,455.8 431,455.9 431.5,456.3 432,456.6 432.5,456.6 433,456.7 433.5,456.6 434,456.4 434.5,456.3 435,456.5 435.5,456.8 436.5,456.9 437,456.4 437.5,456.5 438,456.3 438.5,456.5 439,456.8 439.5,456.6 440,456.7 441,456.8 441.5,456.3 442,456.5 442.5,456.7 443,456.8 443.5,456.6 444,456.8 447.5,456.8 448,456.6 448.5,456.8 450.5,456.8 451,456.7 451.5,456.2 452,456.2 452.5,456.4 453,456.6 453.5,456.6 454,456.5 454.5,456.6 455,456.5 455.5,456.8 456,456.6 456.5,456.5 457,456.4 457.5,456 458,456.7 458.5,456.7 459,456.6 459.5,456.4 460,456.1 460.5,456 461,456.3 461.5,456.5 462,456.2 462.5,456.4 463,456.2 463.5,455.9 464,455.5 464.5,455.9 465,456.1 465.5,456.3 466,456.5 466.5,456.7 467,456.9 467.5,456.6 468,451.8 468.5,442.8 469,451.4 469.5,456.6 470,456.8 470.5,456.5 471,456.9 471.5,456.8 472,456.4 472.5,456.6 473,456.6 473.5,456.6 474,456.8 475.5,456.8 475.7,456.9" fill="#e39a62"/>
<polygon points="477.3,456.9 477.3,456.8 477.8,456.4 478.3,456.8 478.8,456.5 479.3,456.1 479.8,455.7 480.3,455.8 480.8,456.2 481.3,456.6 481.8,456.6 482.3,456.8 484.8,456.8 485.3,456.6 485.8,456.8 487.3,456.8 487.8,456.6 488.3,456.6 488.8,456.3 489.3,456.4 489.8,456.6 490.3,456.7 492.3,456.8 492.8,456.6 493.3,456 493.8,455.3 494.3,455 494.8,456.1 495.3,456.4 495.8,456.4 496.3,456.2 496.8,455.5 497.3,455.6 497.8,456.2 498.3,456.4 498.8,456.2 499.3,456.2 499.8,456.5 500.3,456.6 500.8,456.4 501.3,456 501.8,455.5 502.3,455.8 502.8,456.5 503.3,456.8 503.8,456.7 504.3,456.1 504.8,455.1 505.3,455.3 505.8,456.2 506.3,456.5 506.8,456.3 507.3,456.4 507.8,456.3 508.3,456.4 508.8,456.8 511.3,456.8 511.8,456.7 512.3,456.2 512.8,456.4 513.3,456.5 513.8,456.5 514.3,456.7 514.8,456.5 515.3,456.4 515.8,456.2 516.3,456.1 516.8,456 517.3,456.2 517.8,456.6 518.3,456.8 520.3,456.9 520.8,456.5 521.3,456.9 522.8,456.8 523.3,456.5 523.8,456.7 524.3,456.5 524.8,456.2 525.3,456.3 525.8,456.6 526.3,456.7 526.8,456.4 527.3,455.5 527.8,454 528.3,452.7 528.8,452.1 529.3,452.1 529.8,451.4 530.3,450.9 530.8,451.2 531.3,452.7 531.8,453.1 532.3,450.5 532.8,445.2 533.3,441.4 533.8,441.1 534.3,442.4 534.8,444 535.3,446.6 535.8,448.3 536.3,448.8 536.8,447.5 537.3,446.4 537.8,447.2 538.3,450.5 538.8,452.3 539.3,452.6 539.8,452.5 540.3,452.7 540.8,453.3 541.3,453.8 541.8,454.3 542.3,454.8 542.8,455.2 543.3,455.9 543.8,456.3 544.3,456.3 544.8,456.3 545.3,456.6 545.8,456.9 547.8,456.8 548.3,456.6 548.8,456.8 549.3,456.9 549.8,456.6 550.3,456.6 550.8,456.8 552.3,456.9 552.5,456.9" fill="#e39a62"/>
<polygon points="554.1,456.9 554.1,456.7 554.6,456.3 555.1,455.9 555.6,456.3 556.1,456.5 556.6,456.3 557.1,456 557.6,456.3 558.1,456.7 558.6,456.8 560.6,456.8 561.1,456.6 561.6,456.8 562.6,456.9 563.1,456.7 563.6,456.8 566.6,456.8 567.1,456.6 567.6,456.2 568.1,456.1 568.6,456 569.1,456.7 574.1,456.8 574.6,456.6 575.1,456.8 576.6,456.8 577.1,456.7 577.6,456.5 578.1,456.3 578.6,456.2 579.1,456.8 581.6,456.8 582.1,456.6 582.6,456.8 584.6,456.8 585.1,456.6 585.6,456.5 586.1,456.4 586.6,456.5 587.1,456.8 588.6,456.8 589.1,456.3 589.6,456.4 590.1,456.4 590.6,456.6 591.1,456.7 592.1,456.9 592.6,456.4 593.1,456.7 593.6,456.4 594.1,456.2 594.6,456.1 595.1,456.8 601.6,456.8 602.1,456.6 602.6,455.9 603.1,455.5 603.6,456.2 604.1,456.6 604.6,456.9 606.1,456.8 606.6,456.7 607.1,456.3 607.6,455.5 608.1,455.1 608.6,455.3 609.1,455.5 609.6,456.1 610.1,456.4 610.6,456.3 611.1,455.5 611.6,454.7 612.1,454.2 612.6,454.4 613.1,454.2 613.6,453.2 614.1,451.6 614.6,450.3 615.1,450.5 615.6,451.8 616.1,452.3 616.6,452.2 617.1,452.1 617.6,453.4 618.1,454.7 618.6,453.7 619.1,448.7 619.6,443.7 620.1,445.1 620.6,449.1 621.1,450.8 621.6,450.9 622.1,452.4 622.6,454.6 623.1,456.1 623.6,456.7 624.1,456.4 624.6,456.8 626.1,456.9 626.6,456.6 627.1,456.9 627.6,456.6 628.1,456.9 628.6,456.9 628.7,456.9" fill="#e39a62"/>
<polygon points="630.3,456.9 630.3,456.6 630.8,456.7 631.3,455.9 631.8,451.6 632.3,443.9 632.8,442.5 633.3,448.2 633.8,451.3 634.3,451.5 634.8,453.7 635.3,455.8 635.8,456.7 636.3,456.6 636.8,456.7 637.3,456.9 637.8,456.6 638.3,456.8 638.8,456.8 639.3,456.5 639.8,456.4 640.3,456.3 640.8,455.3 641.3,455.1 641.8,455.2 642.3,454.8 642.8,454.6 643.3,454.2 643.8,454.1 644.3,454.9 644.8,456 645.3,456.3 645.8,456 646.3,456.1 646.8,456.5 647.3,456.8 650.3,456.7 650.8,456.2 651.3,455.4 651.8,454.7 652.3,454.7 652.8,455.5 653.3,456.3 653.8,456.3 654.3,456.1 654.8,455.7 655.3,455.6 655.8,455.8 656.3,456 656.8,455.6 657.3,455.6 657.8,455.9 658.3,456.1 658.8,455.9 659.3,455.9 659.8,456.2 660.3,456.1 660.8,455.8 661.3,456 661.8,456.4 662.3,456.7 662.8,456.8 663.3,456.7 663.8,456 664.3,455.5 664.8,454.8 665.3,455 665.8,455.7 666.3,456.5 666.8,456.8 667.3,456.5 667.8,456.6 668.3,456.9 669.3,456.8 669.8,456.7 670.3,456.8 670.8,456.9 671.3,456.7 671.8,456.8 672.3,456.7 672.8,456 673.3,455.2 673.8,453.9 674.3,453.8 674.8,454.4 675.3,455.6 675.8,456.3 676.3,455.6 676.8,454.1 677.3,454.2 677.8,455.8 678.3,456.7 679.3,456.7 679.8,456.3 680.3,456.2 680.8,455.4 681.3,455.8 681.8,456.2 682.3,456.5 682.8,456.4 683.3,455.8 683.8,455.2 684.3,455.3 684.8,455.9 685.3,456.5 685.8,456.4 686.3,455.3 686.8,454.8 687.3,454.9 687.8,455.9 688.3,456.6 688.8,456.8 689.3,456.9 689.8,456.6 690.3,456.8 692.3,456.8 692.8,456.7 693.3,456.9 694.8,456.7 695.3,455.8 695.8,453.8 696.3,453.7 696.8,454.8 697.3,455.2 697.8,455.2 698.3,454.7 698.8,454.6 699.3,454.9 699.8,455.5 700.3,454.9 700.8,454.2 701.3,453.8 701.8,454.1 702.3,455.1 702.8,456.3 703.3,456.8 703.8,456.8 704.3,456.7 704.5,456.9" fill="#e39a62"/>
<line x1="95.6" y1="365.9" x2="705.3" y2="365.9" stroke="#777" stroke-width="1.3"/>
<line x1="95.6" y1="365.9" x2="95.6" y2="457.2" stroke="#666" stroke-width="1.1"/>
<line x1="171.3" y1="365.9" x2="171.3" y2="457.2" stroke="#666" stroke-width="1.1"/>
<line x1="247.7" y1="365.9" x2="247.7" y2="457.2" stroke="#666" stroke-width="1.1"/>
<line x1="324" y1="365.9" x2="324" y2="457.2" stroke="#666" stroke-width="1.1"/>
<line x1="400.2" y1="365.9" x2="400.2" y2="457.2" stroke="#666" stroke-width="1.1"/>
<line x1="476.5" y1="365.9" x2="476.5" y2="457.2" stroke="#666" stroke-width="1.1"/>
<line x1="553.3" y1="365.9" x2="553.3" y2="457.2" stroke="#666" stroke-width="1.1"/>
<line x1="629.5" y1="365.9" x2="629.5" y2="457.2" stroke="#666" stroke-width="1.1"/>
<text x="88" y="380.9" text-anchor="end" textLength="18.5" lengthAdjust="spacingAndGlyphs" fill="#222">Ctrl</text>
<text x="88" y="400.5" text-anchor="end" fill="#9b30d9">WT</text>
<text x="88" y="418" text-anchor="end" fill="#2a2ae6">mt1</text>
<text x="88" y="437.2" text-anchor="end" fill="#ee2222">mt2</text>
<text x="88" y="455.8" text-anchor="end" fill="#f47a2a">dEZH2</text>
<path d="M45.7,372.2 H40.4 V453.1 H45.7" fill="none" stroke="#7a7a7a" stroke-width="1"/>
<line x1="95.6" y1="485" x2="705.3" y2="485" stroke="#6a6a6a" stroke-width="0.9"/>
<polygon points="96.4,485 96.4,485 96.9,484.6 97.4,484.9 100.9,484.9 101.4,484.8 101.9,484.4 102.4,483.9 102.9,483.4 103.4,483.1 103.9,483.1 104.4,483.7 104.9,484.2 105.4,484.6 105.9,484.5 106.4,484.9 107.9,484.9 108.4,484.7 108.9,484.9 109.4,484.7 109.9,484.8 110.4,485 114.9,484.9 115.4,484.8 115.9,484.3 116.4,483.9 116.9,484.1 117.4,484.6 117.9,484.9 118.9,485 119.4,484.6 119.9,485 120.4,484.7 120.9,484.7 121.4,484.6 121.9,484.9 123.4,485 123.9,484.7 124.4,484.9 124.9,485 125.4,484.7 125.9,484.9 126.4,485 126.9,484.6 127.4,485 130.4,485 130.9,484.8 131.4,485 132.9,485 133.4,484.6 133.9,485 148.9,485 149.4,484.6 149.9,485 151.4,485 151.9,484.8 152.4,485 154.9,484.9 155.4,484.6 155.9,485 156.4,485 156.9,484.7 157.4,485 159.4,484.9 159.9,484.8 160.4,484.3 160.9,484 161.4,483.7 161.9,483.3 162.4,483.5 162.9,484 163.4,484.4 163.9,484.7 164.4,484.5 164.9,484.7 165.4,484.9 169.9,485 170.4,484.6 170.5,485" fill="#000000"/>
<polygon points="172.1,485 172.1,484.3 172.6,484.1 173.1,484 173.6,484 174.1,484.6 174.6,484.8 176.1,485 176.6,484.7 177.1,484.7 177.6,484.9 181.1,484.9 181.6,484.3 182.1,484.7 182.6,484.8 183.1,485 187.6,485 188.1,484.8 188.6,485 190.1,484.9 190.6,484.4 191.1,484.6 191.6,484.1 192.1,484.1 192.6,484.4 193.1,484.4 193.6,484.6 194.1,485 195.1,484.9 195.6,484.7 196.1,484.5 196.6,484.9 198.6,484.9 199.1,484.5 199.6,484.5 200.1,484.5 200.6,484.6 201.1,484.8 201.6,484.3 202.1,484.3 202.6,484.4 203.1,484.9 203.6,484.8 204.1,484.6 204.6,484.6 205.1,484.7 205.6,484.8 206.1,484.9 210.6,484.9 211.1,484.5 211.6,484.9 212.1,485 212.6,484.7 213.1,485 215.1,484.9 215.6,484.7 216.1,484.4 216.6,484.3 217.1,483.8 217.6,483.5 218.1,483.4 218.6,483.7 219.1,484.1 219.6,484.4 220.1,484.4 220.6,484.3 221.1,484.2 221.6,484.5 222.1,484.7 222.6,484.6 223.1,484.8 223.6,484.6 224.1,484.5 224.6,484.3 225.1,483.9 225.6,484 226.1,484 226.6,484.1 227.1,484.4 227.6,484.4 228.1,484.3 228.6,484.1 229.1,483.6 229.6,484.2 230.1,484.2 230.6,484.4 231.1,484.4 231.6,484.2 232.1,484.6 232.6,484.5 233.1,484.1 233.6,484 234.1,483.8 234.6,484.2 235.1,484.1 235.6,484.1 236.1,483.9 236.6,483.9 237.1,484.1 237.6,484.2 238.1,484 238.6,483.9 239.1,484.1 239.6,484.4 240.1,484.7 240.6,484.9 245.6,484.9 246.1,484.8 246.6,484.9 246.9,485" fill="#000000"/>
<polygon points="248.5,485 248.5,484.9 249,484.8 249.5,484.9 253,485 253.5,484.6 254,484.9 254.5,484.8 255,484.6 255.5,484.7 256,484.5 256.5,484.9 257,484.5 257.5,484.9 258,484.6 258.5,484.9 259,484.7 259.5,485 260,484.5 260.5,484.8 263,485 263.5,484.7 264,484.9 266.5,485 267,484.5 267.5,485 269,484.9 269.5,484.7 270,485 272,484.9 272.5,484.8 273,484.7 273.5,484.8 274,484.9 274.5,484.6 275,484.9 275.5,484.7 276,485 277,484.9 277.5,484.7 278,484.7 278.5,484.8 279,484.9 284.5,484.8 285,484.7 285.5,484.5 286,484.3 286.5,483.8 287,484 287.5,484.3 288,484.5 288.5,484.4 289,483.7 289.5,483.7 290,483.7 290.5,483.9 291,484.1 291.5,484.4 292,484.7 292.5,484.8 295.5,484.9 296,484.8 296.5,484.4 297,484.3 297.5,484.2 298,484.8 298.5,484.9 299,484.9 299.5,484.7 300,484.9 300.5,484.9 301,484.4 301.5,484.3 302,484.3 302.5,484 303,483.6 303.5,483.4 304,483.2 304.5,483.7 305,483.6 305.5,484.3 306,484.2 306.5,484.7 307,484.7 307.5,484.5 308,484.4 308.5,484.5 309,484.5 309.5,484.9 310,484.5 310.5,484.8 311,485 314,484.9 314.5,484.6 315,485 316,484.9 316.5,484.5 317,484.6 317.5,484.3 318,484.6 318.5,484.2 319,484.2 319.5,484.3 320,484.5 320.5,484.6 321,484.7 321.5,484.4 322,484.8 323,485 323.2,485" fill="#000000"/>
<polygon points="324.8,485 324.8,484.3 325.3,484.3 325.8,484.6 326.3,484.8 326.8,484.7 327.3,484.5 327.8,483.9 328.3,483.9 328.8,484.3 329.3,484.3 329.8,484.2 330.3,483.8 330.8,484.4 331.3,484.7 331.8,484.9 332.8,484.8 333.3,484.2 333.8,484.5 334.3,484.2 334.8,484.6 335.3,484.6 335.8,484.4 336.3,484.3 336.8,484.5 337.3,484.6 337.8,484.5 338.3,484.6 338.8,484.5 339.3,484.2 339.8,484.2 340.3,483.9 340.8,483.8 341.3,483.9 341.8,484 342.3,484.1 342.8,484.2 343.3,484.3 343.8,484.4 344.3,484.4 344.8,484.6 345.3,484.3 345.8,483.9 346.3,483.8 346.8,484 347.3,484.3 347.8,484.6 348.3,484.5 348.8,484.3 349.3,484 349.8,483.6 350.3,483.3 350.8,483.7 351.3,483.7 351.8,484.4 352.3,484.3 352.8,484.8 353.3,484.5 353.8,484 354.3,483.9 354.8,484.1 355.3,484.3 355.8,484.1 356.3,484 356.8,484.2 357.3,484.4 357.8,484 358.3,484.5 358.8,484.4 359.3,484.2 359.8,483.4 360.3,484 360.8,484.5 361.3,484.3 361.8,483.9 362.3,483.8 362.8,484.1 363.3,483.9 363.8,484.1 364.3,484 364.8,483.4 365.3,484 365.8,484.5 366.3,484.2 366.8,484 367.3,484.1 367.8,484.5 368.3,484.7 368.8,484.6 369.3,484.4 369.8,484.1 370.3,484.1 370.8,484.4 371.3,484.2 371.8,484.5 372.3,484.3 372.8,483.9 373.3,483.7 373.8,483.9 374.3,484.1 374.8,484.6 375.3,484.8 375.8,484.5 376.3,484.5 376.8,484.8 377.3,484.5 377.8,484.2 378.3,484.3 378.8,484.5 379.3,484.3 379.8,484.5 380.3,484.5 380.8,484.4 381.3,484.4 381.8,484.2 382.3,484.2 382.8,484.2 383.3,484 383.8,483.9 384.3,484.3 384.8,484.6 385.3,484.6 385.8,484.3 386.3,484.2 386.8,484.2 387.3,484.2 387.8,484.2 388.3,484.1 388.8,483.8 389.3,483.8 389.8,483.9 390.3,484 390.8,484.2 391.3,484.1 391.8,483.8 392.3,483.6 392.8,483 393.3,483.5 393.8,483.1 394.3,483.8 394.8,484.5 395.3,484.5 395.8,484.1 396.3,483.7 396.8,483.2 397.3,483.8 397.8,484.3 398.3,484.7 398.8,484.9 399.3,484.6 399.4,485" fill="#000000"/>
<polygon points="401,485 401,484.7 401.5,484.6 402,483.9 402.5,484.3 403,484.4 403.5,484.3 404,484.1 404.5,484.2 405,484 405.5,484.2 406,484.7 406.5,484.9 408,484.9 408.5,484.7 409,484.2 409.5,484.5 410,484.6 410.5,484.7 411,484.8 411.5,484.6 412,485 413.5,484.9 414,484.7 414.5,484.4 415,484.2 415.5,484.4 416,484.7 416.5,484.4 417,484.2 417.5,484.2 418,483.9 418.5,484.5 419,484.8 419.5,484.9 420,484.6 420.5,484.9 421,484.8 421.5,484.7 422,484.7 422.5,484.7 423,484.6 423.5,484.4 424,483.7 424.5,484.5 425,484.7 425.5,484.7 426,484.6 426.5,484.7 427,484.9 427.5,485 428,484.6 428.5,484.9 429,485 429.5,484.6 430,484.8 430.5,484.8 431,484.9 433.5,484.8 434,484.6 434.5,484.4 435,484.2 435.5,484.6 436,484.8 436.5,484.9 437,484.6 437.5,484.4 438,484.5 438.5,484.5 439,484.4 439.5,484.3 440,484.6 440.5,484.5 441,484.3 441.5,484.3 442,484.7 442.5,484.7 443,484.5 443.5,484.7 444,484.8 444.5,484.7 445,484.2 445.5,484.3 446,484.3 446.5,484.3 447,484.2 447.5,484.2 448,484.4 448.5,484.6 449,484.8 449.5,484.5 450,484.7 450.5,484.3 451,484.2 451.5,484.3 452,484.6 452.5,484.8 453,484.6 453.5,484.3 454,484.2 454.5,484.4 455,484.7 455.5,484.8 457,484.9 457.5,484.8 458,484.3 458.5,484.4 459,484.3 459.5,484.6 460,484.9 460.5,484.6 461,484.7 461.5,484.9 462,484.9 462.5,484.5 463,485 463.5,484.8 464,484.7 464.5,484.1 465,484.3 465.5,484.2 466,484.7 466.5,484.6 467,484.9 467.5,484.9 468,484.2 468.5,483.2 469,484.2 469.5,484.7 470,484.6 470.5,484.7 471,484.6 471.5,484.4 472,484.1 472.5,484.1 473,484.1 473.5,484.4 474,484.7 474.5,485 475.5,485 475.7,485" fill="#000000"/>
<polygon points="477.3,485 477.3,485 477.8,484.9 478.3,484.3 478.8,484.2 479.3,484.5 479.8,484.4 480.3,484.7 480.8,484.3 481.3,484.7 481.8,484.8 483.8,484.8 484.3,484.7 484.8,484.6 485.3,484.6 485.8,484.7 486.3,484.3 486.8,484.3 487.3,484.2 487.8,484.2 488.3,484.4 488.8,484.8 489.3,484.8 489.8,484.7 490.3,484.7 490.8,484.9 493.8,484.9 494.3,484.6 494.8,484.9 498.3,484.8 498.8,484.7 499.3,484.7 499.8,484.9 500.3,484.7 500.8,484.9 506.8,485 507.3,484.7 507.8,484.3 508.3,484.4 508.8,484.8 509.3,484.8 509.8,484.7 510.3,484.7 510.8,484.4 511.3,484.9 513.8,484.8 514.3,484.7 514.8,484.7 515.3,484.6 515.8,484.4 516.3,484.5 516.8,484.7 517.3,484.8 517.8,484.6 518.3,484.6 518.8,484.3 519.3,484.6 519.8,484.8 520.3,484.9 525.8,485 526.3,484.6 526.8,484.7 527.3,484.7 527.8,484.9 530.8,484.9 531.3,484.7 531.8,484.4 532.3,484.5 532.8,484.4 533.3,484.9 533.8,484.8 534.3,484.6 534.8,484.1 535.3,484.1 535.8,484 536.3,483.9 536.8,483.9 537.3,484 537.8,484.5 538.3,484.8 538.8,484.8 540.3,484.8 540.8,484.7 541.3,484.5 541.8,484.4 542.3,484.5 542.8,484.8 543.3,484.8 543.8,484.4 544.3,484.5 544.8,484.6 545.3,484.8 545.8,484.8 546.3,484.5 546.8,485 547.3,484.6 547.8,484.6 548.3,485 549.3,485 549.8,484.5 550.3,485 552.3,485 552.5,485" fill="#000000"/>
<polygon points="554.1,485 554.1,485 557.1,484.9 557.6,484.8 558.1,484.5 558.6,484.2 559.1,484.2 559.6,484.3 560.1,484.7 560.6,484.8 563.1,485 563.6,484.5 564.1,485 564.6,485 565.1,484.7 565.6,485 568.1,484.9 568.6,484.7 569.1,484.6 569.6,484.8 570.1,484.8 570.6,484.7 571.1,484.3 571.6,484.7 572.1,484.8 572.6,484.5 573.1,484.3 573.6,484.7 574.1,484.9 576.1,484.9 576.6,484.7 577.1,484.8 577.6,484.8 578.1,484.9 578.6,485 579.1,484.8 579.6,485 582.1,484.9 582.6,484.8 583.1,484.6 583.6,484.4 584.1,484.3 584.6,484.5 585.1,484.6 585.6,484.6 586.1,484.7 586.6,484.8 589.6,484.9 590.1,484.7 590.6,484.9 591.1,484.7 591.6,484.9 592.6,484.9 593.1,484.7 593.6,484.4 594.1,484.4 594.6,484.5 595.1,484.2 595.6,484.3 596.1,484.2 596.6,484.1 597.1,484.4 597.6,484.6 598.1,484.7 598.6,484.5 599.1,484.5 599.6,484.4 600.1,484.8 600.6,484.8 601.1,484.6 601.6,484.4 602.1,484.2 602.6,484.4 603.1,484.5 603.6,484.9 605.1,484.8 605.6,484.7 606.1,484.6 606.6,484.6 607.1,484.6 607.6,484.5 608.1,484.4 608.6,484.5 609.1,484.7 609.6,484.7 610.1,484.4 610.6,483.9 611.1,484.2 611.6,484.3 612.1,484.7 612.6,484.9 613.1,484.9 613.6,484.7 614.1,484.6 614.6,484.5 615.1,483.9 615.6,484.1 616.1,484.2 616.6,484.4 617.1,484.6 617.6,484.4 618.1,484.4 618.6,483.8 619.1,483.1 619.6,483.1 620.1,483.6 620.6,484.2 621.1,484.6 621.6,484.3 622.1,484.7 622.6,484.8 623.1,484.8 623.6,484.8 624.1,484.7 624.6,484.5 625.1,484.5 625.6,484.6 626.1,484.8 626.6,484.9 627.1,484.9 627.6,484.6 628.1,485 628.6,485 628.7,485" fill="#000000"/>
<polygon points="630.3,485 630.3,484.9 630.8,484.6 631.3,484.9 631.8,484.7 632.3,484.3 632.8,483.7 633.3,483.3 633.8,483.5 634.3,483.9 634.8,484.3 635.3,484.6 635.8,484.6 636.3,484.3 636.8,483.8 637.3,483.6 637.8,483.9 638.3,484 638.8,484 639.3,484.7 639.8,484.9 641.8,484.9 642.3,484.6 642.8,484.9 643.8,484.9 644.3,484.8 644.8,484.6 645.3,484.7 645.8,484.8 646.3,484.9 646.8,484.8 647.3,484.5 647.8,484.2 648.3,484.2 648.8,484.1 649.3,483.9 649.8,484.5 650.3,484.4 650.8,484.5 651.3,484.4 651.8,484.5 652.3,484.4 652.8,484 653.3,484.3 653.8,484.5 654.3,484.7 654.8,484.9 655.3,484.5 655.8,485 656.8,484.9 657.3,484.8 657.8,484.8 658.3,484.6 658.8,484.3 659.3,483.7 659.8,484.1 660.3,484.2 660.8,484.5 661.3,484.7 661.8,484.9 662.8,484.9 663.3,484.7 663.8,484.5 664.3,484.2 664.8,484 665.3,484.3 665.8,484.6 666.3,484.4 666.8,483.8 667.3,483.7 667.8,484 668.3,484.2 668.8,484.4 669.3,484.3 669.8,484.1 670.3,484 670.8,483.9 671.3,483.7 671.8,484.2 672.3,484.5 672.8,484.3 673.3,484.5 673.8,484.1 674.3,484 674.8,484.1 675.3,484.3 675.8,484.5 676.3,484.7 676.8,484.4 677.3,484.7 677.8,484.6 678.3,484.6 678.8,484.8 679.3,484.7 679.8,484.6 680.3,484.4 680.8,484.2 681.3,484.3 681.8,483.9 682.3,484 682.8,484.5 683.3,484.4 683.8,484.9 684.3,484.2 684.8,484.4 685.3,484 685.8,484.1 686.3,484.6 686.8,484.9 688.3,484.9 688.8,484.6 689.3,484.1 689.8,483.5 690.3,483.3 690.8,483 691.3,482.7 691.8,483.5 692.3,484 692.8,484.3 693.3,484.2 693.8,484.4 694.3,484.2 694.8,484.2 695.3,484.3 695.8,484.2 696.3,484.5 696.8,484.3 697.3,484.4 697.8,484.2 698.3,484.6 698.8,484.2 699.3,483.8 699.8,484 700.3,484.2 700.8,484.5 701.3,484.8 704.3,485 704.5,485" fill="#000000"/>
<line x1="95.6" y1="503.2" x2="705.3" y2="503.2" stroke="#d7a8ee" stroke-width="0.9"/>
<polygon points="96.4,503.2 96.4,503.2 103.4,503.1 103.9,502.9 104.4,503.2 104.9,503.2 105.4,502.9 105.9,503.1 107.9,503 108.4,502.8 108.9,502.1 109.4,502.1 109.9,501.6 110.4,502 110.9,502.3 111.4,502.4 111.9,503 112.4,503 113.4,503.1 113.9,502.7 114.4,502.9 114.9,502.7 115.4,502.5 115.9,502.3 116.4,502.4 116.9,502.5 117.4,502.5 117.9,502.6 118.4,503.1 119.9,503.2 120.4,502.8 120.9,503.1 122.4,503.2 122.9,503 123.4,503.2 125.9,503.1 126.4,503 126.9,502.9 127.4,502.6 127.9,502.4 128.4,501.7 128.9,501.8 129.4,501.7 129.9,502.3 130.4,502.5 130.9,502.7 131.4,502.7 131.9,502.1 132.4,502.3 132.9,502.1 133.4,501.8 133.9,502.2 134.4,502.8 134.9,502.6 135.4,503.1 136.4,503.1 136.9,502.8 137.4,503.1 144.4,503.1 144.9,502.8 145.4,503.1 145.9,503 146.4,503.1 147.4,503.2 147.9,503 148.4,503.1 149.9,503.1 150.4,502.9 150.9,503.2 151.4,503.1 151.9,503 152.4,503.2 155.4,503.1 155.9,502.9 156.4,503.1 158.9,503.2 159.4,502.9 159.9,503.2 163.9,503.2 164.4,502.8 164.9,503.2 169.9,503.2 170.4,502.8 170.5,503.2" fill="#9b40c4"/>
<polygon points="172.1,503.2 172.1,502.4 172.6,502.9 173.1,503.1 173.6,503.2 174.1,502.9 174.6,503.1 175.6,503.1 176.1,502.7 176.6,503.1 177.1,503 177.6,502.8 178.1,502.8 178.6,502.9 179.1,502.8 179.6,503 180.1,503.2 182.6,503.1 183.1,502.8 183.6,502.6 184.1,502.6 184.6,502.7 185.1,503 185.6,503.1 186.1,502.9 186.6,503.2 188.6,503.1 189.1,503 189.6,502.8 190.1,502.7 190.6,502.8 191.1,502.8 191.6,502.7 192.1,503 192.6,503 193.1,502.9 193.6,503 194.1,503.1 195.1,503.1 195.6,502.9 196.1,503.1 196.6,503.2 197.1,502.7 197.6,503 198.1,503.1 204.6,503.1 205.1,502.9 205.6,503.2 206.1,503 206.6,503.1 207.6,503.2 208.1,503 208.6,503.2 217.1,503.2 217.6,502.8 218.1,503.1 219.1,503.2 219.6,502.7 220.1,503.2 226.6,503 227.1,502.9 227.6,502.6 228.1,502.6 228.6,502.6 229.1,502.9 229.6,503.1 230.6,503.1 231.1,502.9 231.6,503.1 234.6,503.1 235.1,503 235.6,503.2 236.1,503.2 236.6,502.9 237.1,503 237.6,502.9 238.1,502.4 238.6,502.8 239.1,502.6 239.6,502.8 240.1,503 240.6,503.1 241.6,503.1 242.1,502.8 242.6,503.2 246.6,503.2 246.9,503.2" fill="#9b40c4"/>
<polygon points="248.5,503.2 248.5,503.2 249,502.8 249.5,502.9 250,503.2 250.5,503.1 251,502.9 251.5,503.2 254,503.2 254.5,502.9 255,502.9 255.5,503.1 258.5,503.1 259,503 259.5,503.2 267.5,503 268,502.8 268.5,503.2 269,502.8 269.5,503.1 270,503.1 270.5,502.5 271,502.8 271.5,502.7 272,503 273.5,503.1 274,503 274.5,503 276,503.1 276.5,503 277,502.9 277.5,502.9 278,502.9 278.5,502.8 279,502.6 279.5,502.8 280,502.9 280.5,503.1 281.5,503.2 282,502.7 282.5,503.1 283,503.1 283.5,502.8 284,503.1 285.5,503.1 286,502.9 286.5,503.2 287,502.8 287.5,503.2 293.5,503.2 294,503 294.5,502.8 295,502.6 295.5,502.9 296,502.8 296.5,503.1 301.5,503.1 302,503 302.5,503 303,502.8 303.5,502.7 304,502.9 304.5,503.1 305.5,503.1 306,502.7 306.5,503.1 309.5,503.2 310,503 310.5,503.1 311,503 311.5,502.8 312,502.8 312.5,502.9 313,503 313.5,503.1 314,502.9 314.5,503 315,502.9 315.5,503 318.5,503.1 319,503 319.5,502.8 320,502.5 320.5,502.7 321,503 322,503.2 322.5,502.9 323,503.1 323.2,503.2" fill="#9b40c4"/>
<polygon points="324.8,503.2 324.8,503.1 325.3,503.1 325.8,502.9 326.3,502.4 326.8,502.3 327.3,502.4 327.8,502.7 328.3,502.9 328.8,503.1 330.3,503.2 330.8,502.7 331.3,503.1 331.8,503 332.3,502.6 332.8,502.5 333.3,502.7 333.8,502.8 334.3,502.8 334.8,502.3 335.3,502.2 335.8,502.2 336.3,502.1 336.8,502 337.3,502.2 337.8,502.6 338.3,502.7 338.8,502.5 339.3,502 339.8,502 340.3,502.2 340.8,502.5 341.3,503 341.8,502.9 342.3,502.5 342.8,502.2 343.3,502.1 343.8,502.2 344.3,502.2 344.8,502.7 345.3,502.4 345.8,502.4 346.3,502.3 346.8,502.4 347.3,502.7 347.8,503 350.3,503.1 350.8,503 351.3,502.7 351.8,502.4 352.3,501.8 352.8,502.2 353.3,502.4 353.8,502.8 354.3,503 357.3,503.1 357.8,503 358.3,503.1 358.8,502.8 359.3,502.8 359.8,502.5 360.3,502.5 360.8,502.6 361.3,502.5 361.8,502.4 362.3,502.4 362.8,502.7 363.3,502.8 363.8,502.4 364.3,502.7 364.8,502.7 365.3,502.5 365.8,501.9 366.3,501.9 366.8,502.2 367.3,502.4 367.8,502.8 368.3,503 368.8,502.9 369.3,503.1 369.8,503 370.3,502.8 370.8,502.7 371.3,502.8 371.8,502.5 372.3,502.4 372.8,503 373.3,502.7 373.8,502.9 374.3,502.9 374.8,503 375.3,503.1 378.3,503 378.8,503 379.3,502.9 379.8,502.6 380.3,502.7 380.8,502.9 381.3,503 382.3,503 382.8,502.7 383.3,502.9 383.8,502.6 384.3,502.4 384.8,502.3 385.3,502.4 385.8,502.4 386.3,502.7 386.8,503 387.3,503.1 387.8,503.2 388.3,502.7 388.8,503.2 389.3,503.1 389.8,502.9 390.3,502.9 390.8,502.8 391.3,503.1 391.8,502.9 392.3,503.1 393.8,503.1 394.3,502.6 394.8,502.1 395.3,502.5 395.8,502.9 396.3,503.1 396.8,502.8 397.3,503.2 399.3,503.2 399.4,503.2" fill="#9b40c4"/>
<polygon points="401,503.2 401,503.1 401.5,503.2 402,503 402.5,503.2 404,503.1 404.5,502.8 405,503.1 407,503.1 407.5,502.8 408,503.2 408.5,503 409,503.1 409.5,502.8 410,502.7 410.5,502.8 411,503 411.5,502.7 412,503.2 413,503.2 413.5,502.9 414,503.2 415,503.1 415.5,502.8 416,502.8 416.5,503.1 422,503.1 422.5,503 423,503.1 425,503.2 425.5,502.7 426,503.2 429.5,503.2 430,502.8 430.5,503.1 431.5,503.2 432,502.9 432.5,503.1 436.5,503 437,503 437.5,503 438,503 438.5,502.9 439,502.9 439.5,503 440,503 440.5,503.1 441,503.1 441.5,502.9 442,503.1 444.5,503 445,502.9 445.5,502.5 446,502.9 446.5,502.8 447,502.7 447.5,503 448,503 449.5,503.1 450,502.8 450.5,503.1 451.5,503.1 452,502.9 452.5,503.2 453,503.1 453.5,502.8 454,503.1 459.5,503.2 460,502.8 460.5,503.1 461,502.9 461.5,503.2 464.5,503.1 465,502.9 465.5,503.1 469,503.2 469.5,503 470,503.1 470.5,502.8 471,503 471.5,502.5 472,502.9 472.5,502.6 473,503 475.5,503.1 475.7,503.2" fill="#9b40c4"/>
<polygon points="477.3,503.2 477.3,503.2 483.3,503 483.8,502.9 484.3,503 484.8,503 487.3,503.1 487.8,503 488.3,503 491.3,503.1 491.8,502.8 492.3,503.1 493.3,503.2 493.8,502.9 494.3,503.1 495.3,503 495.8,502.8 496.3,503.2 496.8,503.1 497.3,502.6 497.8,502.9 498.3,502.5 498.8,503.1 499.8,503.1 500.3,502.9 500.8,503.2 501.8,503.1 502.3,502.7 502.8,502.7 503.3,503.2 509.3,503 509.8,503 510.3,502.9 510.8,502.8 511.3,502.9 511.8,503.1 512.3,502.8 512.8,503.2 515.8,503.1 516.3,502.9 516.8,503.1 518.3,503.1 518.8,502.7 519.3,503.2 519.8,502.9 520.3,503.2 521.8,503.1 522.3,503 522.8,503.2 526.3,503.1 526.8,503 527.3,502.9 527.8,503 528.8,503.1 529.3,502.8 529.8,503.1 530.8,503 531.3,502.9 531.8,502.5 532.3,502.2 532.8,501.5 533.3,502 533.8,502.3 534.3,502.7 534.8,502.8 535.3,503 535.8,502.8 536.3,503.1 536.8,503 537.3,502.9 537.8,503 538.3,502.9 538.8,502.8 539.3,502.8 539.8,502.8 540.3,502.9 540.8,503.1 543.8,503.2 544.3,502.9 544.8,503.1 545.3,502.8 545.8,503 546.3,503.1 547.3,503.1 547.8,503 548.3,503.1 548.8,502.7 549.3,503.1 549.8,502.9 550.3,503 550.8,503 551.3,503.1 551.8,503 552.3,503.2 552.5,503.2" fill="#9b40c4"/>
<polygon points="554.1,503.2 554.1,503.1 556.6,503.2 557.1,503 557.6,503.1 559.1,503.2 559.6,502.7 560.1,503 562.1,503 562.6,502.9 563.1,502.8 563.6,502.7 564.1,503 569.1,503 569.6,503 570.1,503 570.6,502.7 571.1,503.1 578.6,503 579.1,503 579.6,503.1 581.1,503.2 581.6,503 582.1,503.2 585.1,503 585.6,502.9 586.1,503.2 594.6,503.2 595.1,502.7 595.6,503.1 597.6,503.2 598.1,502.9 598.6,503.1 599.1,503.1 599.6,502.6 600.1,503 600.6,503.1 601.1,502.8 601.6,502.9 602.1,503.1 608.1,503.2 608.6,503 609.1,503 609.6,502.7 610.1,502.7 610.6,502.8 611.1,502.8 611.6,503.2 615.1,503.2 615.6,502.8 616.1,503.2 619.1,503.1 619.6,503 620.1,502.9 620.6,503 624.6,503 625.1,502.9 625.6,503 626.1,503.1 628.6,503.1 628.7,503.2" fill="#9b40c4"/>
<polygon points="630.3,503.2 630.3,502.9 630.8,502.4 631.3,502.3 631.8,502.2 632.3,502.7 632.8,503 633.3,502.9 633.8,502.8 634.3,502.9 634.8,503 636.8,503.1 637.3,502.9 637.8,502.7 638.3,502.7 638.8,502.9 639.3,502.9 639.8,502.9 640.3,503 640.8,503 642.3,503.2 642.8,502.9 643.3,503.2 647.3,503.1 647.8,502.8 648.3,503.1 648.8,503 649.3,502.8 649.8,502.7 650.3,502.8 650.8,502.9 651.3,503 652.3,503 652.8,502.9 653.3,502.9 653.8,503.1 656.3,503.1 656.8,502.7 657.3,503.1 658.3,503.1 658.8,502.8 659.3,502.7 659.8,502.5 660.3,502.4 660.8,502.1 661.3,502.5 661.8,502.9 662.3,503.1 665.3,503.1 665.8,502.8 666.3,503.2 667.8,503 668.3,502.4 668.8,502.6 669.3,502.6 669.8,502.6 670.3,502.8 670.8,503.2 673.3,503.2 673.8,502.8 674.3,503.1 674.8,503.1 675.3,502.8 675.8,502.6 676.3,502.2 676.8,502.9 677.3,503.1 677.8,502.6 678.3,502.9 678.8,502.4 679.3,502.7 679.8,503 680.3,503.1 680.8,503.1 681.3,502.9 681.8,502.7 682.3,502.7 682.8,503 683.3,503.1 683.8,503.1 684.3,503 684.8,502.8 685.3,502.8 685.8,503 686.8,503 687.3,502.8 687.8,502.5 688.3,502.3 688.8,502.4 689.3,502.7 689.8,502.9 690.3,502.9 690.8,502.8 691.3,502.5 691.8,503.1 692.8,503.1 693.3,502.7 693.8,503.2 694.3,503 694.8,503.1 695.8,503.1 696.3,502.9 696.8,502.5 697.3,502.5 697.8,502.9 698.3,502.8 698.8,503.1 701.3,503.2 701.8,502.7 702.3,503.1 704.3,503.1 704.5,503.2" fill="#9b40c4"/>
<line x1="95.6" y1="521.4" x2="705.3" y2="521.4" stroke="#a9b9ef" stroke-width="0.9"/>
<polygon points="96.4,521.4 96.4,521 96.9,521.4 97.4,521.4 97.9,521 98.4,521.3 101.4,521.3 101.9,521 102.4,521.4 109.4,521.4 109.9,521 110.4,521.4 113.9,521.3 114.4,520.8 114.9,521 115.4,520.8 115.9,520.3 116.4,519.9 116.9,519.5 117.4,519.9 117.9,520.1 118.4,520.4 118.9,520.4 119.4,520.2 119.9,519.8 120.4,519.4 120.9,519.1 121.4,519.1 121.9,519.7 122.4,520.2 122.9,520.5 123.4,520.7 123.9,520.6 124.4,520.3 124.9,520 125.4,520.3 125.9,520.5 126.4,520.9 126.9,521.2 127.4,521.3 131.9,521.4 132.4,521.2 132.9,521.3 137.4,521.4 137.9,521.2 138.4,521.4 141.9,521.3 142.4,521.2 142.9,521.3 150.9,521.3 151.4,521.1 151.9,521.4 152.4,521.4 152.9,521.2 153.4,521.4 156.4,521.4 156.9,521.1 157.4,521.2 160.9,521.2 161.4,521.1 161.9,521.4 162.9,521.3 163.4,521.1 163.9,521.4 164.9,521.3 165.4,521 165.9,521.4 170.4,521.4 170.5,521.4" fill="#1f3fbf"/>
<polygon points="172.1,521.4 172.1,521.3 173.6,521.4 174.1,521 174.6,521.3 175.6,521.3 176.1,520.9 176.6,521.1 177.1,520.9 177.6,521.1 178.1,521.4 179.1,521.3 179.6,521.1 180.1,521.4 180.6,520.9 181.1,521.3 181.6,521.1 182.1,520.9 182.6,521 183.1,520.8 183.6,521.2 184.1,521.4 186.1,521.4 186.6,521.2 187.1,521.3 188.1,521.3 188.6,521.1 189.1,521.4 190.6,521.3 191.1,521.1 191.6,521.4 192.1,520.9 192.6,521.3 197.1,521.3 197.6,521.1 198.1,521.4 199.1,521.2 199.6,521.1 200.1,521.3 203.1,521.3 203.6,520.9 204.1,521.3 205.6,521.4 206.1,521.1 206.6,521.4 207.6,521.3 208.1,521.1 208.6,521.3 209.1,521.2 209.6,521.4 212.1,521.3 212.6,520.9 213.1,520.8 213.6,521.1 214.1,521.2 214.6,521.1 215.1,521.1 215.6,521 216.1,520.9 216.6,521.1 217.1,521.2 219.1,521.3 219.6,521 220.1,521.3 220.6,521.3 221.1,521.2 221.6,520.5 222.1,520.2 222.6,520.4 223.1,521.3 223.6,521 224.1,521.4 225.1,521.4 225.6,521 226.1,521.4 227.1,521.3 227.6,521.2 228.1,521 228.6,521.2 231.1,521.4 231.6,521.2 232.1,521.4 232.6,521.2 233.1,521.3 237.6,521.4 238.1,521 238.6,521.4 240.1,521.3 240.6,521 241.1,521.1 241.6,521.4 242.6,521.4 243.1,521.2 243.6,521.3 246.6,521.3 246.9,521.4" fill="#1f3fbf"/>
<polygon points="248.5,521.4 248.5,521 249,520.8 249.5,520.7 250,520.9 250.5,521.1 251,521.3 255.5,521.3 256,521.1 256.5,521.3 257.5,521.3 258,521.1 258.5,521.4 261,521.3 261.5,521.1 262,521.1 262.5,521.2 263,521.2 263.5,521.3 264,521.1 264.5,521.3 267,521.4 267.5,521 268,521.3 269.5,521.4 270,521.1 270.5,521.3 271.5,521.2 272,521.2 272.5,521.1 273,521.3 274,521.4 274.5,521.1 275,521.4 278.5,521.4 279,520.9 279.5,521.3 280.5,521.2 281,521.2 281.5,521.2 282,521.3 286,521.4 286.5,521 287,521.3 297.5,521.3 298,521.2 298.5,520.9 299,521.3 299.5,521.3 300,520.9 300.5,521.4 310,521.3 310.5,521.2 311,521.3 311.5,521.3 312,521.1 312.5,521.2 313,521.3 316,521.3 316.5,521.1 317,521.3 318,521.3 318.5,521.2 319,521.3 322.5,521.3 323,521.1 323.2,521.4" fill="#1f3fbf"/>
<polygon points="324.8,521.4 324.8,521.1 325.3,520.9 325.8,520.5 326.3,520.6 326.8,521.1 327.3,521.1 327.8,520.5 328.3,520.5 328.8,520.8 329.3,520.8 329.8,520.9 330.3,521 330.8,521.2 331.3,521.2 331.8,520.8 332.3,521 332.8,521.1 333.3,521.1 333.8,520.7 334.3,520.6 334.8,520.2 335.3,520.1 335.8,520 336.3,520.2 336.8,520.2 337.3,520.6 337.8,521.1 338.3,521.3 339.8,521.2 340.3,521.1 340.8,521 341.3,521 341.8,521.1 342.3,521.3 343.8,521.3 344.3,520.9 344.8,521 345.3,521.3 345.8,521.4 346.3,521 346.8,521.2 347.8,521.3 348.3,521.1 348.8,520.9 349.3,520.7 349.8,520.6 350.3,520.6 350.8,520.8 351.3,520.5 351.8,520.9 352.3,520.5 352.8,520.8 353.3,520.4 353.8,520.9 354.3,521.1 354.8,521.3 355.3,521.2 355.8,521 356.3,520.9 356.8,521.2 360.3,521.3 360.8,521 361.3,521.3 362.8,521.3 363.3,521.2 363.8,520.9 364.3,520.9 364.8,520.8 365.3,521.1 365.8,520.8 366.3,520.6 366.8,520.9 367.3,520.9 367.8,521 368.3,521 368.8,520.9 369.3,521 369.8,521.1 370.3,521 370.8,520.8 371.3,520.7 371.8,520.9 372.3,520.9 372.8,520.5 373.3,520.2 373.8,521 374.3,521.2 374.8,521 375.3,520.9 375.8,521 376.3,521.1 376.8,521.2 377.3,521 377.8,521.2 378.3,520.9 378.8,520.8 379.3,520.7 379.8,520.7 380.3,520.9 380.8,521.1 381.3,520.8 381.8,520.5 382.3,520.5 382.8,520.5 383.3,520.7 383.8,520.9 384.3,521 384.8,521.1 385.3,521.1 385.8,521.2 386.3,521.2 388.3,521.3 388.8,521.1 389.3,521.1 389.8,521 390.3,520.9 390.8,520.4 391.3,520.7 391.8,520.9 392.3,521.2 392.8,521.3 393.3,521.1 393.8,520.7 394.3,520.8 394.8,521.2 395.3,521.3 395.8,521.1 396.3,521.4 396.8,521.3 397.3,521.1 397.8,521.4 398.3,521.3 398.8,520.9 399.3,521.4 399.4,521.4" fill="#1f3fbf"/>
<polygon points="401,521.4 401,521.4 403,521.4 403.5,521.1 404,521.3 407.5,521.4 408,521 408.5,521.2 409,521.3 412,521.4 412.5,521.2 413,521.4 415,521.4 415.5,521 416,521.1 416.5,521.2 417,520.9 417.5,521.1 418,521.3 418.5,521.1 419,520.9 419.5,521.1 420,521.3 425.5,521.3 426,521 426.5,521.1 427,520.9 427.5,521 428,521.2 429,521.3 429.5,521.2 430,521.1 430.5,521.2 431,521.2 431.5,521.1 432,521.4 436,521.3 436.5,521.1 437,521.3 438,521.2 438.5,521 439,520.7 439.5,521 440,521.3 441,521.3 441.5,520.9 442,521.3 447,521.4 447.5,521.1 448,521.4 450.5,521.4 451,521 451.5,521.3 453,521.3 453.5,521.2 454,521.3 454.5,521.2 455,521.3 455.5,521.1 456,520.9 456.5,521.1 457,521.2 457.5,521.3 467,521.3 467.5,521.1 468,520.3 468.5,519.5 469,520.4 469.5,521.1 470,521.3 475.5,521.3 475.7,521.4" fill="#1f3fbf"/>
<polygon points="477.3,521.4 477.3,521 477.8,521.3 478.3,521 478.8,521.3 479.3,521.3 479.8,521.2 480.3,521.2 480.8,520.9 481.3,521.2 485.8,521.3 486.3,521.1 486.8,521.1 487.3,521.1 487.8,521.1 488.3,521.2 490.8,521.4 491.3,520.9 491.8,521.1 492.3,521.4 492.8,521.3 493.3,521 493.8,521.3 494.3,521.3 494.8,520.8 495.3,521.1 495.8,521.3 498.8,521.4 499.3,521 499.8,521.3 500.8,521.3 501.3,521 501.8,521.4 502.8,521.4 503.3,521.2 503.8,521.3 504.3,521.3 504.8,521 505.3,521.3 507.8,521.4 508.3,521.1 508.8,521.3 511.8,521.3 512.3,521 512.8,521.2 513.3,521.1 513.8,520.9 514.3,520.7 514.8,521.2 516.3,521.3 516.8,521 517.3,521 517.8,521 518.3,521 518.8,521.3 520.8,521.4 521.3,520.9 521.8,521 522.3,521.3 525.8,521.3 526.3,520.9 526.8,521 527.3,521.1 527.8,521 528.3,521 528.8,521.1 529.3,521.2 529.8,521.1 530.3,521 530.8,521.3 532.8,521.4 533.3,521.1 533.8,521.3 534.3,521 534.8,521.3 535.3,521.3 535.8,521 536.3,521.3 536.8,521.1 537.3,521.3 539.8,521.3 540.3,521.1 540.8,521.3 542.3,521.4 542.8,521 543.3,521.3 543.8,521.3 544.3,521.2 544.8,521.1 545.3,521 545.8,521.2 548.8,521.3 549.3,521.2 549.8,521.3 551.8,521.4 552.3,520.9 552.5,521.4" fill="#1f3fbf"/>
<polygon points="554.1,521.4 554.1,521.3 555.1,521.3 555.6,521.2 556.1,521.1 556.6,521.2 557.1,521.2 557.6,521.3 558.6,521.4 559.1,521.2 559.6,521.4 560.1,521.4 560.6,521.1 561.1,521.4 562.6,521.3 563.1,521.1 563.6,521.2 564.1,521.4 567.1,521.4 567.6,521.1 568.1,521.3 575.1,521.3 575.6,520.9 576.1,521.4 578.6,521.4 579.1,521 579.6,521 580.1,521.3 580.6,521.3 581.1,520.9 581.6,521 582.1,521.4 585.1,521.4 585.6,521.1 586.1,521.4 587.6,521.4 588.1,521.2 588.6,521 589.1,521.4 589.6,521.2 590.1,521.4 593.6,521.4 594.1,521.2 594.6,521.3 595.1,521.4 595.6,521.1 596.1,521.3 597.1,521.3 597.6,521 598.1,521.3 599.1,521.3 599.6,521 600.1,521.3 601.1,521.4 601.6,520.9 602.1,521.3 602.6,521.2 603.1,521.3 603.6,521.2 604.1,521.2 604.6,521.2 605.1,521.3 605.6,521.1 606.1,521 606.6,521 607.1,521.3 610.6,521.4 611.1,521 611.6,521.3 612.1,521.1 612.6,521.3 613.1,521 613.6,521.4 614.1,521.1 614.6,521.3 615.1,521.3 615.6,521.2 616.1,521.1 616.6,521.2 620.6,521.4 621.1,521.2 621.6,521.3 624.6,521.4 625.1,520.9 625.6,521.4 626.1,521.1 626.6,521.3 628.6,521.4 628.7,521.4" fill="#1f3fbf"/>
<polygon points="630.3,521.4 630.3,521.4 630.8,521.1 631.3,521.2 631.8,520.6 632.3,519.7 632.8,519.5 633.3,520.9 633.8,521.3 634.3,521.1 634.8,521.4 635.3,521.2 635.8,521.1 636.3,521 636.8,520.5 637.3,520.7 637.8,521 638.3,521.1 638.8,521.2 639.3,521.3 639.8,520.8 640.3,520.7 640.8,520.9 641.3,520.8 641.8,520.9 642.3,520.8 642.8,520.8 643.3,521.2 643.8,521.2 644.3,521.2 647.3,521.2 647.8,520.9 648.3,520.9 648.8,521.2 649.3,521.4 649.8,521 650.3,521.4 651.8,521.3 652.3,521.1 652.8,521.3 653.3,521.1 653.8,520.9 654.3,520.7 654.8,520.6 655.3,520.6 655.8,520.8 656.3,521.2 656.8,521.3 657.8,521.4 658.3,521.2 658.8,521.4 659.8,521.3 660.3,521 660.8,521.4 661.8,521.3 662.3,521.1 662.8,521.3 665.8,521.4 666.3,521.1 666.8,521.4 667.3,521.3 667.8,520.9 668.3,521.1 668.8,521.4 669.8,521.3 670.3,521.1 670.8,521.3 671.3,521.2 671.8,521.1 672.3,521 672.8,521 673.3,520.9 673.8,520.9 674.3,521.1 674.8,521.1 675.3,521.3 675.8,521.1 676.3,521.4 678.8,521.2 679.3,521.2 679.8,521 680.3,521 680.8,521 681.3,521.1 681.8,521.1 682.3,521 682.8,520.9 683.3,521 683.8,521.1 684.3,521.2 684.8,521.2 685.3,520.6 685.8,520.9 686.3,520.8 686.8,521.1 687.3,521.3 688.3,521.3 688.8,521.2 689.3,520.9 689.8,520.7 690.3,520.8 690.8,520.8 691.3,521 691.8,520.8 692.3,520.5 692.8,520.2 693.3,520.1 693.8,520.2 694.3,520.2 694.8,520.7 695.3,521 695.8,520.8 696.3,521.2 696.8,521.2 698.8,521.3 699.3,521.1 699.8,521.3 700.3,521.1 700.8,521.2 701.3,520.9 701.8,520.8 702.3,520.9 702.8,521 703.3,520.9 703.8,521.3 704.3,521.1 704.5,521.4" fill="#1f3fbf"/>
<line x1="95.6" y1="540" x2="705.3" y2="540" stroke="#f5a5a5" stroke-width="0.9"/>
<polygon points="96.4,540 96.4,539.9 99.9,540 100.4,539.6 100.9,539.9 101.4,539.5 101.9,540 106.4,540 106.9,539.7 107.4,540 108.4,539.9 108.9,539.7 109.4,539.6 109.9,540 112.4,539.8 112.9,539.5 113.4,538.7 113.9,538.6 114.4,538.1 114.9,538.6 115.4,538.9 115.9,539.3 116.4,539.7 116.9,539.8 117.9,539.9 118.4,539.6 118.9,539.9 122.9,540 123.4,539.7 123.9,539.5 124.4,539.9 126.4,540 126.9,539.6 127.4,539.9 127.9,539.9 128.4,539.6 128.9,539.3 129.4,538.9 129.9,538.4 130.4,537.9 130.9,538.2 131.4,538.6 131.9,539.2 132.4,539.6 132.9,539.7 133.4,539.9 133.9,539.7 134.4,539.8 134.9,539.6 135.4,539.9 135.9,539.5 136.4,540 142.9,539.9 143.4,539.5 143.9,540 144.4,539.7 144.9,539.8 146.4,539.9 146.9,539.5 147.4,539.9 154.4,539.9 154.9,539.7 155.4,539.9 170.4,540 170.5,540" fill="#e8141b"/>
<polygon points="172.1,540 172.1,539.9 173.1,539.9 173.6,539.5 174.1,539.7 174.6,539.6 175.1,539.5 175.6,539.6 176.1,539.6 176.6,539.6 177.1,539.4 177.6,539.3 178.1,539.3 178.6,539.5 179.1,539.8 181.6,539.9 182.1,539.7 182.6,539.4 183.1,539.4 183.6,539.5 184.1,539.8 184.6,540 185.1,539.5 185.6,539.8 186.1,539.8 186.6,539.6 187.1,539.4 187.6,539.3 188.1,538.8 188.6,539.4 189.1,539.5 189.6,539.4 190.1,539.2 190.6,538.8 191.1,538.8 191.6,539.2 192.1,539.5 192.6,539.4 193.1,539.4 193.6,539.1 194.1,539.4 194.6,539.5 195.1,539.9 197.1,539.9 197.6,539.6 198.1,539.4 198.6,539.7 199.1,539.8 199.6,539.7 200.1,539.6 200.6,539.6 201.1,539.6 201.6,539.8 202.1,539.6 202.6,539.7 203.1,539.7 203.6,539.8 207.1,539.9 207.6,539.8 208.1,539.5 208.6,539.2 209.1,539.2 209.6,539.4 210.1,539.5 210.6,539.9 211.1,539.9 211.6,539.7 212.1,540 215.1,539.9 215.6,539.7 216.1,539.2 216.6,538.2 217.1,537.3 217.6,537.5 218.1,538 218.6,538.3 219.1,538.5 219.6,538.8 220.1,539 220.6,539.3 221.1,539.7 221.6,539.8 222.1,539.5 222.6,539.4 223.1,539.4 223.6,539.5 224.1,539.8 224.6,539.9 225.1,539.6 225.6,539.5 226.1,539.2 226.6,539.3 227.1,539.4 227.6,539.5 228.1,539.5 228.6,539.2 229.1,539.1 229.6,539.4 230.1,539.5 230.6,539.4 231.1,539.3 231.6,539.3 232.1,539.3 232.6,539.7 233.1,539.9 237.6,539.9 238.1,539.6 238.6,539.8 239.1,539.8 239.6,539.6 240.1,539.6 240.6,539.4 241.1,539.2 241.6,539.3 242.1,539 242.6,539.5 243.1,539.9 243.6,539.7 244.1,539.9 244.6,539.9 245.1,539.8 245.6,540 246.6,539.9 246.9,540" fill="#e8141b"/>
<polygon points="248.5,540 248.5,539.8 249,539.9 249.5,539.6 250,539.2 250.5,539.3 251,539.5 251.5,539.3 252,539 252.5,539.1 253,539.3 253.5,539.2 254,539.1 254.5,539.2 255,538.8 255.5,538.9 256,539 256.5,539.1 257,539.2 257.5,539.3 258,539.3 258.5,539.4 259,539.7 259.5,539.8 260,539.9 267.5,540 268,539.7 268.5,540 272,539.9 272.5,539.8 273,539.7 273.5,539.6 274,539.9 274.5,539.8 275,539.7 275.5,539.5 276,539.5 276.5,539.5 277,539.7 277.5,539.7 278,539.7 278.5,539.7 279,539.9 280,539.9 280.5,539.7 281,539.6 281.5,539.7 282,539.6 282.5,539.4 283,539.1 283.5,538.9 284,538.7 284.5,538.2 285,537.9 285.5,538.1 286,538.5 286.5,538.7 287,538.9 287.5,539.4 288,539.9 289,539.9 289.5,539.7 290,539.9 294,539.9 294.5,539.5 295,539.9 295.5,539.8 296,539.6 296.5,539.4 297,539.3 297.5,539.4 298,539.7 298.5,539.8 299,539.9 299.5,539.6 300,539.7 300.5,539.2 301,538.8 301.5,538.6 302,538.8 302.5,539 303,539.6 303.5,539.8 308.5,539.9 309,539.6 309.5,539.2 310,538.7 310.5,538.7 311,539 311.5,539.2 312,539.5 312.5,539.9 313.5,539.8 314,539.7 314.5,539.9 317,539.9 317.5,539.4 318,539.5 318.5,539.2 319,539.6 319.5,539.4 320,539.8 320.5,539.3 321,539.2 321.5,539.5 322,539.8 323,540 323.2,540" fill="#e8141b"/>
<polygon points="324.8,540 324.8,539.8 325.3,539.7 325.8,539.6 326.3,539.2 326.8,538.5 327.3,538.3 327.8,538.5 328.3,538.3 328.8,538.7 329.3,538.9 329.8,538.9 330.3,539 330.8,539.4 331.3,539.3 331.8,539.2 332.3,538.9 332.8,538.7 333.3,539 333.8,539.1 334.3,539.8 334.8,539.8 335.3,539.3 335.8,539.1 336.3,539.4 336.8,539.7 337.3,539.9 337.8,539.9 338.3,539.8 338.8,539.4 339.3,539.7 339.8,539.7 340.3,539.8 340.8,539.8 341.3,539.5 341.8,539.2 342.3,539 342.8,539.1 343.3,539.2 343.8,539.6 344.3,539.8 344.8,539.8 345.3,539.7 345.8,539.9 346.3,539.7 346.8,539.4 347.3,539.4 347.8,539.6 348.3,539.2 348.8,539.2 349.3,539.1 349.8,539.1 350.3,539.3 350.8,539.4 351.3,539.8 352.8,539.9 353.3,539.7 353.8,539.3 354.3,539.2 354.8,539.3 355.3,539 355.8,539.3 356.3,539.1 356.8,539.3 357.3,539.9 357.8,540 358.3,539.7 358.8,539.3 359.3,539.4 359.8,539.8 360.3,539.8 360.8,539.2 361.3,539.6 361.8,539.6 362.3,539.9 362.8,539.8 363.3,539.5 363.8,538.8 364.3,538.8 364.8,539.3 365.3,539.4 365.8,539.9 367.3,539.9 367.8,539.8 368.3,539.4 368.8,539.5 369.3,539.2 369.8,539.2 370.3,539.2 370.8,539.3 371.3,539 371.8,539.5 372.3,539.3 372.8,539 373.3,538.9 373.8,538.9 374.3,539 374.8,539.2 375.3,538.9 375.8,539.2 376.3,539.3 376.8,539.4 377.3,539.6 377.8,539.5 378.3,539.6 378.8,539.7 379.3,539.6 379.8,539.3 380.3,539 380.8,539.4 381.3,539.6 381.8,539.9 382.3,539.6 382.8,540 383.8,539.9 384.3,539.7 384.8,539.3 385.3,538.9 385.8,538.6 386.3,538.3 386.8,538.4 387.3,538.7 387.8,539.2 388.3,539.3 388.8,539.1 389.3,539.2 389.8,539.5 390.3,539.5 390.8,539.2 391.3,539.1 391.8,539 392.3,539.1 392.8,539.1 393.3,539 393.8,538.6 394.3,538.5 394.8,538.4 395.3,538.5 395.8,538.4 396.3,539.2 396.8,539.7 397.3,539.9 398.8,539.9 399.3,539.8 399.4,540" fill="#e8141b"/>
<polygon points="401,540 401,539.9 401.5,539.8 402,539.6 402.5,539.3 403,539.2 403.5,539.4 404,539.6 404.5,539.9 405,539.9 405.5,539.3 406,539.4 406.5,539.6 407,539.9 409,540 409.5,539.6 410,539.9 411,539.9 411.5,539.8 412,539.7 412.5,539.5 413,539.9 413.5,539.9 414,539.7 414.5,540 415.5,540 416,539.6 416.5,539.9 426.5,539.8 427,539.7 427.5,539.5 428,539.4 428.5,539.5 429,539.7 429.5,539.9 430.5,539.9 431,539.7 431.5,539.9 434.5,539.9 435,539.7 435.5,539.8 436,539.5 436.5,539.6 437,539.6 437.5,539.5 438,539.5 438.5,539.7 439,539.9 441,539.9 441.5,539.5 442,539.9 444,539.9 444.5,539.5 445,539.7 445.5,539.6 446,539.4 446.5,539.2 447,538.8 447.5,539.4 448,539.3 448.5,539.5 449,539.3 449.5,539.6 450,539.9 454,539.9 454.5,539.5 455,540 455.5,539.7 456,539.9 457,539.9 457.5,539.6 458,539.7 458.5,540 460.5,539.8 461,539.7 461.5,539.5 462,539.4 462.5,539.4 463,539.7 463.5,539.8 464.5,539.8 465,539.8 465.5,539.5 466,539.7 466.5,539.8 467,539.9 467.5,539.9 468,539.2 468.5,538.2 469,539.2 469.5,539.6 470,539.9 472,539.8 472.5,539.7 473,539.6 473.5,539.4 474,539.4 474.5,539.5 475,539.9 475.5,539.9 475.7,540" fill="#e8141b"/>
<polygon points="477.3,540 477.3,540 478.8,540 479.3,539.6 479.8,540 480.8,539.9 481.3,539.6 481.8,539.9 482.3,539.7 482.8,539.6 483.3,539.7 483.8,539.7 484.3,539.7 484.8,539.6 485.3,539.7 485.8,539.8 486.3,539.9 489.8,540 490.3,539.7 490.8,539.9 491.3,539.8 491.8,539.7 492.3,539.7 492.8,539.8 493.3,539.7 493.8,539.5 494.3,539.9 497.3,539.9 497.8,539.7 498.3,539.8 498.8,539.9 499.3,539.6 499.8,539.9 502.3,539.8 502.8,539.7 503.3,539.7 503.8,539.9 504.3,539.5 504.8,539.9 508.8,539.9 509.3,539.7 509.8,539.2 510.3,539.6 510.8,539.8 511.3,539.7 511.8,539.6 512.3,539.4 512.8,539.5 513.3,539.6 513.8,539.7 514.3,539.9 515.3,539.9 515.8,539.7 516.3,539.4 516.8,539.3 517.3,539.1 517.8,539.3 518.3,539.5 518.8,539.7 519.3,539.7 519.8,539.5 520.3,539.5 520.8,539.6 521.3,539.7 521.8,539.8 522.3,539.9 522.8,539.8 523.3,539.8 523.8,539.5 524.3,539.5 524.8,539.5 525.3,539.6 525.8,539.8 526.3,539.6 526.8,539.7 527.3,539.7 527.8,539.8 528.3,539.8 528.8,539.4 529.3,539.6 529.8,539.6 530.3,539.6 530.8,539.1 531.3,539.1 531.8,538.7 532.3,538.2 532.8,537.7 533.3,537.8 533.8,538.2 534.3,538.3 534.8,538.7 535.3,538.9 535.8,538.6 536.3,539.1 536.8,539.4 537.3,539.2 537.8,539.8 538.3,539.9 538.8,539.5 539.3,539.9 539.8,539.9 540.3,539.7 540.8,539.5 541.3,539.5 541.8,539.6 542.3,539.9 544.3,540 544.8,539.6 545.3,540 546.8,539.9 547.3,539.8 547.8,539.5 548.3,539.7 548.8,540 551.8,540 552.3,539.7 552.5,540" fill="#e8141b"/>
<polygon points="554.1,540 554.1,539.9 554.6,539.6 555.1,539.9 558.6,539.9 559.1,539.4 559.6,539.6 560.1,539.5 560.6,539.3 561.1,539.8 562.6,539.9 563.1,539.4 563.6,539.5 564.1,539.4 564.6,539.5 565.1,539.7 565.6,539.7 566.1,539.7 566.6,539.7 567.1,539.8 573.6,539.9 574.1,539.6 574.6,539.5 575.1,539.3 575.6,539.3 576.1,539.5 576.6,539.6 577.1,539.7 577.6,539.6 578.1,539.7 578.6,539.8 579.1,539.8 579.6,539.5 580.1,539.3 580.6,539.8 588.1,539.8 588.6,539.4 589.1,539 589.6,539.6 590.1,539.8 596.1,540 596.6,539.6 597.1,539.9 598.1,539.9 598.6,539.5 599.1,539.7 599.6,539.4 600.1,539.3 600.6,539.5 601.1,539.6 601.6,539.2 602.1,539.2 602.6,539.5 603.1,539.8 604.6,540 605.1,539.7 605.6,539.9 606.1,539.6 606.6,539.4 607.1,539.2 607.6,539.4 608.1,539.7 608.6,539.6 609.1,539.3 609.6,539.4 610.1,539.9 610.6,539.8 611.1,540 613.1,539.8 613.6,539.7 614.1,539.6 614.6,539.2 615.1,539.4 615.6,539.4 616.1,539.5 616.6,539.6 617.1,539.8 617.6,539.8 618.1,539.6 618.6,538.9 619.1,538 619.6,538.1 620.1,538.5 620.6,539.2 621.1,539.7 621.6,539.5 622.1,539.9 622.6,539.9 623.1,539.7 623.6,539.6 624.1,539.6 624.6,539.7 625.1,539.9 625.6,539.8 626.1,539.7 626.6,539.8 627.1,539.6 627.6,540 628.6,540 628.7,540" fill="#e8141b"/>
<polygon points="630.3,540 630.3,539.6 630.8,539.5 631.3,539.1 631.8,538 632.3,536.7 632.8,537.2 633.3,538.4 633.8,538.5 634.3,538.6 634.8,539 635.3,539.3 635.8,539.2 636.3,539.6 636.8,539.9 637.3,539.4 637.8,539.5 638.3,539.6 638.8,539.5 639.3,539.8 639.8,539.6 640.3,539.4 640.8,539.8 641.3,539.9 643.8,539.8 644.3,539.4 644.8,539.5 645.3,539.3 645.8,539.3 646.3,539.1 646.8,538.9 647.3,538.8 647.8,538.7 648.3,538.9 648.8,539.4 649.3,539.7 649.8,539.8 650.3,539.9 650.8,539.7 651.3,539.3 651.8,539 652.3,538.8 652.8,538.4 653.3,538.8 653.8,538.7 654.3,538.8 654.8,538.6 655.3,539.3 655.8,539.3 656.3,539.4 656.8,539 657.3,539.6 657.8,539.7 658.3,539.5 658.8,539.5 659.3,540 660.3,539.9 660.8,539.7 661.3,539.2 661.8,538.6 662.3,538.5 662.8,538.7 663.3,539 663.8,539.5 664.3,539.7 664.8,539.9 665.3,539.7 665.8,539.2 666.3,538.9 666.8,539.2 667.3,538.9 667.8,539.3 668.3,539.5 668.8,539.8 669.3,539.9 670.8,539.8 671.3,539.6 671.8,539.4 672.3,539.4 672.8,539.7 673.3,539.8 673.8,539.9 674.3,539.7 674.8,539.4 675.3,539.4 675.8,539.6 676.3,539.6 676.8,539.2 677.3,539.3 677.8,539.4 678.3,539.5 678.8,539.4 679.3,539.6 679.8,539.3 680.3,539.1 680.8,539.1 681.3,539.1 681.8,539.1 682.3,539.3 682.8,539.6 683.3,539.7 683.8,539.7 684.3,539.6 684.8,539.5 685.3,539.4 685.8,539.5 686.3,539.3 686.8,538.6 687.3,539 687.8,539.6 688.3,539.7 688.8,539.2 689.3,539.1 689.8,538.7 690.3,538.5 690.8,538.5 691.3,538.5 691.8,538.7 692.3,539.1 692.8,539.5 693.3,539.8 693.8,539.7 694.3,539 694.8,538.7 695.3,539.1 695.8,539.4 696.3,539.3 696.8,539.5 697.3,539.4 697.8,539.4 698.3,539.2 698.8,539.6 699.3,539.5 699.8,539.4 700.3,539.5 700.8,539.7 701.3,539.9 704.3,540 704.5,540" fill="#e8141b"/>
<line x1="95.6" y1="558.2" x2="705.3" y2="558.2" stroke="#f4c8a6" stroke-width="0.9"/>
<polygon points="96.4,558.2 96.4,557.8 96.9,558.1 99.4,558.1 99.9,557.9 100.4,557.9 100.9,558.1 115.4,558.2 115.9,557.9 116.4,558.1 116.9,558.1 117.4,557.9 117.9,557.8 118.4,557.6 118.9,557.2 119.4,557.6 119.9,557.7 120.4,557.9 120.9,558 127.9,558.1 128.4,557.7 128.9,558.1 129.4,558.2 129.9,557.7 130.4,558.2 130.9,558.1 131.4,557.8 131.9,558.2 133.9,558.1 134.4,558 134.9,558.1 155.9,558.1 156.4,558 156.9,557.9 157.4,557.7 157.9,557.6 158.4,557.4 158.9,557.9 159.4,557.9 159.9,558 163.4,558.1 163.9,558 164.4,558.1 164.9,558 165.4,558.2 170.4,558.1 170.5,558.2" fill="#e39a62"/>
<polygon points="172.1,558.2 172.1,558.1 172.6,558.2 173.1,557.8 173.6,558.1 176.6,558.1 177.1,557.9 177.6,558.2 178.1,558.1 178.6,557.8 179.1,558.2 181.1,558 181.6,557.8 182.1,557.7 182.6,557.9 183.1,558.1 183.6,558 184.1,558.1 188.6,558.1 189.1,557.7 189.6,558 190.1,558.2 195.1,558.2 195.6,557.9 196.1,557.8 196.6,558.1 197.1,557.8 197.6,558.1 198.1,557.9 198.6,557.6 199.1,557.2 199.6,557.7 200.1,558 200.6,558.1 206.1,558.1 206.6,557.7 207.1,558 207.6,557.9 208.1,558.2 208.6,558.2 209.1,558 209.6,557.9 210.1,558 210.6,558.1 215.1,558 215.6,557.9 216.1,557.9 216.6,557.8 217.1,558 217.6,558 218.1,558 218.6,558 219.1,558.1 222.6,558 223.1,557.9 223.6,558 229.6,558.1 230.1,558 230.6,557.8 231.1,557.6 231.6,557.9 232.1,558 232.6,558.1 235.1,558.1 235.6,557.7 236.1,557.6 236.6,557.3 237.1,557.6 237.6,557.7 238.1,557.8 238.6,558.1 239.1,558 239.6,558.2 241.6,558.1 242.1,557.8 242.6,557.6 243.1,557.2 243.6,557.6 244.1,557.8 244.6,558 245.1,558.1 246.6,558.2 246.9,558.2" fill="#e39a62"/>
<polygon points="248.5,558.2 248.5,558.2 251.5,558.1 252,558 252.5,558.2 254,558.1 254.5,557.9 255,558.2 255.5,558.1 256,557.9 256.5,558.1 259,558.1 259.5,557.9 260,558.1 260.5,558.1 261,557.9 261.5,557.7 262,557.6 262.5,557.3 263,558 263.5,558.1 267,558.2 267.5,557.7 268,558.1 271,558.1 271.5,557.9 272,557.7 272.5,558.2 277,558.1 277.5,557.9 278,557.8 278.5,558.1 281,558.2 281.5,557.8 282,557.8 282.5,558.1 284,558.2 284.5,557.9 285,557.7 285.5,558.1 286,557.8 286.5,557.9 287,557.7 287.5,558.1 291,558.1 291.5,557.9 292,558.2 293,558.1 293.5,557.7 294,557.9 294.5,558.1 296,558.2 296.5,557.9 297,558.1 298.5,558.1 299,557.9 299.5,558.2 301,558.1 301.5,557.8 302,558.1 303,558.1 303.5,557.8 304,558.1 304.5,558 305,557.9 305.5,557.9 306,558 306.5,557.8 307,558 315,558.1 315.5,558 316,557.8 316.5,557.7 317,557.5 317.5,557.8 318,557.9 318.5,558.1 319.5,558.2 320,557.8 320.5,558.1 322,558.1 322.5,558 323,558.1 323.2,558.2" fill="#e39a62"/>
<polygon points="324.8,558.2 324.8,558 325.3,557.8 325.8,557.5 326.3,557.2 326.8,557.5 327.3,557.8 327.8,557.6 328.3,557 328.8,557.3 329.3,557.2 329.8,558 330.3,558.1 332.3,558.1 332.8,557.9 333.3,557.9 333.8,557.7 334.3,557.8 334.8,557.9 335.3,557.7 335.8,557.1 336.3,557.4 336.8,557.5 337.3,558.1 338.3,558.1 338.8,557.8 339.3,558.2 342.3,558 342.8,558 343.3,557.9 343.8,558.1 344.8,558.1 345.3,557.9 345.8,557.7 346.3,557.8 346.8,557.9 347.3,558.1 348.8,558 349.3,557.6 349.8,557.6 350.3,557.6 350.8,557.5 351.3,557.6 351.8,558.1 355.8,558.2 356.3,558 356.8,557.8 357.3,557.8 357.8,557.7 358.3,557.7 358.8,557.9 359.3,557.8 359.8,558.1 361.8,558.1 362.3,558 362.8,557.6 363.3,557.8 363.8,558 364.3,557.8 364.8,557.5 365.3,557.4 365.8,557.3 366.3,557.5 366.8,557.5 367.3,557.2 367.8,557.9 368.3,558.1 368.8,557.9 369.3,558 369.8,558.1 370.3,558 370.8,557.8 371.3,557.9 371.8,558.1 373.3,558.2 373.8,557.7 374.3,557.9 374.8,558.1 375.3,557.9 375.8,557.6 376.3,557.5 376.8,557.8 377.3,557.7 377.8,557.2 378.3,557.6 378.8,557.8 379.3,558 379.8,558 380.3,557.9 380.8,557.6 381.3,557.7 381.8,557.9 382.3,558.1 382.8,558.1 383.3,557.7 383.8,557.9 384.3,557.8 384.8,557.7 385.3,557.7 385.8,557.8 386.3,558 386.8,558 387.3,557.9 387.8,557.6 388.3,557.5 388.8,557.4 389.3,557.5 389.8,557.6 390.3,557.3 390.8,557.4 391.3,557.5 391.8,557.7 392.3,557.8 392.8,557.8 393.3,557.6 393.8,557.9 394.3,558.1 396.8,558.1 397.3,557.9 397.8,558.2 398.8,558.2 399.3,557.9 399.4,558.2" fill="#e39a62"/>
<polygon points="401,558.2 401,558.1 401.5,558.1 402,557.9 402.5,558.2 404,558.1 404.5,558 405,558.2 405.5,557.7 406,558.2 407.5,558.2 408,557.8 408.5,558.2 409,557.8 409.5,558.1 412.5,558.2 413,557.8 413.5,558.2 414,558.2 414.5,557.8 415,558.2 415.5,558.1 416,557.9 416.5,558.2 417.5,558.1 418,558 418.5,558 419,558 419.5,558.1 421,558.2 421.5,558 422,557.9 422.5,558.2 429.5,558.2 430,557.9 430.5,558.1 431,558.2 431.5,557.8 432,558.1 434,558.1 434.5,557.8 435,558.2 437,558.1 437.5,557.9 438,558.2 438.5,558 439,558.1 440.5,558.1 441,557.8 441.5,558.1 443.5,558.1 444,558 444.5,558.1 445.5,558.2 446,557.7 446.5,558 447,558 447.5,557.7 448,558.1 450.5,558.1 451,557.9 451.5,558.1 453,558.1 453.5,558 454,557.9 454.5,558 455,558.1 458.5,558.1 459,557.8 459.5,558.2 461.5,558.2 462,558 462.5,558 466,558.1 466.5,557.9 467,557.8 467.5,557.8 468,557.3 468.5,556.6 469,557.4 469.5,557.9 470,557.8 470.5,557.9 471,558.1 475.5,558.2 475.7,558.2" fill="#e39a62"/>
<polygon points="477.3,558.2 477.3,558.2 488.3,558.2 488.8,557.8 489.3,558 489.8,558 490.3,558 492.8,558.1 493.3,557.8 493.8,558.2 494.8,558.2 495.3,557.7 495.8,558 496.3,557.9 496.8,557.7 497.3,557.8 497.8,557.6 498.3,557.9 498.8,558.1 499.8,558.1 500.3,557.9 500.8,558.2 505.8,558.1 506.3,558 506.8,558.2 510.3,558.2 510.8,557.7 511.3,558 511.8,558 512.3,558.2 512.8,557.9 513.3,558.1 513.8,558.1 514.3,557.8 514.8,558.2 515.3,558.1 515.8,557.9 516.3,558.1 521.3,558.1 521.8,557.8 522.3,558.2 522.8,557.9 523.3,557.8 523.8,558.1 524.3,558 524.8,558 525.3,558.1 534.8,558.2 535.3,557.9 535.8,558.1 536.3,558.1 536.8,558 537.3,557.8 537.8,557.7 538.3,557.6 538.8,557.4 539.3,558 539.8,558 540.3,558.1 540.8,558 541.3,557.9 541.8,558.1 542.3,558.1 542.8,557.8 543.3,558.2 544.3,558.1 544.8,558 545.3,558.2 545.8,558.1 546.3,557.8 546.8,558.2 547.3,558.2 547.8,557.8 548.3,558 548.8,557.8 549.3,558 549.8,558 550.8,558.1 551.3,557.7 551.8,558.2 552.3,558.2 552.5,558.2" fill="#e39a62"/>
<polygon points="554.1,558.2 554.1,558.1 554.6,557.8 555.1,558.2 557.6,558.1 558.1,558 558.6,557.7 559.1,558.1 559.6,558.1 560.1,557.8 560.6,558.1 561.1,558.1 561.6,557.9 562.1,557.7 562.6,558.2 563.1,558.1 563.6,558 564.1,558.2 566.6,558 567.1,558 567.6,558 569.1,558.2 569.6,557.9 570.1,558.2 572.1,558.2 572.6,557.9 573.1,558.2 573.6,558.2 574.1,558 574.6,558.1 575.1,558.1 575.6,557.8 576.1,558.1 576.6,557.9 577.1,558.1 577.6,557.8 578.1,558.1 578.6,558.1 579.1,558 579.6,558.2 587.1,558.1 587.6,557.9 588.1,557.8 588.6,557.9 589.1,558 589.6,557.7 590.1,558.1 600.1,558.1 600.6,557.9 601.1,558.2 602.6,558.1 603.1,558 603.6,557.9 604.1,557.9 604.6,557.6 605.1,558 605.6,557.8 606.1,558 606.6,558.1 607.6,558.2 608.1,557.8 608.6,558.2 609.1,558.1 609.6,557.9 610.1,557.9 610.6,558 611.1,558.1 611.6,557.7 612.1,558.2 613.1,558.1 613.6,558 614.1,558.1 614.6,557.9 615.1,557.7 615.6,558 616.1,558.2 622.1,558.2 622.6,557.9 623.1,557.9 623.6,558.1 624.1,558.2 624.6,558 625.1,558.1 625.6,558.1 626.1,557.8 626.6,558.2 627.1,558.1 627.6,557.7 628.1,558.2 628.6,558.2 628.7,558.2" fill="#e39a62"/>
<polygon points="630.3,558.2 630.3,557.7 630.8,557.3 631.3,557.2 631.8,556.3 632.3,554.9 632.8,555.5 633.3,557.3 633.8,557.9 634.3,558.2 636.3,558.1 636.8,557.6 637.3,557.8 637.8,557.4 638.3,557.2 638.8,557.2 639.3,557.2 639.8,557.4 640.3,557.6 640.8,557.8 641.3,557.7 641.8,557.7 642.3,557.6 642.8,557.8 643.3,557.8 643.8,557.7 644.3,558 644.8,558.1 645.3,558.1 645.8,557.6 646.3,557.8 646.8,557.4 647.3,557.4 647.8,557.5 648.3,557.7 648.8,557.9 649.3,557.8 649.8,557.7 650.3,557.6 650.8,557.6 651.3,557.7 651.8,557.7 652.3,557.9 652.8,558 653.3,557.8 653.8,558.2 654.8,558.1 655.3,557.9 655.8,557.3 656.3,557.7 656.8,557.6 657.3,558.1 657.8,558 658.3,557.7 658.8,557.6 659.3,557.5 659.8,557.5 660.3,557.5 660.8,557.5 661.3,557.6 661.8,557.9 662.3,557.9 662.8,557.6 663.3,557.7 663.8,558 664.3,558.1 664.8,558.1 665.3,557.9 665.8,558.1 666.8,558.1 667.3,557.8 667.8,557.7 668.3,557.6 668.8,557.7 669.3,557.8 669.8,557.8 670.3,557.5 670.8,557.7 671.3,557.7 671.8,557.6 672.3,557.8 672.8,557.8 673.3,558.1 673.8,558.1 674.3,557.8 674.8,557.1 675.3,557.2 675.8,557.3 676.3,557.3 676.8,557.5 677.3,557.7 677.8,557.9 678.3,558 679.3,558.1 679.8,557.8 680.3,557.8 680.8,557.9 681.3,558.1 681.8,557.9 682.3,557.5 682.8,557.8 683.3,557.8 683.8,557.9 684.3,558.1 684.8,558.1 685.3,557.7 685.8,558.1 689.3,558.1 689.8,557.6 690.3,558 690.8,557.8 691.3,557.9 691.8,558 692.3,557.9 692.8,557.7 693.3,557.4 693.8,557.2 694.3,557.1 694.8,557.7 695.3,557.6 695.8,558.2 697.3,558 697.8,557.9 698.3,558 698.8,558.1 699.3,557.9 699.8,558 700.3,558.1 700.8,558.1 701.3,558 701.8,558.2 704.3,558.2 704.5,558.2" fill="#e39a62"/>
<line x1="95.6" y1="467.2" x2="705.3" y2="467.2" stroke="#777" stroke-width="1.3"/>
<line x1="95.6" y1="467.2" x2="95.6" y2="558.5" stroke="#666" stroke-width="1.1"/>
<line x1="171.3" y1="467.2" x2="171.3" y2="558.5" stroke="#666" stroke-width="1.1"/>
<line x1="247.7" y1="467.2" x2="247.7" y2="558.5" stroke="#666" stroke-width="1.1"/>
<line x1="324" y1="467.2" x2="324" y2="558.5" stroke="#666" stroke-width="1.1"/>
<line x1="400.2" y1="467.2" x2="400.2" y2="558.5" stroke="#666" stroke-width="1.1"/>
<line x1="476.5" y1="467.2" x2="476.5" y2="558.5" stroke="#666" stroke-width="1.1"/>
<line x1="553.3" y1="467.2" x2="553.3" y2="558.5" stroke="#666" stroke-width="1.1"/>
<line x1="629.5" y1="467.2" x2="629.5" y2="558.5" stroke="#666" stroke-width="1.1"/>
<text x="88" y="482.2" text-anchor="end" textLength="18.5" lengthAdjust="spacingAndGlyphs" fill="#222">Ctrl</text>
<text x="88" y="501.8" text-anchor="end" fill="#9b30d9">WT</text>
<text x="88" y="519.3" text-anchor="end" fill="#2a2ae6">mt1</text>
<text x="88" y="538.5" text-anchor="end" fill="#ee2222">mt2</text>
<text x="88" y="557.1" text-anchor="end" fill="#f47a2a">dEZH2</text>
<path d="M45.7,473.5 H40.4 V554.4 H45.7" fill="none" stroke="#7a7a7a" stroke-width="1"/>
<text x="31.3" y="313" text-anchor="middle" transform="rotate(-90 31.3 313)">H3K27me3</text>
<text x="31.3" y="413" text-anchor="middle" transform="rotate(-90 31.3 413)">H3K27ac</text>
<text x="31.3" y="514" text-anchor="middle" transform="rotate(-90 31.3 514)">IgG</text>
<text x="9.8" y="405.3" text-anchor="middle" transform="rotate(-90 9.8 405.3)">CUT&amp;Tag</text>
<line x1="13.6" y1="286.5" x2="13.6" y2="524.6" stroke="#7a7a7a" stroke-width="1"/>
<text x="99.5" y="569.9" textLength="75.5" lengthAdjust="spacingAndGlyphs" font-size="10"><tspan font-style="italic">y</tspan> axis limits: 0–50</text>
<text x="246.9" y="569.9" text-anchor="end" font-size="10">0–60</text>
<text x="323.2" y="569.9" text-anchor="end" font-size="10">0–70</text>
<text x="399.4" y="569.9" text-anchor="end" font-size="10">0–60</text>
<text x="475.7" y="569.9" text-anchor="end" font-size="10">0–100</text>
<text x="552.5" y="569.9" text-anchor="end" font-size="10">0–70</text>
<text x="628.7" y="569.9" text-anchor="end" font-size="10">0–80</text>
<text x="704.5" y="569.9" text-anchor="end" font-size="10">0–50</text>
<line x1="112.2" y1="576.6" x2="153" y2="576.6" stroke="#1a2cc0" stroke-width="1"/>
<rect x="115.4" y="574.3" width="21.6" height="4.6" fill="#1a2cc0"/>
<rect x="137" y="574.7" width="16" height="3.8" fill="#1a2cc0"/>
<rect x="112.2" y="575.8" width="3.2" height="1.6" fill="#1a2cc0"/>
<path d="M117,575.5 l1.2,1.1 l-1.2,1.1" fill="none" stroke="#fff" stroke-width="0.5"/>
<path d="M119.6,575.5 l1.2,1.1 l-1.2,1.1" fill="none" stroke="#fff" stroke-width="0.5"/>
<path d="M122.2,575.5 l1.2,1.1 l-1.2,1.1" fill="none" stroke="#fff" stroke-width="0.5"/>
<path d="M124.8,575.5 l1.2,1.1 l-1.2,1.1" fill="none" stroke="#fff" stroke-width="0.5"/>
<path d="M127.4,575.5 l1.2,1.1 l-1.2,1.1" fill="none" stroke="#fff" stroke-width="0.5"/>
<path d="M130,575.5 l1.2,1.1 l-1.2,1.1" fill="none" stroke="#fff" stroke-width="0.5"/>
<path d="M132.6,575.5 l1.2,1.1 l-1.2,1.1" fill="none" stroke="#fff" stroke-width="0.5"/>
<path d="M135.2,575.5 l1.2,1.1 l-1.2,1.1" fill="none" stroke="#fff" stroke-width="0.5"/>
<line x1="178" y1="576.6" x2="240" y2="576.6" stroke="#1a2cc0" stroke-width="1"/>
<rect x="178" y="574.8" width="11.7" height="3.6" fill="#1a2cc0"/>
<rect x="195" y="575.1" width="1" height="3" fill="#1a2cc0"/>
<rect x="200" y="575.1" width="1" height="3" fill="#1a2cc0"/>
<rect x="206" y="575.1" width="1" height="3" fill="#1a2cc0"/>
<rect x="215" y="574.1" width="16" height="5" fill="#1a2cc0"/>
<rect x="236" y="575.1" width="1" height="3" fill="#1a2cc0"/>
<path d="M218,575.5 l1.2,1.1 l-1.2,1.1" fill="none" stroke="#fff" stroke-width="0.5"/>
<path d="M220.6,575.5 l1.2,1.1 l-1.2,1.1" fill="none" stroke="#fff" stroke-width="0.5"/>
<path d="M223.2,575.5 l1.2,1.1 l-1.2,1.1" fill="none" stroke="#fff" stroke-width="0.5"/>
<path d="M225.8,575.5 l1.2,1.1 l-1.2,1.1" fill="none" stroke="#fff" stroke-width="0.5"/>
<path d="M228.4,575.5 l1.2,1.1 l-1.2,1.1" fill="none" stroke="#fff" stroke-width="0.5"/>
<line x1="268.9" y1="576.6" x2="302.2" y2="576.6" stroke="#1a2cc0" stroke-width="1"/>
<rect x="268.9" y="574.2" width="33.3" height="4.8" fill="#1a2cc0"/>
<path d="M271,575.5 l1.2,1.1 l-1.2,1.1" fill="none" stroke="#fff" stroke-width="0.5"/>
<path d="M273.6,575.5 l1.2,1.1 l-1.2,1.1" fill="none" stroke="#fff" stroke-width="0.5"/>
<path d="M276.2,575.5 l1.2,1.1 l-1.2,1.1" fill="none" stroke="#fff" stroke-width="0.5"/>
<path d="M278.8,575.5 l1.2,1.1 l-1.2,1.1" fill="none" stroke="#fff" stroke-width="0.5"/>
<path d="M281.4,575.5 l1.2,1.1 l-1.2,1.1" fill="none" stroke="#fff" stroke-width="0.5"/>
<path d="M284,575.5 l1.2,1.1 l-1.2,1.1" fill="none" stroke="#fff" stroke-width="0.5"/>
<path d="M286.6,575.5 l1.2,1.1 l-1.2,1.1" fill="none" stroke="#fff" stroke-width="0.5"/>
<path d="M289.2,575.5 l1.2,1.1 l-1.2,1.1" fill="none" stroke="#fff" stroke-width="0.5"/>
<path d="M291.8,575.5 l1.2,1.1 l-1.2,1.1" fill="none" stroke="#fff" stroke-width="0.5"/>
<path d="M294.4,575.5 l1.2,1.1 l-1.2,1.1" fill="none" stroke="#fff" stroke-width="0.5"/>
<path d="M297,575.5 l1.2,1.1 l-1.2,1.1" fill="none" stroke="#fff" stroke-width="0.5"/>
<path d="M299.6,575.5 l1.2,1.1 l-1.2,1.1" fill="none" stroke="#fff" stroke-width="0.5"/>
<line x1="324" y1="576.6" x2="363" y2="576.6" stroke="#1a2cc0" stroke-width="1"/>
<rect x="324" y="574.4" width="2" height="4.5" fill="#1a2cc0"/>
<rect x="328" y="574.4" width="1" height="4.5" fill="#1a2cc0"/>
<rect x="330" y="574.1" width="14" height="5" fill="#1a2cc0"/>
<rect x="346" y="574.4" width="1.5" height="4.5" fill="#1a2cc0"/>
<rect x="349" y="574.4" width="1" height="4.5" fill="#1a2cc0"/>
<rect x="352" y="574.4" width="1.5" height="4.5" fill="#1a2cc0"/>
<rect x="355" y="574.4" width="1" height="4.5" fill="#1a2cc0"/>
<rect x="358" y="574.4" width="1" height="4.5" fill="#1a2cc0"/>
<rect x="361" y="574.4" width="1.5" height="4.5" fill="#1a2cc0"/>
<line x1="375.3" y1="576.6" x2="398" y2="576.6" stroke="#1a2cc0" stroke-width="1"/>
<rect x="375.3" y="574.6" width="1.2" height="4" fill="#1a2cc0"/>
<rect x="381" y="573.9" width="11.5" height="5.5" fill="#1a2cc0"/>
<rect x="394" y="574.6" width="1" height="4" fill="#1a2cc0"/>
<line x1="399.8" y1="576.6" x2="474.5" y2="576.6" stroke="#1a2cc0" stroke-width="1"/>
<rect x="399.8" y="574.4" width="2.7" height="4.5" fill="#1a2cc0"/>
<rect x="404" y="574.1" width="2" height="5" fill="#1a2cc0"/>
<rect x="411" y="574.4" width="1.5" height="4.5" fill="#1a2cc0"/>
<rect x="415" y="574.4" width="1.5" height="4.5" fill="#1a2cc0"/>
<rect x="418" y="574.4" width="2" height="4.5" fill="#1a2cc0"/>
<rect x="422" y="574.4" width="1.5" height="4.5" fill="#1a2cc0"/>
<rect x="427" y="574.9" width="1" height="3.5" fill="#1a2cc0"/>
<rect x="433" y="574.9" width="1" height="3.5" fill="#1a2cc0"/>
<rect x="440" y="575.1" width="1" height="3" fill="#1a2cc0"/>
<rect x="447" y="575.1" width="1" height="3" fill="#1a2cc0"/>
<rect x="455" y="575.1" width="1" height="3" fill="#1a2cc0"/>
<rect x="463" y="575.1" width="1" height="3" fill="#1a2cc0"/>
<line x1="495" y1="576.6" x2="553.7" y2="576.6" stroke="#1a2cc0" stroke-width="1"/>
<rect x="495" y="574.9" width="15" height="3.5" fill="#1a2cc0"/>
<rect x="512" y="574.9" width="1" height="3.5" fill="#1a2cc0"/>
<rect x="516" y="574.9" width="1" height="3.5" fill="#1a2cc0"/>
<rect x="527" y="574.9" width="1" height="3.5" fill="#1a2cc0"/>
<rect x="531" y="574.9" width="1" height="3.5" fill="#1a2cc0"/>
<rect x="537" y="574.6" width="4" height="4" fill="#1a2cc0"/>
<rect x="546" y="575.1" width="1" height="3" fill="#1a2cc0"/>
<rect x="551" y="575.1" width="1" height="3" fill="#1a2cc0"/>
<path d="M498,575.5 l1.2,1.1 l-1.2,1.1" fill="none" stroke="#fff" stroke-width="0.5"/>
<path d="M500.6,575.5 l1.2,1.1 l-1.2,1.1" fill="none" stroke="#fff" stroke-width="0.5"/>
<path d="M503.2,575.5 l1.2,1.1 l-1.2,1.1" fill="none" stroke="#fff" stroke-width="0.5"/>
<path d="M505.8,575.5 l1.2,1.1 l-1.2,1.1" fill="none" stroke="#fff" stroke-width="0.5"/>
<line x1="561.8" y1="576.6" x2="620.5" y2="576.6" stroke="#1a2cc0" stroke-width="1"/>
<rect x="561.8" y="574.4" width="1.2" height="4.5" fill="#1a2cc0"/>
<rect x="570" y="575.1" width="1" height="3" fill="#1a2cc0"/>
<rect x="578" y="575.1" width="1" height="3" fill="#1a2cc0"/>
<rect x="586" y="575.1" width="1" height="3" fill="#1a2cc0"/>
<rect x="596" y="575.1" width="1" height="3" fill="#1a2cc0"/>
<rect x="604" y="575.1" width="1" height="3" fill="#1a2cc0"/>
<rect x="612" y="575.1" width="1" height="3" fill="#1a2cc0"/>
<rect x="617" y="574.1" width="3.5" height="5" fill="#1a2cc0"/>
<line x1="632.6" y1="576.6" x2="703.5" y2="576.6" stroke="#1a2cc0" stroke-width="1"/>
<rect x="632.6" y="574.4" width="1.4" height="4.5" fill="#1a2cc0"/>
<rect x="640" y="574.8" width="0.9" height="3.6" fill="#1a2cc0"/>
<rect x="644" y="574.8" width="0.9" height="3.6" fill="#1a2cc0"/>
<rect x="648" y="574.8" width="0.9" height="3.6" fill="#1a2cc0"/>
<rect x="652" y="574.8" width="0.9" height="3.6" fill="#1a2cc0"/>
<rect x="656" y="574.8" width="0.9" height="3.6" fill="#1a2cc0"/>
<rect x="660" y="574.8" width="0.9" height="3.6" fill="#1a2cc0"/>
<rect x="664" y="574.8" width="0.9" height="3.6" fill="#1a2cc0"/>
<rect x="668" y="574.8" width="0.9" height="3.6" fill="#1a2cc0"/>
<rect x="672" y="574.8" width="0.9" height="3.6" fill="#1a2cc0"/>
<rect x="676" y="574.8" width="0.9" height="3.6" fill="#1a2cc0"/>
<rect x="680" y="574.8" width="0.9" height="3.6" fill="#1a2cc0"/>
<rect x="684" y="574.8" width="0.9" height="3.6" fill="#1a2cc0"/>
<rect x="688" y="574.8" width="0.9" height="3.6" fill="#1a2cc0"/>
<rect x="692" y="574.8" width="0.9" height="3.6" fill="#1a2cc0"/>
<rect x="696" y="574.8" width="0.9" height="3.6" fill="#1a2cc0"/>
<rect x="700" y="574.8" width="0.9" height="3.6" fill="#1a2cc0"/>
<text x="110" y="593.7" font-style="italic" textLength="34.4" lengthAdjust="spacingAndGlyphs">ATOH1</text>
<text x="184" y="593.7" font-style="italic" textLength="41.3" lengthAdjust="spacingAndGlyphs">C4orf54</text>
<text x="255.3" y="593.5" font-style="italic" textLength="49.3" lengthAdjust="spacingAndGlyphs">SLC9A7P1</text>
<text x="317.5" y="593.5" font-style="italic" textLength="34.7" lengthAdjust="spacingAndGlyphs">NFASC</text>
<text x="358.3" y="593.5" font-style="italic" textLength="35.3" lengthAdjust="spacingAndGlyphs">CNTN2</text>
<text x="398" y="593.5" font-style="italic" textLength="32.3" lengthAdjust="spacingAndGlyphs">ADCY1</text>
<text x="427.5" y="606.7" font-style="italic" textLength="53.5" lengthAdjust="spacingAndGlyphs">SEPTIN7P2</text>
<text x="492.9" y="593.5" font-style="italic" textLength="56.7" lengthAdjust="spacingAndGlyphs">UBAC2-AS1</text>
<text x="569.9" y="593.5" font-style="italic" textLength="38.4" lengthAdjust="spacingAndGlyphs">ZNF622</text>
<text x="630.6" y="593.5" textLength="34.4" lengthAdjust="spacingAndGlyphs">SMYD2</text>
<text x="0" y="639.1" font-weight="bold" fill="#000" font-size="15">d</text>
<text x="212.3" y="633.4" text-anchor="middle" textLength="47.6" lengthAdjust="spacingAndGlyphs">CUT&amp;Tag</text>
<line x1="60.1" y1="640" x2="364.7" y2="640" stroke="#8a8a8a" stroke-width="1"/>
<text x="113.6" y="655.5" text-anchor="middle" textLength="54.4" lengthAdjust="spacingAndGlyphs">H3K27me3</text>
<line x1="42.5" y1="660.9" x2="184.2" y2="660.9" stroke="#8a8a8a" stroke-width="1"/>
<text x="312.2" y="655.5" text-anchor="middle" textLength="44.5" lengthAdjust="spacingAndGlyphs">H3K27ac</text>
<line x1="240.9" y1="660.9" x2="379.7" y2="660.9" stroke="#8a8a8a" stroke-width="1"/>
<defs><linearGradient id="gs" x1="0" y1="0" x2="0" y2="1"><stop offset="0.000" stop-color="#5e5e5e"/><stop offset="0.020" stop-color="#707070"/><stop offset="0.077" stop-color="#8e8e8e"/><stop offset="0.130" stop-color="#acacac"/><stop offset="0.190" stop-color="#c4c4c4"/><stop offset="0.270" stop-color="#d8d8d8"/><stop offset="0.385" stop-color="#e7e7e7"/><stop offset="0.560" stop-color="#f1f1f1"/><stop offset="0.780" stop-color="#f6f6f6"/><stop offset="1.000" stop-color="#f9f9f9"/></linearGradient><linearGradient id="gw" x1="0" y1="0" x2="0" y2="1"><stop offset="0.000" stop-color="#b8b8b8"/><stop offset="0.030" stop-color="#cccccc"/><stop offset="0.100" stop-color="#e4e4e4"/><stop offset="0.200" stop-color="#f0f0f0"/><stop offset="0.350" stop-color="#f6f6f6"/><stop offset="1.000" stop-color="#fbfbfb"/></linearGradient><linearGradient id="ga" x1="0" y1="0" x2="0" y2="1"><stop offset="0.000" stop-color="#d0d0d0"/><stop offset="0.100" stop-color="#d9d9d9"/><stop offset="0.300" stop-color="#e4e4e4"/><stop offset="0.500" stop-color="#ededed"/><stop offset="0.750" stop-color="#f4f4f4"/><stop offset="1.000" stop-color="#f8f8f8"/></linearGradient><linearGradient id="gc" x1="0" y1="0" x2="0" y2="1"><stop offset="0.000" stop-color="#000" stop-opacity="0.220"/><stop offset="0.150" stop-color="#000" stop-opacity="0.120"/><stop offset="0.400" stop-color="#000" stop-opacity="0.050"/><stop offset="0.700" stop-color="#000" stop-opacity="0.020"/><stop offset="1.000" stop-color="#000" stop-opacity="0.000"/></linearGradient><linearGradient id="gcw" x1="0" y1="0" x2="0" y2="1"><stop offset="0.000" stop-color="#000" stop-opacity="0.300"/><stop offset="0.050" stop-color="#000" stop-opacity="0.150"/><stop offset="0.150" stop-color="#000" stop-opacity="0.040"/><stop offset="1.000" stop-color="#000" stop-opacity="0.000"/></linearGradient><linearGradient id="gk" x1="0" y1="0" x2="0" y2="1"><stop offset="0.000" stop-color="#222" stop-opacity="0.800"/><stop offset="0.300" stop-color="#2a2a2a" stop-opacity="0.700"/><stop offset="0.600" stop-color="#444" stop-opacity="0.520"/><stop offset="0.800" stop-color="#555" stop-opacity="0.280"/><stop offset="1.000" stop-color="#999" stop-opacity="0.000"/></linearGradient><linearGradient id="gkh" x1="0" y1="0" x2="0" y2="1"><stop offset="0.000" stop-color="#000" stop-opacity="0.180"/><stop offset="0.300" stop-color="#000" stop-opacity="0.100"/><stop offset="0.700" stop-color="#000" stop-opacity="0.030"/><stop offset="1.000" stop-color="#000" stop-opacity="0.000"/></linearGradient><linearGradient id="gbar" x1="0" y1="0" x2="0" y2="1"><stop offset="0.000" stop-color="#111"/><stop offset="1.000" stop-color="#fafafa"/></linearGradient><filter id="hb" x="-50%" y="-5%" width="200%" height="110%"><feGaussianBlur stdDeviation="0.6 0.4"/></filter><filter id="hb2" x="-50%" y="-5%" width="200%" height="110%"><feGaussianBlur stdDeviation="1.5 0.5"/></filter></defs>
<rect x="31.5" y="701.5" width="27" height="177" fill="url(#gs)"/>
<polygon points="42,701.5 49,701.5 47,878.5 44,878.5" fill="url(#gc)" opacity="1" filter="url(#hb2)"/>
<rect x="31.5" y="701.5" width="27" height="177" fill="none" stroke="#444" stroke-width="1"/>
<line x1="31.5" y1="702.1" x2="58.5" y2="702.1" stroke="#222" stroke-width="1.2"/>
<rect x="61.5" y="701.5" width="27" height="177" fill="url(#gs)"/>
<polygon points="72,701.5 79,701.5 77,878.5 74,878.5" fill="url(#gc)" opacity="1" filter="url(#hb2)"/>
<rect x="61.5" y="701.5" width="27" height="177" fill="none" stroke="#444" stroke-width="1"/>
<line x1="61.5" y1="702.1" x2="88.5" y2="702.1" stroke="#222" stroke-width="1.2"/>
<rect x="90.5" y="701.5" width="27" height="177" fill="url(#gs)"/>
<polygon points="101,701.5 108,701.5 106,878.5 103,878.5" fill="url(#gc)" opacity="1" filter="url(#hb2)"/>
<rect x="90.5" y="701.5" width="27" height="177" fill="none" stroke="#444" stroke-width="1"/>
<line x1="90.5" y1="702.1" x2="117.5" y2="702.1" stroke="#222" stroke-width="1.2"/>
<rect x="119.5" y="701.5" width="27" height="177" fill="url(#gw)"/>
<polygon points="129,701.5 138,701.5 135,878.5 132,878.5" fill="url(#gcw)" opacity="1" filter="url(#hb2)"/>
<rect x="119.5" y="701.5" width="27" height="177" fill="none" stroke="#444" stroke-width="1"/>
<line x1="119.5" y1="702.1" x2="146.5" y2="702.1" stroke="#222" stroke-width="1.2"/>
<rect x="148.5" y="701.5" width="27" height="177" fill="url(#gw)"/>
<polygon points="158,701.5 167,701.5 164,878.5 161,878.5" fill="url(#gcw)" opacity="1" filter="url(#hb2)"/>
<rect x="148.5" y="701.5" width="27" height="177" fill="none" stroke="#444" stroke-width="1"/>
<line x1="148.5" y1="702.1" x2="175.5" y2="702.1" stroke="#222" stroke-width="1.2"/>
<rect x="227.5" y="701.5" width="27" height="177" fill="url(#ga)"/>
<polygon points="235.7,701.5 247.7,701.5 243.7,811.5 239.7,811.5" fill="url(#gkh)" opacity="1" filter="url(#hb2)"/>
<polygon points="239.8,701.5 243.6,701.5 242.4,816.5 240.9,816.5" fill="url(#gk)" opacity="1" filter="url(#hb)"/>
<rect x="227.5" y="701.5" width="27" height="177" fill="none" stroke="#444" stroke-width="1"/>
<line x1="227.5" y1="702.1" x2="254.5" y2="702.1" stroke="#222" stroke-width="1.2"/>
<rect x="256.5" y="701.5" width="27" height="177" fill="url(#ga)"/>
<polygon points="264.7,701.5 276.7,701.5 272.7,811.5 268.7,811.5" fill="url(#gkh)" opacity="1" filter="url(#hb2)"/>
<polygon points="268.8,701.5 272.6,701.5 271.4,816.5 269.9,816.5" fill="url(#gk)" opacity="1" filter="url(#hb)"/>
<rect x="256.5" y="701.5" width="27" height="177" fill="none" stroke="#444" stroke-width="1"/>
<line x1="256.5" y1="702.1" x2="283.5" y2="702.1" stroke="#222" stroke-width="1.2"/>
<rect x="285.5" y="701.5" width="28" height="177" fill="url(#ga)"/>
<polygon points="294.2,701.5 306.2,701.5 302.2,811.5 298.2,811.5" fill="url(#gkh)" opacity="1" filter="url(#hb2)"/>
<polygon points="298.3,701.5 302.1,701.5 300.9,816.5 299.4,816.5" fill="url(#gk)" opacity="1" filter="url(#hb)"/>
<rect x="285.5" y="701.5" width="28" height="177" fill="none" stroke="#444" stroke-width="1"/>
<line x1="285.5" y1="702.1" x2="313.5" y2="702.1" stroke="#222" stroke-width="1.2"/>
<rect x="315.5" y="701.5" width="27" height="177" fill="url(#ga)"/>
<polygon points="323.7,701.5 335.7,701.5 331.7,811.5 327.7,811.5" fill="url(#gkh)" opacity="1" filter="url(#hb2)"/>
<polygon points="327.8,701.5 331.6,701.5 330.4,816.5 328.9,816.5" fill="url(#gk)" opacity="1" filter="url(#hb)"/>
<rect x="315.5" y="701.5" width="27" height="177" fill="none" stroke="#444" stroke-width="1"/>
<line x1="315.5" y1="702.1" x2="342.5" y2="702.1" stroke="#222" stroke-width="1.2"/>
<rect x="344.5" y="701.5" width="27" height="177" fill="url(#ga)"/>
<polygon points="352.7,701.5 364.7,701.5 360.7,811.5 356.7,811.5" fill="url(#gkh)" opacity="1" filter="url(#hb2)"/>
<polygon points="356.8,701.5 360.6,701.5 359.4,816.5 357.9,816.5" fill="url(#gk)" opacity="1" filter="url(#hb)"/>
<rect x="344.5" y="701.5" width="27" height="177" fill="none" stroke="#444" stroke-width="1"/>
<line x1="344.5" y1="702.1" x2="371.5" y2="702.1" stroke="#222" stroke-width="1.2"/>
<circle cx="241.7" cy="810.5" r="0.9" fill="#999"/>
<circle cx="270.7" cy="810.5" r="0.9" fill="#999"/>
<circle cx="300.2" cy="810.5" r="0.9" fill="#999"/>
<circle cx="329.7" cy="810.5" r="0.9" fill="#999"/>
<circle cx="358.7" cy="810.5" r="0.9" fill="#999"/>
<text x="41" y="699.5" textLength="20.6" lengthAdjust="spacingAndGlyphs" transform="rotate(-45 41 699.5)" fill="#111" font-size="11.5">Ctrl</text>
<text x="73.5" y="699.5" textLength="17" lengthAdjust="spacingAndGlyphs" transform="rotate(-45 73.5 699.5)" fill="#9b30d9" font-size="11.5">WT</text>
<text x="104" y="699.5" textLength="18.2" lengthAdjust="spacingAndGlyphs" transform="rotate(-45 104 699.5)" fill="#2a2ae6" font-size="11.5">mt1</text>
<text x="132" y="699.5" textLength="19.2" lengthAdjust="spacingAndGlyphs" transform="rotate(-45 132 699.5)" fill="#ee2222" font-size="11.5">mt2</text>
<text x="161" y="699.5" textLength="32.2" lengthAdjust="spacingAndGlyphs" transform="rotate(-45 161 699.5)" fill="#f47a2a" font-size="11.5">dEZH2</text>
<line x1="45" y1="878.5" x2="45" y2="880.7" stroke="#333" stroke-width="0.8"/>
<text x="36.4" y="885.9" text-anchor="end" transform="rotate(-90 36.4 885.9)" font-size="9.8">–5</text>
<text x="47.4" y="885.9" text-anchor="end" textLength="15.4" lengthAdjust="spacingAndGlyphs" transform="rotate(-90 47.4 885.9)" font-size="9.8">TSS</text>
<text x="57.4" y="885.9" text-anchor="end" transform="rotate(-90 57.4 885.9)" font-size="9.8">5</text>
<line x1="75" y1="878.5" x2="75" y2="880.7" stroke="#333" stroke-width="0.8"/>
<text x="66.4" y="885.9" text-anchor="end" transform="rotate(-90 66.4 885.9)" font-size="9.8">–5</text>
<text x="77.4" y="885.9" text-anchor="end" textLength="15.4" lengthAdjust="spacingAndGlyphs" transform="rotate(-90 77.4 885.9)" font-size="9.8">TSS</text>
<text x="87.4" y="885.9" text-anchor="end" transform="rotate(-90 87.4 885.9)" font-size="9.8">5</text>
<line x1="104" y1="878.5" x2="104" y2="880.7" stroke="#333" stroke-width="0.8"/>
<text x="95.4" y="885.9" text-anchor="end" transform="rotate(-90 95.4 885.9)" font-size="9.8">–5</text>
<text x="106.4" y="885.9" text-anchor="end" textLength="15.4" lengthAdjust="spacingAndGlyphs" transform="rotate(-90 106.4 885.9)" font-size="9.8">TSS</text>
<text x="116.4" y="885.9" text-anchor="end" transform="rotate(-90 116.4 885.9)" font-size="9.8">5</text>
<line x1="133" y1="878.5" x2="133" y2="880.7" stroke="#333" stroke-width="0.8"/>
<text x="124.4" y="885.9" text-anchor="end" transform="rotate(-90 124.4 885.9)" font-size="9.8">–5</text>
<text x="135.4" y="885.9" text-anchor="end" textLength="15.4" lengthAdjust="spacingAndGlyphs" transform="rotate(-90 135.4 885.9)" font-size="9.8">TSS</text>
<text x="145.4" y="885.9" text-anchor="end" transform="rotate(-90 145.4 885.9)" font-size="9.8">5</text>
<line x1="162" y1="878.5" x2="162" y2="880.7" stroke="#333" stroke-width="0.8"/>
<text x="153.4" y="885.9" text-anchor="end" transform="rotate(-90 153.4 885.9)" font-size="9.8">–5</text>
<text x="164.4" y="885.9" text-anchor="end" textLength="15.4" lengthAdjust="spacingAndGlyphs" transform="rotate(-90 164.4 885.9)" font-size="9.8">TSS</text>
<text x="174.4" y="885.9" text-anchor="end" transform="rotate(-90 174.4 885.9)" font-size="9.8">5</text>
<text x="237" y="699.5" textLength="20.6" lengthAdjust="spacingAndGlyphs" transform="rotate(-45 237 699.5)" fill="#111" font-size="11.5">Ctrl</text>
<text x="268.5" y="699.5" textLength="17" lengthAdjust="spacingAndGlyphs" transform="rotate(-45 268.5 699.5)" fill="#9b30d9" font-size="11.5">WT</text>
<text x="299.5" y="699.5" textLength="18.2" lengthAdjust="spacingAndGlyphs" transform="rotate(-45 299.5 699.5)" fill="#2a2ae6" font-size="11.5">mt1</text>
<text x="328" y="699.5" textLength="19.2" lengthAdjust="spacingAndGlyphs" transform="rotate(-45 328 699.5)" fill="#ee2222" font-size="11.5">mt2</text>
<text x="357" y="699.5" textLength="32.2" lengthAdjust="spacingAndGlyphs" transform="rotate(-45 357 699.5)" fill="#f47a2a" font-size="11.5">dEZH2</text>
<line x1="241" y1="878.5" x2="241" y2="880.7" stroke="#333" stroke-width="0.8"/>
<text x="232.4" y="885.9" text-anchor="end" transform="rotate(-90 232.4 885.9)" font-size="9.8">–5</text>
<text x="243.4" y="885.9" text-anchor="end" textLength="15.4" lengthAdjust="spacingAndGlyphs" transform="rotate(-90 243.4 885.9)" font-size="9.8">TSS</text>
<text x="253.4" y="885.9" text-anchor="end" transform="rotate(-90 253.4 885.9)" font-size="9.8">5</text>
<line x1="270" y1="878.5" x2="270" y2="880.7" stroke="#333" stroke-width="0.8"/>
<text x="261.4" y="885.9" text-anchor="end" transform="rotate(-90 261.4 885.9)" font-size="9.8">–5</text>
<text x="272.4" y="885.9" text-anchor="end" textLength="15.4" lengthAdjust="spacingAndGlyphs" transform="rotate(-90 272.4 885.9)" font-size="9.8">TSS</text>
<text x="282.4" y="885.9" text-anchor="end" transform="rotate(-90 282.4 885.9)" font-size="9.8">5</text>
<line x1="299.5" y1="878.5" x2="299.5" y2="880.7" stroke="#333" stroke-width="0.8"/>
<text x="290.9" y="885.9" text-anchor="end" transform="rotate(-90 290.9 885.9)" font-size="9.8">–5</text>
<text x="301.9" y="885.9" text-anchor="end" textLength="15.4" lengthAdjust="spacingAndGlyphs" transform="rotate(-90 301.9 885.9)" font-size="9.8">TSS</text>
<text x="311.9" y="885.9" text-anchor="end" transform="rotate(-90 311.9 885.9)" font-size="9.8">5</text>
<line x1="329" y1="878.5" x2="329" y2="880.7" stroke="#333" stroke-width="0.8"/>
<text x="320.4" y="885.9" text-anchor="end" transform="rotate(-90 320.4 885.9)" font-size="9.8">–5</text>
<text x="331.4" y="885.9" text-anchor="end" textLength="15.4" lengthAdjust="spacingAndGlyphs" transform="rotate(-90 331.4 885.9)" font-size="9.8">TSS</text>
<text x="341.4" y="885.9" text-anchor="end" transform="rotate(-90 341.4 885.9)" font-size="9.8">5</text>
<line x1="358" y1="878.5" x2="358" y2="880.7" stroke="#333" stroke-width="0.8"/>
<text x="349.4" y="885.9" text-anchor="end" transform="rotate(-90 349.4 885.9)" font-size="9.8">–5</text>
<text x="360.4" y="885.9" text-anchor="end" textLength="15.4" lengthAdjust="spacingAndGlyphs" transform="rotate(-90 360.4 885.9)" font-size="9.8">TSS</text>
<text x="370.4" y="885.9" text-anchor="end" transform="rotate(-90 370.4 885.9)" font-size="9.8">5</text>
<text x="103.6" y="918.7" text-anchor="middle" textLength="65" lengthAdjust="spacingAndGlyphs">Distance (kb)</text>
<text x="299.5" y="918.7" text-anchor="middle" textLength="65.7" lengthAdjust="spacingAndGlyphs">Distance (kb)</text>
<rect x="192" y="855.5" width="6.5" height="28.3" fill="url(#gbar)" stroke="#999" stroke-width="0.5"/>
<text x="203.8" y="861.8" font-size="10">7</text>
<text x="203.8" y="884.7" font-size="10">0</text>
<rect x="380.8" y="854.9" width="7" height="28.4" fill="url(#gbar)" stroke="#999" stroke-width="0.5"/>
<text x="392.5" y="861.5" font-size="10">16</text>
<text x="392.5" y="884.3" font-size="10">0</text>
<text x="442.8" y="635" font-weight="bold" fill="#000" font-size="15">e</text>
<text x="541" y="632.7" text-anchor="middle" textLength="46.4" lengthAdjust="spacingAndGlyphs">CUT&amp;Tag</text>
<rect x="480.5" y="637.2" width="121" height="125.8" fill="none" stroke="#8a8a8a" stroke-width="1"/>
<line x1="476.2" y1="742.3" x2="480.5" y2="742.3" stroke="#8a8a8a" stroke-width="0.9"/>
<text x="471.6" y="745.9" text-anchor="end" font-size="10">0.5</text>
<line x1="476.2" y1="716.3" x2="480.5" y2="716.3" stroke="#8a8a8a" stroke-width="0.9"/>
<text x="471.6" y="719.9" text-anchor="end" font-size="10">1.0</text>
<line x1="476.2" y1="690.3" x2="480.5" y2="690.3" stroke="#8a8a8a" stroke-width="0.9"/>
<text x="471.6" y="693.9" text-anchor="end" font-size="10">1.5</text>
<line x1="476.2" y1="664.3" x2="480.5" y2="664.3" stroke="#8a8a8a" stroke-width="0.9"/>
<text x="471.6" y="667.9" text-anchor="end" font-size="10">2.0</text>
<line x1="476.2" y1="638.3" x2="480.5" y2="638.3" stroke="#8a8a8a" stroke-width="0.9"/>
<text x="471.6" y="641.9" text-anchor="end" font-size="10">2.5</text>
<line x1="480.5" y1="763" x2="480.5" y2="767" stroke="#8a8a8a" stroke-width="0.9"/>
<line x1="541" y1="763" x2="541" y2="767" stroke="#8a8a8a" stroke-width="0.9"/>
<line x1="601.5" y1="763" x2="601.5" y2="767" stroke="#8a8a8a" stroke-width="0.9"/>
<text x="480.5" y="780.6" text-anchor="middle">–5 kb</text>
<text x="541" y="780.6" text-anchor="middle">TSS</text>
<text x="602.5" y="780.6" text-anchor="middle">5 kb</text>
<text x="541" y="655.8" text-anchor="middle">H3K27me3</text>
<text x="451.3" y="700.5" text-anchor="middle" transform="rotate(-90 451.3 700.5)">Read density</text>
<polyline points="480.5,754.8 481.3,754.7 482,754.7 482.8,754.6 483.5,754.6 484.3,754.5 485,754.5 485.8,754.4 486.6,754.3 487.3,754.3 488.1,754.2 488.8,754.1 489.6,754 490.3,754 491.1,753.9 491.8,753.8 492.6,753.7 493.4,753.6 494.1,753.6 494.9,753.5 495.6,753.4 496.4,753.3 497.1,753.3 497.9,753.2 498.6,753.1 499.4,753.1 500.2,753 500.9,753 501.7,752.9 502.4,752.9 503.2,752.8 503.9,752.8 504.7,752.8 505.5,752.7 506.2,752.7 507,752.7 507.7,752.6 508.5,752.6 509.2,752.5 510,752.5 510.8,752.4 511.5,752.4 512.3,752.3 513,752.2 513.8,752.1 514.5,752 515.3,751.9 516,751.8 516.8,751.6 517.6,751.5 518.3,751.3 519.1,751.1 519.8,750.9 520.6,750.7 521.3,750.5 522.1,750.3 522.9,750.1 523.6,749.8 524.4,749.5 525.1,749.3 525.9,749 526.6,748.7 527.4,748.4 528.1,748.1 528.9,747.7 529.7,747.4 530.4,747.1 531.2,746.7 531.9,746.3 532.7,746 533.4,745.6 534.2,745.2 535,744.8 535.7,744.3 536.5,743.9 537.2,743.4 538,742.9 538.7,742.4 539.5,741.9 540.2,741.3 541,740.7 541.8,741.3 542.5,741.8 543.3,742.4 544,742.9 544.8,743.4 545.5,743.9 546.3,744.4 547,744.8 547.8,745.2 548.6,745.6 549.3,746 550.1,746.3 550.8,746.6 551.6,746.9 552.3,747.2 553.1,747.5 553.9,747.7 554.6,747.9 555.4,748.2 556.1,748.3 556.9,748.5 557.6,748.7 558.4,748.9 559.1,749 559.9,749.2 560.7,749.3 561.4,749.5 562.2,749.6 562.9,749.8 563.7,749.9 564.4,750.1 565.2,750.2 566,750.3 566.7,750.5 567.5,750.6 568.2,750.8 569,750.9 569.7,751 570.5,751.2 571.2,751.3 572,751.4 572.8,751.6 573.5,751.7 574.3,751.8 575,751.9 575.8,752 576.5,752.1 577.3,752.2 578.1,752.3 578.8,752.3 579.6,752.4 580.3,752.4 581.1,752.5 581.8,752.5 582.6,752.5 583.4,752.6 584.1,752.6 584.9,752.6 585.6,752.6 586.4,752.6 587.1,752.6 587.9,752.7 588.6,752.7 589.4,752.7 590.2,752.7 590.9,752.7 591.7,752.7 592.4,752.8 593.2,752.8 593.9,752.8 594.7,752.9 595.5,752.9 596.2,753 597,753 597.7,753.1 598.5,753.1 599.2,753.2 600,753.2 600.7,753.3 601.5,753.3" fill="none" stroke="#f0a070" stroke-width="2.6" stroke-linejoin="round"/>
<polyline points="480.5,755.1 481.3,755.1 482,755.2 482.8,755.2 483.5,755.2 484.3,755.2 485,755.2 485.8,755.2 486.6,755.2 487.3,755.1 488.1,755.1 488.8,755 489.6,755 490.3,754.9 491.1,754.8 491.8,754.7 492.6,754.6 493.4,754.6 494.1,754.5 494.9,754.4 495.6,754.3 496.4,754.2 497.1,754.2 497.9,754.1 498.6,754 499.4,754 500.2,754 500.9,754 501.7,754 502.4,754 503.2,754 503.9,754 504.7,754 505.5,754 506.2,754 507,754.1 507.7,754.1 508.5,754.1 509.2,754.1 510,754.1 510.8,754 511.5,754 512.3,753.9 513,753.8 513.8,753.7 514.5,753.6 515.3,753.5 516,753.3 516.8,753.1 517.6,752.9 518.3,752.7 519.1,752.5 519.8,752.2 520.6,752 521.3,751.7 522.1,751.4 522.9,751.1 523.6,750.9 524.4,750.6 525.1,750.3 525.9,750 526.6,749.7 527.4,749.3 528.1,749 528.9,748.7 529.7,748.4 530.4,748 531.2,747.7 531.9,747.3 532.7,747 533.4,746.6 534.2,746.2 535,745.8 535.7,745.3 536.5,744.9 537.2,744.4 538,743.8 538.7,743.3 539.5,742.7 540.2,742.1 541,741.4 541.8,742 542.5,742.5 543.3,743 544,743.4 544.8,743.9 545.5,744.3 546.3,744.8 547,745.2 547.8,745.6 548.6,746 549.3,746.4 550.1,746.8 550.8,747.1 551.6,747.5 552.3,747.8 553.1,748.2 553.9,748.5 554.6,748.9 555.4,749.2 556.1,749.5 556.9,749.7 557.6,750 558.4,750.3 559.1,750.5 559.9,750.7 560.7,750.9 561.4,751.1 562.2,751.2 562.9,751.3 563.7,751.5 564.4,751.5 565.2,751.6 566,751.7 566.7,751.7 567.5,751.7 568.2,751.7 569,751.8 569.7,751.8 570.5,751.8 571.2,751.8 572,751.8 572.8,751.8 573.5,751.8 574.3,751.8 575,751.9 575.8,751.9 576.5,752 577.3,752.1 578.1,752.2 578.8,752.3 579.6,752.4 580.3,752.5 581.1,752.7 581.8,752.8 582.6,753 583.4,753.1 584.1,753.3 584.9,753.4 585.6,753.6 586.4,753.7 587.1,753.9 587.9,754 588.6,754.1 589.4,754.2 590.2,754.3 590.9,754.3 591.7,754.4 592.4,754.4 593.2,754.4 593.9,754.4 594.7,754.4 595.5,754.4 596.2,754.3 597,754.3 597.7,754.2 598.5,754.2 599.2,754.1 600,754.1 600.7,754.1 601.5,754" fill="none" stroke="#e8202a" stroke-width="1.9" stroke-linejoin="round"/>
<polyline points="480.5,734.9 481.3,734.8 482,734.8 482.8,734.7 483.5,734.6 484.3,734.5 485,734.4 485.8,734.3 486.6,734.3 487.3,734.2 488.1,734.1 488.8,734.1 489.6,734 490.3,734 491.1,733.9 491.8,733.9 492.6,733.9 493.4,733.8 494.1,733.8 494.9,733.8 495.6,733.8 496.4,733.8 497.1,733.8 497.9,733.8 498.6,733.8 499.4,733.8 500.2,733.8 500.9,733.8 501.7,733.8 502.4,733.7 503.2,733.7 503.9,733.6 504.7,733.6 505.5,733.5 506.2,733.5 507,733.4 507.7,733.3 508.5,733.2 509.2,733.1 510,733 510.8,732.8 511.5,732.7 512.3,732.5 513,732.4 513.8,732.2 514.5,732 515.3,731.9 516,731.7 516.8,731.4 517.6,731.2 518.3,730.9 519.1,730.7 519.8,730.4 520.6,730.1 521.3,729.7 522.1,729.3 522.9,728.9 523.6,728.5 524.4,728 525.1,727.5 525.9,727 526.6,726.4 527.4,725.7 528.1,725 528.9,724.2 529.7,723.4 530.4,722.5 531.2,721.6 531.9,720.6 532.7,719.4 533.4,718.2 534.2,716.9 535,715.5 535.7,714 536.5,712.4 537.2,710.6 538,708.6 538.7,706.5 539.5,704.2 540.2,701.7 541,699 541.8,701 542.5,702.9 543.3,704.8 544,706.5 544.8,708.1 545.5,709.6 546.3,711 547,712.4 547.8,713.6 548.6,714.8 549.3,715.9 550.1,716.9 550.8,717.9 551.6,718.8 552.3,719.6 553.1,720.4 553.9,721.1 554.6,721.7 555.4,722.3 556.1,722.9 556.9,723.4 557.6,723.9 558.4,724.3 559.1,724.7 559.9,725.1 560.7,725.4 561.4,725.7 562.2,726 562.9,726.3 563.7,726.6 564.4,726.8 565.2,727.1 566,727.3 566.7,727.6 567.5,727.8 568.2,728 569,728.2 569.7,728.5 570.5,728.7 571.2,728.9 572,729.1 572.8,729.3 573.5,729.5 574.3,729.7 575,729.9 575.8,730.1 576.5,730.3 577.3,730.5 578.1,730.7 578.8,730.9 579.6,731.1 580.3,731.3 581.1,731.4 581.8,731.6 582.6,731.8 583.4,731.9 584.1,732.1 584.9,732.2 585.6,732.3 586.4,732.5 587.1,732.6 587.9,732.7 588.6,732.8 589.4,732.9 590.2,733 590.9,733.1 591.7,733.1 592.4,733.2 593.2,733.2 593.9,733.3 594.7,733.3 595.5,733.3 596.2,733.3 597,733.3 597.7,733.2 598.5,733.2 599.2,733.1 600,733 600.7,733 601.5,732.9" fill="none" stroke="#2d5fd8" stroke-width="1.8" stroke-linejoin="round"/>
<polyline points="480.5,724.1 481.3,724 482,724 482.8,723.9 483.5,723.9 484.3,723.9 485,723.9 485.8,723.8 486.6,723.8 487.3,723.8 488.1,723.8 488.8,723.8 489.6,723.7 490.3,723.7 491.1,723.6 491.8,723.6 492.6,723.5 493.4,723.5 494.1,723.4 494.9,723.3 495.6,723.2 496.4,723.1 497.1,723 497.9,722.9 498.6,722.8 499.4,722.6 500.2,722.5 500.9,722.4 501.7,722.2 502.4,722.1 503.2,722 503.9,721.8 504.7,721.7 505.5,721.6 506.2,721.4 507,721.3 507.7,721.2 508.5,721.1 509.2,721 510,720.9 510.8,720.8 511.5,720.7 512.3,720.6 513,720.5 513.8,720.4 514.5,720.3 515.3,720.2 516,720.1 516.8,719.9 517.6,719.8 518.3,719.6 519.1,719.4 519.8,719.2 520.6,719 521.3,718.7 522.1,718.4 522.9,718 523.6,717.6 524.4,717.2 525.1,716.7 525.9,716.1 526.6,715.6 527.4,714.9 528.1,714.2 528.9,713.4 529.7,712.6 530.4,711.6 531.2,710.6 531.9,709.5 532.7,708.4 533.4,707.1 534.2,705.7 535,704.2 535.7,702.6 536.5,700.9 537.2,699 538,696.9 538.7,694.7 539.5,692.3 540.2,689.6 541,686.8 541.8,689 542.5,691.1 543.3,693.1 544,694.9 544.8,696.7 545.5,698.3 546.3,699.8 547,701.3 547.8,702.7 548.6,703.9 549.3,705.1 550.1,706.3 550.8,707.3 551.6,708.3 552.3,709.2 553.1,710 553.9,710.8 554.6,711.5 555.4,712.2 556.1,712.8 556.9,713.3 557.6,713.8 558.4,714.3 559.1,714.7 559.9,715.1 560.7,715.4 561.4,715.7 562.2,716 562.9,716.2 563.7,716.5 564.4,716.7 565.2,716.9 566,717.1 566.7,717.3 567.5,717.4 568.2,717.6 569,717.8 569.7,717.9 570.5,718.1 571.2,718.3 572,718.4 572.8,718.6 573.5,718.8 574.3,718.9 575,719.1 575.8,719.3 576.5,719.5 577.3,719.6 578.1,719.8 578.8,719.9 579.6,720.1 580.3,720.2 581.1,720.4 581.8,720.5 582.6,720.6 583.4,720.7 584.1,720.8 584.9,720.9 585.6,721 586.4,721 587.1,721.1 587.9,721.1 588.6,721.2 589.4,721.2 590.2,721.2 590.9,721.2 591.7,721.2 592.4,721.2 593.2,721.2 593.9,721.3 594.7,721.3 595.5,721.3 596.2,721.3 597,721.3 597.7,721.3 598.5,721.4 599.2,721.4 600,721.5 600.7,721.5 601.5,721.6" fill="none" stroke="#9a3fd0" stroke-width="2.2" stroke-linejoin="round"/>
<polyline points="480.5,725.5 481.3,725.6 482,725.7 482.8,725.8 483.5,725.8 484.3,725.9 485,726 485.8,726 486.6,726.1 487.3,726.1 488.1,726.1 488.8,726.1 489.6,726.1 490.3,726.1 491.1,726 491.8,725.9 492.6,725.9 493.4,725.8 494.1,725.7 494.9,725.5 495.6,725.4 496.4,725.3 497.1,725.2 497.9,725 498.6,724.9 499.4,724.8 500.2,724.6 500.9,724.5 501.7,724.4 502.4,724.3 503.2,724.2 503.9,724.1 504.7,724 505.5,724 506.2,723.9 507,723.8 507.7,723.8 508.5,723.7 509.2,723.7 510,723.6 510.8,723.6 511.5,723.5 512.3,723.5 513,723.4 513.8,723.3 514.5,723.2 515.3,723.1 516,723 516.8,722.9 517.6,722.7 518.3,722.5 519.1,722.3 519.8,722.1 520.6,721.8 521.3,721.5 522.1,721.2 522.9,720.8 523.6,720.4 524.4,720 525.1,719.5 525.9,718.9 526.6,718.3 527.4,717.7 528.1,717 528.9,716.2 529.7,715.4 530.4,714.5 531.2,713.5 531.9,712.4 532.7,711.3 533.4,710 534.2,708.7 535,707.2 535.7,705.6 536.5,703.9 537.2,702 538,700 538.7,697.8 539.5,695.4 540.2,692.7 541,689.9 541.8,692 542.5,693.9 543.3,695.7 544,697.5 544.8,699.1 545.5,700.6 546.3,702 547,703.4 547.8,704.6 548.6,705.8 549.3,707 550.1,708 550.8,709 551.6,710 552.3,710.9 553.1,711.7 553.9,712.5 554.6,713.3 555.4,714 556.1,714.6 556.9,715.2 557.6,715.8 558.4,716.3 559.1,716.8 559.9,717.3 560.7,717.7 561.4,718.1 562.2,718.5 562.9,718.8 563.7,719.1 564.4,719.4 565.2,719.7 566,719.9 566.7,720.1 567.5,720.3 568.2,720.5 569,720.7 569.7,720.9 570.5,721.1 571.2,721.2 572,721.4 572.8,721.6 573.5,721.8 574.3,721.9 575,722.1 575.8,722.3 576.5,722.5 577.3,722.6 578.1,722.8 578.8,723 579.6,723.2 580.3,723.4 581.1,723.5 581.8,723.7 582.6,723.9 583.4,724 584.1,724.2 584.9,724.3 585.6,724.4 586.4,724.5 587.1,724.6 587.9,724.6 588.6,724.7 589.4,724.7 590.2,724.7 590.9,724.7 591.7,724.6 592.4,724.6 593.2,724.5 593.9,724.4 594.7,724.3 595.5,724.2 596.2,724.1 597,724 597.7,723.9 598.5,723.8 599.2,723.7 600,723.6 600.7,723.6 601.5,723.5" fill="none" stroke="#1a1a1a" stroke-width="1.8" stroke-linejoin="round"/>
<rect x="480.5" y="793.4" width="122.5" height="123.5" fill="none" stroke="#8a8a8a" stroke-width="1"/>
<line x1="476.2" y1="901.3" x2="480.5" y2="901.3" stroke="#8a8a8a" stroke-width="0.9"/>
<text x="471.6" y="904.9" text-anchor="end" font-size="10">2</text>
<line x1="476.2" y1="878.6" x2="480.5" y2="878.6" stroke="#8a8a8a" stroke-width="0.9"/>
<text x="471.6" y="882.2" text-anchor="end" font-size="10">4</text>
<line x1="476.2" y1="855.9" x2="480.5" y2="855.9" stroke="#8a8a8a" stroke-width="0.9"/>
<text x="471.6" y="859.5" text-anchor="end" font-size="10">6</text>
<line x1="476.2" y1="833.2" x2="480.5" y2="833.2" stroke="#8a8a8a" stroke-width="0.9"/>
<text x="471.6" y="836.8" text-anchor="end" font-size="10">8</text>
<line x1="476.2" y1="810.5" x2="480.5" y2="810.5" stroke="#8a8a8a" stroke-width="0.9"/>
<text x="471.6" y="814.1" text-anchor="end" font-size="10">10</text>
<line x1="480.5" y1="916.9" x2="480.5" y2="920.9" stroke="#8a8a8a" stroke-width="0.9"/>
<line x1="541.8" y1="916.9" x2="541.8" y2="920.9" stroke="#8a8a8a" stroke-width="0.9"/>
<line x1="603" y1="916.9" x2="603" y2="920.9" stroke="#8a8a8a" stroke-width="0.9"/>
<text x="480.5" y="934.5" text-anchor="middle">–5 kb</text>
<text x="541.8" y="934.5" text-anchor="middle">TSS</text>
<text x="604" y="934.5" text-anchor="middle">5 kb</text>
<text x="541.8" y="810.4" text-anchor="middle">H3K27ac</text>
<text x="452.3" y="855" text-anchor="middle" transform="rotate(-90 452.3 855)">Read density</text>
<polyline points="480.5,906.5 481.3,906.5 482,906.5 482.8,906.4 483.6,906.4 484.3,906.4 485.1,906.4 485.9,906.4 486.6,906.4 487.4,906.4 488.2,906.4 488.9,906.5 489.7,906.5 490.5,906.5 491.2,906.5 492,906.6 492.8,906.6 493.5,906.6 494.3,906.6 495,906.6 495.8,906.6 496.6,906.6 497.3,906.6 498.1,906.5 498.9,906.5 499.6,906.4 500.4,906.4 501.2,906.3 501.9,906.3 502.7,906.2 503.5,906.1 504.2,906 505,905.9 505.8,905.8 506.5,905.7 507.3,905.6 508.1,905.5 508.8,905.4 509.6,905.3 510.4,905.2 511.1,905.1 511.9,905 512.7,904.9 513.4,904.8 514.2,904.7 515,904.6 515.7,904.5 516.5,904.4 517.2,904.3 518,904.2 518.8,904.1 519.5,904 520.3,903.9 521.1,903.7 521.8,903.6 522.6,903.3 523.4,903.1 524.1,902.7 524.9,902.3 525.7,901.7 526.4,901 527.2,900.1 528,899.1 528.7,897.8 529.5,896.2 530.3,894.3 531,892 531.8,889.3 532.6,886.1 533.3,882.4 534.1,878.2 534.9,873.4 535.6,868.2 536.4,862.4 537.2,856.2 537.9,849.7 538.7,843 539.5,836.6 540.2,830.6 541,825.7 541.8,822.8 542.5,825.7 543.3,830.7 544,836.7 544.8,843.2 545.6,849.8 546.3,856.4 547.1,862.6 547.9,868.4 548.6,873.8 549.4,878.5 550.2,882.8 550.9,886.5 551.7,889.7 552.5,892.4 553.2,894.7 554,896.7 554.8,898.3 555.5,899.6 556.3,900.7 557.1,901.6 557.8,902.3 558.6,902.8 559.4,903.3 560.1,903.6 560.9,903.9 561.7,904.1 562.4,904.3 563.2,904.4 564,904.5 564.7,904.6 565.5,904.7 566.2,904.7 567,904.8 567.8,904.8 568.5,904.8 569.3,904.9 570.1,904.9 570.8,905 571.6,905 572.4,905.1 573.1,905.1 573.9,905.2 574.7,905.2 575.4,905.3 576.2,905.4 577,905.4 577.7,905.5 578.5,905.6 579.3,905.6 580,905.7 580.8,905.7 581.6,905.8 582.3,905.8 583.1,905.9 583.9,905.9 584.6,905.9 585.4,906 586.2,906 586.9,906 587.7,906 588.5,906 589.2,906 590,906 590.8,906 591.5,906 592.3,905.9 593,905.9 593.8,905.9 594.6,905.9 595.3,905.9 596.1,905.9 596.9,905.8 597.6,905.8 598.4,905.8 599.2,905.8 599.9,905.8 600.7,905.8 601.5,905.9 602.2,905.9 603,905.9" fill="none" stroke="#9a3fd0" stroke-width="2.2" stroke-linejoin="round"/>
<polyline points="480.5,908.8 481.3,908.8 482,908.7 482.8,908.7 483.6,908.7 484.3,908.7 485.1,908.7 485.9,908.7 486.6,908.7 487.4,908.8 488.2,908.8 488.9,908.8 489.7,908.9 490.5,909 491.2,909 492,909.1 492.8,909.1 493.5,909.2 494.3,909.2 495,909.2 495.8,909.3 496.6,909.3 497.3,909.3 498.1,909.3 498.9,909.2 499.6,909.2 500.4,909.2 501.2,909.1 501.9,909 502.7,908.9 503.5,908.8 504.2,908.7 505,908.6 505.8,908.5 506.5,908.4 507.3,908.2 508.1,908.1 508.8,908 509.6,907.9 510.4,907.7 511.1,907.6 511.9,907.5 512.7,907.4 513.4,907.3 514.2,907.2 515,907.2 515.7,907.1 516.5,907 517.2,907 518,906.9 518.8,906.8 519.5,906.8 520.3,906.7 521.1,906.6 521.8,906.5 522.6,906.3 523.4,906.1 524.1,905.8 524.9,905.5 525.7,905 526.4,904.4 527.2,903.7 528,902.7 528.7,901.6 529.5,900.1 530.3,898.4 531,896.3 531.8,893.9 532.6,891 533.3,887.6 534.1,883.7 534.9,879.4 535.6,874.5 536.4,869.2 537.2,863.5 537.9,857.5 538.7,851.4 539.5,845.5 540.2,840 541,835.4 541.8,832.8 542.5,835.3 543.3,839.8 544,845.2 544.8,851 545.6,857.1 546.3,863 547.1,868.6 547.9,873.9 548.6,878.7 549.4,883 550.2,886.9 550.9,890.3 551.7,893.2 552.5,895.7 553.2,897.8 554,899.6 554.8,901.1 555.5,902.4 556.3,903.4 557.1,904.2 557.8,905 558.6,905.5 559.4,906 560.1,906.4 560.9,906.7 561.7,907 562.4,907.2 563.2,907.4 564,907.6 564.7,907.8 565.5,907.9 566.2,908 567,908.1 567.8,908.2 568.5,908.3 569.3,908.4 570.1,908.4 570.8,908.5 571.6,908.6 572.4,908.6 573.1,908.7 573.9,908.7 574.7,908.8 575.4,908.8 576.2,908.8 577,908.8 577.7,908.9 578.5,908.9 579.3,908.9 580,908.9 580.8,908.9 581.6,908.9 582.3,908.9 583.1,908.8 583.9,908.8 584.6,908.8 585.4,908.8 586.2,908.7 586.9,908.7 587.7,908.7 588.5,908.6 589.2,908.6 590,908.6 590.8,908.6 591.5,908.5 592.3,908.5 593,908.5 593.8,908.5 594.6,908.5 595.3,908.5 596.1,908.5 596.9,908.5 597.6,908.6 598.4,908.6 599.2,908.6 599.9,908.7 600.7,908.7 601.5,908.8 602.2,908.9 603,908.9" fill="none" stroke="#f0a070" stroke-width="2.4" stroke-linejoin="round"/>
<polyline points="480.5,911.5 481.3,911.5 482,911.5 482.8,911.5 483.6,911.5 484.3,911.5 485.1,911.5 485.9,911.5 486.6,911.5 487.4,911.5 488.2,911.5 488.9,911.5 489.7,911.6 490.5,911.6 491.2,911.6 492,911.6 492.8,911.6 493.5,911.5 494.3,911.5 495,911.5 495.8,911.5 496.6,911.5 497.3,911.4 498.1,911.4 498.9,911.4 499.6,911.3 500.4,911.3 501.2,911.2 501.9,911.2 502.7,911.1 503.5,911 504.2,910.9 505,910.9 505.8,910.8 506.5,910.7 507.3,910.6 508.1,910.6 508.8,910.5 509.6,910.4 510.4,910.3 511.1,910.3 511.9,910.2 512.7,910.1 513.4,910.1 514.2,910 515,909.9 515.7,909.9 516.5,909.8 517.2,909.7 518,909.7 518.8,909.6 519.5,909.5 520.3,909.4 521.1,909.3 521.8,909.1 522.6,909 523.4,908.7 524.1,908.4 524.9,908 525.7,907.6 526.4,906.9 527.2,906.2 528,905.3 528.7,904.1 529.5,902.7 530.3,901 531,899 531.8,896.6 532.6,893.8 533.3,890.6 534.1,886.9 534.9,882.7 535.6,878 536.4,872.9 537.2,867.4 537.9,861.7 538.7,855.8 539.5,850.1 540.2,844.8 541,840.4 541.8,837.9 542.5,840.4 543.3,844.8 544,850.1 544.8,855.8 545.6,861.6 546.3,867.4 547.1,872.8 547.9,878 548.6,882.6 549.4,886.9 550.2,890.6 550.9,893.9 551.7,896.7 552.5,899.1 553.2,901.2 554,902.9 554.8,904.4 555.5,905.6 556.3,906.6 557.1,907.4 557.8,908 558.6,908.6 559.4,909 560.1,909.3 560.9,909.6 561.7,909.8 562.4,910 563.2,910.2 564,910.3 564.7,910.4 565.5,910.4 566.2,910.5 567,910.5 567.8,910.6 568.5,910.6 569.3,910.6 570.1,910.6 570.8,910.6 571.6,910.7 572.4,910.7 573.1,910.7 573.9,910.7 574.7,910.7 575.4,910.7 576.2,910.7 577,910.7 577.7,910.7 578.5,910.8 579.3,910.8 580,910.8 580.8,910.9 581.6,910.9 582.3,911 583.1,911 583.9,911.1 584.6,911.1 585.4,911.2 586.2,911.3 586.9,911.4 587.7,911.4 588.5,911.5 589.2,911.6 590,911.7 590.8,911.7 591.5,911.8 592.3,911.9 593,912 593.8,912 594.6,912.1 595.3,912.2 596.1,912.2 596.9,912.2 597.6,912.3 598.4,912.3 599.2,912.3 599.9,912.4 600.7,912.4 601.5,912.4 602.2,912.4 603,912.4" fill="none" stroke="#1a1a1a" stroke-width="1.8" stroke-linejoin="round"/>
<polyline points="480.5,912.9 481.3,912.9 482,912.9 482.8,913 483.6,913 484.3,913 485.1,913 485.9,913 486.6,913 487.4,913 488.2,913 488.9,913 489.7,912.9 490.5,912.8 491.2,912.8 492,912.7 492.8,912.6 493.5,912.5 494.3,912.4 495,912.3 495.8,912.2 496.6,912.1 497.3,912 498.1,911.9 498.9,911.8 499.6,911.7 500.4,911.6 501.2,911.5 501.9,911.5 502.7,911.4 503.5,911.4 504.2,911.3 505,911.3 505.8,911.3 506.5,911.2 507.3,911.2 508.1,911.2 508.8,911.3 509.6,911.3 510.4,911.3 511.1,911.3 511.9,911.4 512.7,911.4 513.4,911.5 514.2,911.5 515,911.5 515.7,911.6 516.5,911.6 517.2,911.7 518,911.7 518.8,911.7 519.5,911.7 520.3,911.7 521.1,911.7 521.8,911.6 522.6,911.5 523.4,911.4 524.1,911.2 524.9,910.9 525.7,910.5 526.4,910.1 527.2,909.4 528,908.7 528.7,907.7 529.5,906.5 530.3,905 531,903.1 531.8,901 532.6,898.4 533.3,895.3 534.1,891.8 534.9,887.8 535.6,883.3 536.4,878.3 537.2,873 537.9,867.3 538.7,861.5 539.5,855.7 540.2,850.4 541,845.9 541.8,843.3 542.5,845.7 543.3,850 544,855.1 544.8,860.6 545.6,866.3 546.3,871.8 547.1,877 547.9,881.9 548.6,886.2 549.4,890.2 550.2,893.6 550.9,896.6 551.7,899.2 552.5,901.3 553.2,903.2 554,904.7 554.8,906 555.5,907 556.3,907.8 557.1,908.5 557.8,909.1 558.6,909.6 559.4,909.9 560.1,910.2 560.9,910.4 561.7,910.6 562.4,910.8 563.2,910.9 564,911 564.7,911 565.5,911.1 566.2,911.1 567,911.1 567.8,911.1 568.5,911.1 569.3,911.1 570.1,911.1 570.8,911.2 571.6,911.2 572.4,911.2 573.1,911.2 573.9,911.2 574.7,911.3 575.4,911.4 576.2,911.4 577,911.5 577.7,911.6 578.5,911.7 579.3,911.9 580,912 580.8,912.1 581.6,912.3 582.3,912.5 583.1,912.6 583.9,912.8 584.6,912.9 585.4,913.1 586.2,913.2 586.9,913.4 587.7,913.5 588.5,913.6 589.2,913.7 590,913.8 590.8,913.9 591.5,914 592.3,914 593,914 593.8,914 594.6,914 595.3,914 596.1,913.9 596.9,913.9 597.6,913.8 598.4,913.7 599.2,913.6 599.9,913.6 600.7,913.5 601.5,913.4 602.2,913.3 603,913.2" fill="none" stroke="#e02030" stroke-width="2.2" stroke-linejoin="round"/>
<polyline points="480.5,912.2 481.3,912.2 482,912.2 482.8,912.2 483.6,912.1 484.3,912.1 485.1,912.1 485.9,912 486.6,912 487.4,912 488.2,911.9 488.9,911.9 489.7,911.9 490.5,911.9 491.2,911.9 492,911.8 492.8,911.8 493.5,911.8 494.3,911.8 495,911.8 495.8,911.8 496.6,911.8 497.3,911.8 498.1,911.8 498.9,911.8 499.6,911.8 500.4,911.8 501.2,911.8 501.9,911.8 502.7,911.8 503.5,911.7 504.2,911.7 505,911.7 505.8,911.6 506.5,911.6 507.3,911.6 508.1,911.5 508.8,911.5 509.6,911.4 510.4,911.3 511.1,911.3 511.9,911.2 512.7,911.1 513.4,911 514.2,910.9 515,910.8 515.7,910.7 516.5,910.6 517.2,910.5 518,910.4 518.8,910.3 519.5,910.1 520.3,910 521.1,909.8 521.8,909.6 522.6,909.4 523.4,909.1 524.1,908.7 524.9,908.3 525.7,907.8 526.4,907.2 527.2,906.4 528,905.5 528.7,904.4 529.5,903 530.3,901.4 531,899.4 531.8,897.1 532.6,894.4 533.3,891.2 534.1,887.6 534.9,883.6 535.6,879 536.4,874.1 537.2,868.7 537.9,863.1 538.7,857.4 539.5,851.9 540.2,846.7 541,842.5 541.8,840 542.5,842.5 543.3,846.8 544,852.1 544.8,857.7 545.6,863.5 546.3,869.1 547.1,874.5 547.9,879.5 548.6,884.1 549.4,888.2 550.2,891.8 550.9,895 551.7,897.7 552.5,900 553.2,902 554,903.6 554.8,905 555.5,906.1 556.3,907 557.1,907.7 557.8,908.2 558.6,908.7 559.4,909.1 560.1,909.4 560.9,909.6 561.7,909.8 562.4,909.9 563.2,910 564,910.1 564.7,910.2 565.5,910.3 566.2,910.4 567,910.5 567.8,910.6 568.5,910.6 569.3,910.7 570.1,910.8 570.8,910.9 571.6,911 572.4,911.1 573.1,911.2 573.9,911.2 574.7,911.3 575.4,911.4 576.2,911.5 577,911.6 577.7,911.7 578.5,911.8 579.3,911.9 580,912 580.8,912.1 581.6,912.2 582.3,912.3 583.1,912.3 583.9,912.4 584.6,912.5 585.4,912.5 586.2,912.6 586.9,912.6 587.7,912.7 588.5,912.7 589.2,912.7 590,912.7 590.8,912.8 591.5,912.8 592.3,912.8 593,912.8 593.8,912.8 594.6,912.8 595.3,912.8 596.1,912.8 596.9,912.8 597.6,912.8 598.4,912.8 599.2,912.7 599.9,912.7 600.7,912.7 601.5,912.7 602.2,912.7 603,912.7" fill="none" stroke="#2d3fd8" stroke-width="1.8" stroke-linejoin="round"/>
<line x1="622.9" y1="744.3" x2="632.4" y2="744.3" stroke="#000" stroke-width="1.8"/>
<text x="638.3" y="747.8" textLength="18.5" lengthAdjust="spacingAndGlyphs">Ctrl</text>
<line x1="622.9" y1="759.2" x2="632.4" y2="759.2" stroke="#9a30d9" stroke-width="1.8"/>
<text x="638.3" y="762.8">WT</text>
<line x1="622.9" y1="774.2" x2="632.4" y2="774.2" stroke="#1a2aff" stroke-width="1.8"/>
<text x="638.3" y="777.7">mt1</text>
<line x1="622.9" y1="789.1" x2="632.4" y2="789.1" stroke="#ff1a1a" stroke-width="1.8"/>
<text x="638.3" y="792.6">mt2</text>
<line x1="622.9" y1="804.1" x2="632.4" y2="804.1" stroke="#ff6a10" stroke-width="1.8"/>
<text x="638.3" y="807.6">dEZH2</text>
</svg>
</body></html>
